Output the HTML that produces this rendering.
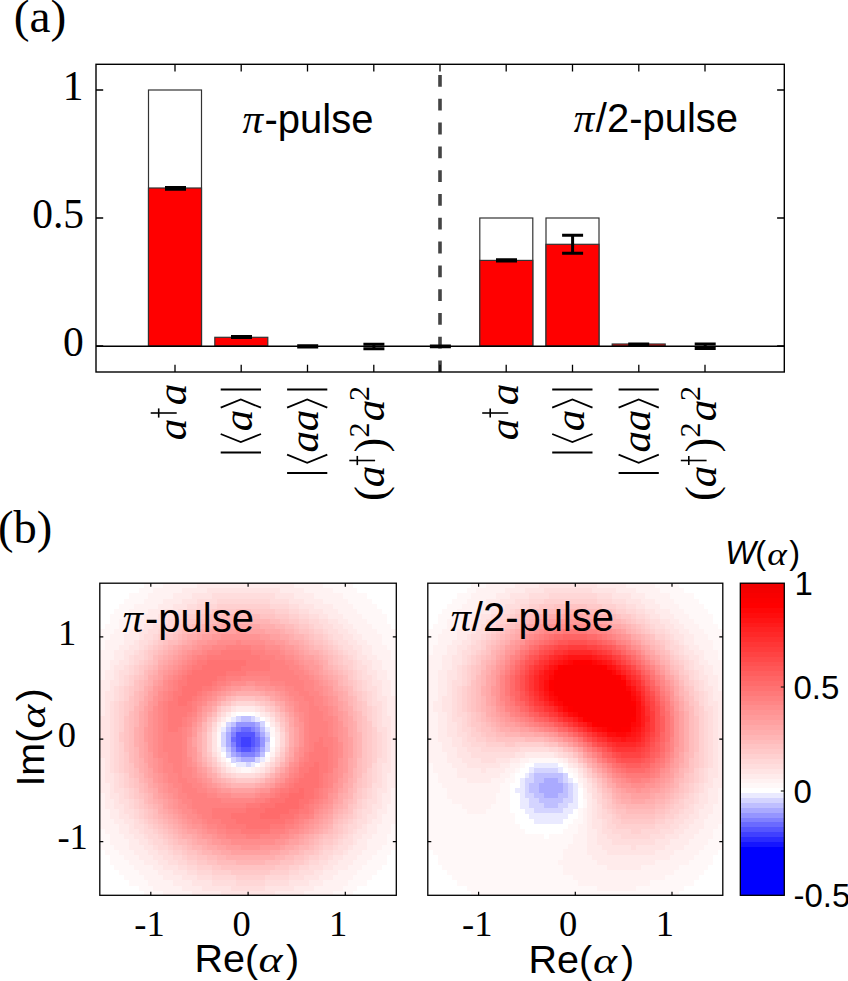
<!DOCTYPE html><html><head><meta charset="utf-8"><style>html,body{margin:0;padding:0;background:#fff;}svg{display:block;}</style></head><body>
<svg width="848" height="981" viewBox="0 0 848 981">
<rect width="848" height="981" fill="#fff"/>
<text x="13.8" y="31.8" font-family='"Liberation Serif", serif' font-size="47.4">(a)</text>
<rect x="148.5" y="90.0" width="53.0" height="256.0" fill="#fff" stroke="#333" stroke-width="1.2"/>
<rect x="479.8" y="218.0" width="53.0" height="128.0" fill="#fff" stroke="#333" stroke-width="1.2"/>
<rect x="546.0" y="218.0" width="53.0" height="128.0" fill="#fff" stroke="#333" stroke-width="1.2"/>
<rect x="148.5" y="188.0" width="53.0" height="158.0" fill="#f00" stroke="#333" stroke-width="1.2"/>
<rect x="214.8" y="337.3" width="53.0" height="8.7" fill="#f00" stroke="#333" stroke-width="1.2"/>
<rect x="479.8" y="260.4" width="53.0" height="85.6" fill="#f00" stroke="#333" stroke-width="1.2"/>
<rect x="546.0" y="244.3" width="53.0" height="101.7" fill="#f00" stroke="#333" stroke-width="1.2"/>
<rect x="612.2" y="344.0" width="53.0" height="2.0" fill="#f00" stroke="#333" stroke-width="1.2"/>
<line x1="96" y1="346.3" x2="784" y2="346.3" stroke="#000" stroke-width="1.4"/>
<path d="M440 75.0V86.8M440 98.8V110.6M440 122.6V134.4M440 146.4V158.2M440 170.2V182.0M440 194.0V205.8M440 217.8V229.6M440 241.6V253.4M440 265.4V277.2M440 289.2V301.0M440 313.0V324.8M440 336.8V348.6M440 360.6V372.0" stroke="#444" stroke-width="3.6" fill="none"/>
<path d="M165.0 187.6H186.0M165.0 189.2H186.0M175.5 187.6V189.2" stroke="#000" stroke-width="3.0" fill="none"/>
<path d="M231.0 336.6H252.0M231.0 337.5H252.0M241.5 336.6V337.5" stroke="#000" stroke-width="3.0" fill="none"/>
<path d="M297.2 345.8H318.2M297.2 347.0H318.2M307.7 345.8V347.0" stroke="#000" stroke-width="3.0" fill="none"/>
<path d="M363.4 344.2H384.4M363.4 348.7H384.4M373.9 344.2V348.7" stroke="#000" stroke-width="3.0" fill="none"/>
<path d="M429.9 346.0H450.9M429.9 346.9H450.9M440.4 346.0V346.9" stroke="#000" stroke-width="2.8" fill="none"/>
<path d="M496.0 259.7H517.0M496.0 261.0H517.0M506.5 259.7V261.0" stroke="#000" stroke-width="3.0" fill="none"/>
<path d="M562.1 235.3H583.1M562.1 253.2H583.1M572.6 235.3V253.2" stroke="#000" stroke-width="3.0" fill="none"/>
<path d="M628.2 343.9H649.2M628.2 344.9H649.2M638.7 343.9V344.9" stroke="#000" stroke-width="3.0" fill="none"/>
<path d="M694.7 344.0H715.7M694.7 348.6H715.7M705.2 344.0V348.6" stroke="#000" stroke-width="3.0" fill="none"/>
<rect x="96" y="64.3" width="688.3" height="307.7" fill="none" stroke="#000" stroke-width="1.4"/>
<path d="M175.0 64.3V71.5M175.0 372V364.8M241.2 64.3V71.5M241.2 372V364.8M307.5 64.3V71.5M307.5 372V364.8M373.8 64.3V71.5M373.8 372V364.8M440.0 64.3V71.5M440.0 372V364.8M506.2 64.3V71.5M506.2 372V364.8M572.5 64.3V71.5M572.5 372V364.8M638.8 64.3V71.5M638.8 372V364.8M705.0 64.3V71.5M705.0 372V364.8M96 346.0H103.2M784.3 346.0H777.1M96 218.0H103.2M784.3 218.0H777.1M96 90.0H103.2M784.3 90.0H777.1" stroke="#000" stroke-width="1.3" fill="none"/>
<g font-family='"Liberation Serif", serif' font-size="41.5" text-anchor="end">
<text x="83.6" y="100.4">1</text>
<text x="84.1" y="228.2">0.5</text>
<text x="83.8" y="356.3">0</text>
</g>
<text x="242.5" y="132.7" font-family='"Liberation Serif", serif' font-style="italic" font-size="41">π</text>
<text x="264.5" y="132.7" font-family='"Liberation Sans", sans-serif' font-size="40">-pulse</text>
<text x="573.7" y="132.2" font-family='"Liberation Serif", serif' font-style="italic" font-size="41">π</text>
<text x="595.8" y="132.2" font-family='"Liberation Sans", sans-serif' font-size="40">/2-pulse</text>
<text transform="translate(186.0 394.5) rotate(-90)" text-anchor="middle" font-family='"Liberation Serif", serif' font-size="43.0" font-style="italic">a</text>
<text transform="translate(186.0 429.4) rotate(-90)" text-anchor="middle" font-family='"Liberation Serif", serif' font-size="43.0" font-style="italic">a</text>
<path d="M150.7 413.0H176.7" stroke="#000" stroke-width="1.6"/>
<path d="M158.7 408.4V417.6" stroke="#000" stroke-width="1.6"/>
<path d="M220.7 389.6H261.0" stroke="#000" stroke-width="2"/>
<path d="M220.7 407.7L240.8 399.5L261.0 407.7" stroke="#000" stroke-width="1.8" fill="none"/>
<text transform="translate(252.2 420.6) rotate(-90)" text-anchor="middle" font-family='"Liberation Serif", serif' font-size="43.0" font-style="italic">a</text>
<path d="M220.7 434.0L240.8 442.0L261.0 434.0" stroke="#000" stroke-width="1.8" fill="none"/>
<path d="M220.7 452.4H261.0" stroke="#000" stroke-width="2"/>
<path d="M287.1 389.6H327.3" stroke="#000" stroke-width="2"/>
<path d="M287.1 407.7L307.2 399.5L327.3 407.7" stroke="#000" stroke-width="1.8" fill="none"/>
<text transform="translate(318.0 420.6) rotate(-90)" text-anchor="middle" font-family='"Liberation Serif", serif' font-size="43.0" font-style="italic">a</text>
<text transform="translate(318.0 441.8) rotate(-90)" text-anchor="middle" font-family='"Liberation Serif", serif' font-size="43.0" font-style="italic">a</text>
<path d="M287.1 454.7L307.2 462.8L327.3 454.7" stroke="#000" stroke-width="1.8" fill="none"/>
<path d="M287.1 473.1H327.3" stroke="#000" stroke-width="2"/>
<text transform="translate(368.5 393.5) rotate(-90)" text-anchor="middle" font-family='"Liberation Serif", serif' font-size="30.0">2</text>
<text transform="translate(384.4 410.5) rotate(-90)" text-anchor="middle" font-family='"Liberation Serif", serif' font-size="43.0" font-style="italic">a</text>
<text transform="translate(368.5 430.0) rotate(-90)" text-anchor="middle" font-family='"Liberation Serif", serif' font-size="30.0">2</text>
<text transform="translate(384.5 445.2) rotate(-90)" text-anchor="middle" font-family='"Liberation Serif", serif' font-size="44.5">)</text>
<path d="M349.3 460.5H375.1" stroke="#000" stroke-width="1.6"/>
<path d="M357.3 455.9V465.1" stroke="#000" stroke-width="1.6"/>
<text transform="translate(384.4 476.4) rotate(-90)" text-anchor="middle" font-family='"Liberation Serif", serif' font-size="43.0" font-style="italic">a</text>
<text transform="translate(384.5 493.6) rotate(-90)" text-anchor="middle" font-family='"Liberation Serif", serif' font-size="44.5">(</text>
<text transform="translate(517.5 394.5) rotate(-90)" text-anchor="middle" font-family='"Liberation Serif", serif' font-size="43.0" font-style="italic">a</text>
<text transform="translate(517.5 429.4) rotate(-90)" text-anchor="middle" font-family='"Liberation Serif", serif' font-size="43.0" font-style="italic">a</text>
<path d="M482.2 413.0H508.2" stroke="#000" stroke-width="1.6"/>
<path d="M490.2 408.4V417.6" stroke="#000" stroke-width="1.6"/>
<path d="M552.2 389.6H592.5" stroke="#000" stroke-width="2"/>
<path d="M552.2 407.7L572.4 399.5L592.5 407.7" stroke="#000" stroke-width="1.8" fill="none"/>
<text transform="translate(583.7 420.6) rotate(-90)" text-anchor="middle" font-family='"Liberation Serif", serif' font-size="43.0" font-style="italic">a</text>
<path d="M552.2 434.0L572.4 442.0L592.5 434.0" stroke="#000" stroke-width="1.8" fill="none"/>
<path d="M552.2 452.4H592.5" stroke="#000" stroke-width="2"/>
<path d="M618.6 389.6H658.8" stroke="#000" stroke-width="2"/>
<path d="M618.6 407.7L638.7 399.5L658.8 407.7" stroke="#000" stroke-width="1.8" fill="none"/>
<text transform="translate(649.5 420.6) rotate(-90)" text-anchor="middle" font-family='"Liberation Serif", serif' font-size="43.0" font-style="italic">a</text>
<text transform="translate(649.5 441.8) rotate(-90)" text-anchor="middle" font-family='"Liberation Serif", serif' font-size="43.0" font-style="italic">a</text>
<path d="M618.6 454.7L638.7 462.8L658.8 454.7" stroke="#000" stroke-width="1.8" fill="none"/>
<path d="M618.6 473.1H658.8" stroke="#000" stroke-width="2"/>
<text transform="translate(700.0 393.5) rotate(-90)" text-anchor="middle" font-family='"Liberation Serif", serif' font-size="30.0">2</text>
<text transform="translate(715.9 410.5) rotate(-90)" text-anchor="middle" font-family='"Liberation Serif", serif' font-size="43.0" font-style="italic">a</text>
<text transform="translate(700.0 430.0) rotate(-90)" text-anchor="middle" font-family='"Liberation Serif", serif' font-size="30.0">2</text>
<text transform="translate(716.0 445.2) rotate(-90)" text-anchor="middle" font-family='"Liberation Serif", serif' font-size="44.5">)</text>
<path d="M680.8 460.5H706.6" stroke="#000" stroke-width="1.6"/>
<path d="M688.8 455.9V465.1" stroke="#000" stroke-width="1.6"/>
<text transform="translate(715.9 476.4) rotate(-90)" text-anchor="middle" font-family='"Liberation Serif", serif' font-size="43.0" font-style="italic">a</text>
<text transform="translate(716.0 493.6) rotate(-90)" text-anchor="middle" font-family='"Liberation Serif", serif' font-size="44.5">(</text>
<text x="-2" y="543.1" font-family='"Liberation Serif", serif' font-size="46.5">(b)</text>
<g shape-rendering="crispEdges">
<path fill="#4040ff" d="M240.8 736.7H250.5V742.2H240.8zM240.8 741.8H250.5V747.3H240.8z"/>
<path fill="#5555ff" d="M235.9 731.6H255.3V737.1H235.9zM235.9 736.7H240.8V742.2H235.9zM250.5 736.7H255.3V742.2H250.5zM235.9 741.8H240.8V747.3H235.9zM250.5 741.8H255.3V747.3H250.5zM240.8 746.9H250.5V752.4H240.8z"/>
<path fill="#6a6aff" d="M240.8 726.5H250.5V732.0H240.8zM231.0 736.7H235.9V742.2H231.0zM255.3 736.7H260.2V742.2H255.3zM255.3 741.8H260.2V747.3H255.3zM235.9 746.9H240.8V752.4H235.9zM250.5 746.9H255.3V752.4H250.5z"/>
<path fill="#8080ff" d="M235.9 726.5H240.8V732.0H235.9zM250.5 726.5H255.3V732.0H250.5zM231.0 731.6H235.9V737.1H231.0zM255.3 731.6H260.2V737.1H255.3zM231.0 741.8H235.9V747.3H231.0zM255.3 746.9H260.2V752.4H255.3zM240.8 752.0H255.3V757.6H240.8z"/>
<path fill="#9595ff" d="M235.9 721.3H255.3V726.9H235.9zM231.0 726.5H235.9V732.0H231.0zM255.3 726.5H260.2V732.0H255.3zM260.2 736.7H265.1V742.2H260.2zM260.2 741.8H265.1V747.3H260.2zM231.0 746.9H235.9V752.4H231.0zM235.9 752.0H240.8V757.6H235.9zM255.3 752.0H260.2V757.6H255.3z"/>
<path fill="#aaaaff" d="M255.3 721.3H260.2V726.9H255.3zM226.2 731.6H231.0V737.1H226.2zM260.2 731.6H265.1V737.1H260.2zM226.2 736.7H231.0V742.2H226.2zM226.2 741.8H231.0V747.3H226.2zM260.2 746.9H265.1V752.4H260.2zM231.0 752.0H235.9V757.6H231.0zM240.8 757.2H255.3V762.7H240.8z"/>
<path fill="#bfbfff" d="M240.8 716.2H250.5V721.7H240.8zM231.0 721.3H235.9V726.9H231.0zM226.2 726.5H231.0V732.0H226.2zM260.2 726.5H265.1V732.0H260.2zM265.1 736.7H269.9V742.2H265.1zM226.2 746.9H231.0V752.4H226.2zM260.2 752.0H265.1V757.6H260.2zM235.9 757.2H240.8V762.7H235.9z"/>
<path fill="#d4d4ff" d="M235.9 716.2H240.8V721.7H235.9zM250.5 716.2H255.3V721.7H250.5zM226.2 721.3H231.0V726.9H226.2zM260.2 721.3H265.1V726.9H260.2zM221.3 731.6H226.2V737.1H221.3zM265.1 731.6H269.9V737.1H265.1zM221.3 736.7H226.2V742.2H221.3zM221.3 741.8H226.2V747.3H221.3zM265.1 741.8H269.9V747.3H265.1zM265.1 746.9H269.9V752.4H265.1zM226.2 752.0H231.0V757.6H226.2zM231.0 757.2H235.9V762.7H231.0zM255.3 757.2H260.2V762.7H255.3zM245.6 762.3H250.5V767.8H245.6z"/>
<path fill="#eaeaff" d="M231.0 716.2H235.9V721.7H231.0zM255.3 716.2H260.2V721.7H255.3zM221.3 726.5H226.2V732.0H221.3zM265.1 726.5H269.9V732.0H265.1zM221.3 746.9H226.2V752.4H221.3zM260.2 757.2H265.1V762.7H260.2zM235.9 762.3H245.6V767.8H235.9zM250.5 762.3H255.3V767.8H250.5z"/>
<path fill="#fff8f8" d="M143.5 583.2H163.0V588.7H143.5zM323.4 583.2H352.6V588.7H323.4zM138.7 588.3H153.3V593.8H138.7zM333.1 588.3H357.4V593.8H333.1zM129.0 593.4H148.4V598.9H129.0zM342.8 593.4H367.1V598.9H342.8zM124.1 598.5H143.5V604.1H124.1zM347.7 598.5H372.0V604.1H347.7zM119.2 603.7H133.8V609.2H119.2zM352.6 603.7H376.9V609.2H352.6zM114.4 608.8H129.0V614.3H114.4zM357.4 608.8H381.7V614.3H357.4zM109.5 613.9H124.1V619.4H109.5zM362.3 613.9H386.6V619.4H362.3zM109.5 619.0H119.2V624.5H109.5zM367.1 619.0H386.6V624.5H367.1zM104.7 624.1H119.2V629.6H104.7zM372.0 624.1H391.4V629.6H372.0zM99.8 629.2H114.4V634.8H99.8zM376.9 629.2H396.3V634.8H376.9zM99.8 634.4H109.5V639.9H99.8zM381.7 634.4H396.3V639.9H381.7zM99.8 639.5H104.7V645.0H99.8zM381.7 639.5H396.3V645.0H381.7zM99.8 644.6H104.7V650.1H99.8zM386.6 644.6H396.3V650.1H386.6zM391.4 649.7H396.3V655.2H391.4zM391.4 654.8H396.3V660.3H391.4zM231.0 711.1H235.9V716.6H231.0zM255.3 711.1H260.2V716.6H255.3zM226.2 716.2H231.0V721.7H226.2zM221.3 721.3H226.2V726.9H221.3zM269.9 726.5H274.8V732.0H269.9zM216.5 731.6H221.3V737.1H216.5zM269.9 731.6H274.8V737.1H269.9zM216.5 736.7H221.3V742.2H216.5zM216.5 741.8H221.3V747.3H216.5zM269.9 746.9H274.8V752.4H269.9zM265.1 757.2H269.9V762.7H265.1zM240.8 767.4H250.5V772.9H240.8zM391.4 823.7H396.3V829.2H391.4zM99.8 828.8H104.7V834.3H99.8zM391.4 828.8H396.3V834.3H391.4zM99.8 833.9H109.5V839.4H99.8zM386.6 833.9H396.3V839.4H386.6zM99.8 839.0H109.5V844.5H99.8zM386.6 839.0H396.3V844.5H386.6zM99.8 844.1H114.4V849.7H99.8zM381.7 844.1H396.3V849.7H381.7zM104.7 849.3H119.2V854.8H104.7zM376.9 849.3H391.4V854.8H376.9zM109.5 854.4H124.1V859.9H109.5zM372.0 854.4H386.6V859.9H372.0zM109.5 859.5H129.0V865.0H109.5zM367.1 859.5H386.6V865.0H367.1zM114.4 864.6H133.8V870.1H114.4zM362.3 864.6H381.7V870.1H362.3zM119.2 869.7H138.7V875.2H119.2zM357.4 869.7H376.9V875.2H357.4zM124.1 874.8H143.5V880.4H124.1zM352.6 874.8H372.0V880.4H352.6zM129.0 880.0H148.4V885.5H129.0zM347.7 880.0H367.1V885.5H347.7zM138.7 885.1H153.3V890.6H138.7zM342.8 885.1H357.4V890.6H342.8zM143.5 890.2H163.0V895.7H143.5zM333.1 890.2H352.6V895.7H333.1z"/>
<path fill="#fff2f2" d="M163.0 583.2H197.0V588.7H163.0zM294.2 583.2H323.4V588.7H294.2zM153.3 588.3H182.4V593.8H153.3zM303.9 588.3H333.1V593.8H303.9zM148.4 593.4H172.7V598.9H148.4zM313.7 593.4H342.8V598.9H313.7zM143.5 598.5H163.0V604.1H143.5zM323.4 598.5H347.7V604.1H323.4zM133.8 603.7H158.1V609.2H133.8zM333.1 603.7H352.6V609.2H333.1zM129.0 608.8H148.4V614.3H129.0zM338.0 608.8H357.4V614.3H338.0zM124.1 613.9H143.5V619.4H124.1zM342.8 613.9H362.3V619.4H342.8zM119.2 619.0H138.7V624.5H119.2zM347.7 619.0H367.1V624.5H347.7zM119.2 624.1H133.8V629.6H119.2zM352.6 624.1H372.0V629.6H352.6zM114.4 629.2H129.0V634.8H114.4zM357.4 629.2H376.9V634.8H357.4zM109.5 634.4H124.1V639.9H109.5zM362.3 634.4H381.7V639.9H362.3zM104.7 639.5H124.1V645.0H104.7zM367.1 639.5H381.7V645.0H367.1zM104.7 644.6H119.2V650.1H104.7zM372.0 644.6H386.6V650.1H372.0zM99.8 649.7H114.4V655.2H99.8zM372.0 649.7H391.4V655.2H372.0zM99.8 654.8H114.4V660.3H99.8zM376.9 654.8H391.4V660.3H376.9zM99.8 659.9H109.5V665.5H99.8zM381.7 659.9H396.3V665.5H381.7zM99.8 665.1H109.5V670.6H99.8zM381.7 665.1H396.3V670.6H381.7zM99.8 670.2H104.7V675.7H99.8zM386.6 670.2H396.3V675.7H386.6zM99.8 675.3H104.7V680.8H99.8zM386.6 675.3H396.3V680.8H386.6zM391.4 680.4H396.3V685.9H391.4zM391.4 685.5H396.3V691.0H391.4zM391.4 690.6H396.3V696.2H391.4zM265.1 716.2H269.9V721.7H265.1zM216.5 726.5H221.3V732.0H216.5zM216.5 746.9H221.3V752.4H216.5zM269.9 752.0H274.8V757.6H269.9zM221.3 757.2H226.2V762.7H221.3zM226.2 762.3H231.0V767.8H226.2zM260.2 762.3H265.1V767.8H260.2zM235.9 767.4H240.8V772.9H235.9zM250.5 767.4H255.3V772.9H250.5zM391.4 787.9H396.3V793.4H391.4zM99.8 793.0H104.7V798.5H99.8zM391.4 793.0H396.3V798.5H391.4zM99.8 798.1H104.7V803.6H99.8zM391.4 798.1H396.3V803.6H391.4zM99.8 803.2H104.7V808.7H99.8zM386.6 803.2H396.3V808.7H386.6zM99.8 808.3H109.5V813.8H99.8zM386.6 808.3H396.3V813.8H386.6zM99.8 813.4H109.5V819.0H99.8zM381.7 813.4H396.3V819.0H381.7zM99.8 818.6H114.4V824.1H99.8zM381.7 818.6H396.3V824.1H381.7zM99.8 823.7H119.2V829.2H99.8zM376.9 823.7H391.4V829.2H376.9zM104.7 828.8H119.2V834.3H104.7zM376.9 828.8H391.4V834.3H376.9zM109.5 833.9H124.1V839.4H109.5zM372.0 833.9H386.6V839.4H372.0zM109.5 839.0H129.0V844.5H109.5zM367.1 839.0H386.6V844.5H367.1zM114.4 844.1H129.0V849.7H114.4zM367.1 844.1H381.7V849.7H367.1zM119.2 849.3H133.8V854.8H119.2zM362.3 849.3H376.9V854.8H362.3zM124.1 854.4H138.7V859.9H124.1zM357.4 854.4H372.0V859.9H357.4zM129.0 859.5H143.5V865.0H129.0zM352.6 859.5H367.1V865.0H352.6zM133.8 864.6H153.3V870.1H133.8zM347.7 864.6H362.3V870.1H347.7zM138.7 869.7H158.1V875.2H138.7zM338.0 869.7H357.4V875.2H338.0zM143.5 874.8H163.0V880.4H143.5zM333.1 874.8H352.6V880.4H333.1zM148.4 880.0H172.7V885.5H148.4zM323.4 880.0H347.7V885.5H323.4zM153.3 885.1H182.4V890.6H153.3zM313.7 885.1H342.8V890.6H313.7zM163.0 890.2H192.2V895.7H163.0zM303.9 890.2H333.1V895.7H303.9z"/>
<path fill="#ffebeb" d="M197.0 583.2H294.2V588.7H197.0zM182.4 588.3H206.7V593.8H182.4zM279.6 588.3H303.9V593.8H279.6zM172.7 593.4H192.2V598.9H172.7zM294.2 593.4H313.7V598.9H294.2zM163.0 598.5H182.4V604.1H163.0zM303.9 598.5H323.4V604.1H303.9zM158.1 603.7H172.7V609.2H158.1zM313.7 603.7H333.1V609.2H313.7zM148.4 608.8H163.0V614.3H148.4zM323.4 608.8H338.0V614.3H323.4zM143.5 613.9H158.1V619.4H143.5zM328.3 613.9H342.8V619.4H328.3zM138.7 619.0H153.3V624.5H138.7zM338.0 619.0H347.7V624.5H338.0zM133.8 624.1H143.5V629.6H133.8zM342.8 624.1H352.6V629.6H342.8zM129.0 629.2H138.7V634.8H129.0zM347.7 629.2H357.4V634.8H347.7zM124.1 634.4H138.7V639.9H124.1zM352.6 634.4H362.3V639.9H352.6zM124.1 639.5H133.8V645.0H124.1zM357.4 639.5H367.1V645.0H357.4zM119.2 644.6H129.0V650.1H119.2zM362.3 644.6H372.0V650.1H362.3zM114.4 649.7H124.1V655.2H114.4zM362.3 649.7H372.0V655.2H362.3zM114.4 654.8H124.1V660.3H114.4zM367.1 654.8H376.9V660.3H367.1zM109.5 659.9H119.2V665.5H109.5zM372.0 659.9H381.7V665.5H372.0zM109.5 665.1H114.4V670.6H109.5zM372.0 665.1H381.7V670.6H372.0zM104.7 670.2H114.4V675.7H104.7zM376.9 670.2H386.6V675.7H376.9zM104.7 675.3H114.4V680.8H104.7zM376.9 675.3H386.6V680.8H376.9zM99.8 680.4H109.5V685.9H99.8zM381.7 680.4H391.4V685.9H381.7zM99.8 685.5H109.5V691.0H99.8zM381.7 685.5H391.4V691.0H381.7zM99.8 690.6H104.7V696.2H99.8zM381.7 690.6H391.4V696.2H381.7zM99.8 695.8H104.7V701.3H99.8zM386.6 695.8H396.3V701.3H386.6zM99.8 700.9H104.7V706.4H99.8zM386.6 700.9H396.3V706.4H386.6zM99.8 706.0H104.7V711.5H99.8zM235.9 706.0H255.3V711.5H235.9zM386.6 706.0H396.3V711.5H386.6zM99.8 711.1H104.7V716.6H99.8zM226.2 711.1H231.0V716.6H226.2zM260.2 711.1H265.1V716.6H260.2zM386.6 711.1H396.3V716.6H386.6zM221.3 716.2H226.2V721.7H221.3zM391.4 716.2H396.3V721.7H391.4zM216.5 721.3H221.3V726.9H216.5zM269.9 721.3H274.8V726.9H269.9zM391.4 721.3H396.3V726.9H391.4zM391.4 726.5H396.3V732.0H391.4zM274.8 731.6H279.6V737.1H274.8zM391.4 731.6H396.3V737.1H391.4zM274.8 736.7H279.6V742.2H274.8zM391.4 736.7H396.3V742.2H391.4zM274.8 741.8H279.6V747.3H274.8zM391.4 741.8H396.3V747.3H391.4zM391.4 746.9H396.3V752.4H391.4zM216.5 752.0H221.3V757.6H216.5zM391.4 752.0H396.3V757.6H391.4zM99.8 757.2H104.7V762.7H99.8zM391.4 757.2H396.3V762.7H391.4zM99.8 762.3H104.7V767.8H99.8zM391.4 762.3H396.3V767.8H391.4zM99.8 767.4H104.7V772.9H99.8zM231.0 767.4H235.9V772.9H231.0zM255.3 767.4H260.2V772.9H255.3zM391.4 767.4H396.3V772.9H391.4zM99.8 772.5H104.7V778.0H99.8zM386.6 772.5H396.3V778.0H386.6zM99.8 777.6H104.7V783.1H99.8zM386.6 777.6H396.3V783.1H386.6zM99.8 782.7H109.5V788.3H99.8zM386.6 782.7H396.3V788.3H386.6zM99.8 787.9H109.5V793.4H99.8zM386.6 787.9H391.4V793.4H386.6zM104.7 793.0H109.5V798.5H104.7zM381.7 793.0H391.4V798.5H381.7zM104.7 798.1H114.4V803.6H104.7zM381.7 798.1H391.4V803.6H381.7zM104.7 803.2H114.4V808.7H104.7zM381.7 803.2H386.6V808.7H381.7zM109.5 808.3H119.2V813.8H109.5zM376.9 808.3H386.6V813.8H376.9zM109.5 813.4H119.2V819.0H109.5zM376.9 813.4H381.7V819.0H376.9zM114.4 818.6H124.1V824.1H114.4zM372.0 818.6H381.7V824.1H372.0zM119.2 823.7H129.0V829.2H119.2zM367.1 823.7H376.9V829.2H367.1zM119.2 828.8H129.0V834.3H119.2zM367.1 828.8H376.9V834.3H367.1zM124.1 833.9H133.8V839.4H124.1zM362.3 833.9H372.0V839.4H362.3zM129.0 839.0H138.7V844.5H129.0zM357.4 839.0H367.1V844.5H357.4zM129.0 844.1H143.5V849.7H129.0zM352.6 844.1H367.1V849.7H352.6zM133.8 849.3H148.4V854.8H133.8zM347.7 849.3H362.3V854.8H347.7zM138.7 854.4H153.3V859.9H138.7zM342.8 854.4H357.4V859.9H342.8zM143.5 859.5H158.1V865.0H143.5zM338.0 859.5H352.6V865.0H338.0zM153.3 864.6H163.0V870.1H153.3zM333.1 864.6H347.7V870.1H333.1zM158.1 869.7H172.7V875.2H158.1zM323.4 869.7H338.0V875.2H323.4zM163.0 874.8H182.4V880.4H163.0zM318.5 874.8H333.1V880.4H318.5zM172.7 880.0H192.2V885.5H172.7zM308.8 880.0H323.4V885.5H308.8zM182.4 885.1H201.9V890.6H182.4zM294.2 885.1H313.7V890.6H294.2zM192.2 890.2H221.3V895.7H192.2zM274.8 890.2H303.9V895.7H274.8z"/>
<path fill="#ffe4e4" d="M206.7 588.3H279.6V593.8H206.7zM192.2 593.4H211.6V598.9H192.2zM274.8 593.4H294.2V598.9H274.8zM182.4 598.5H197.0V604.1H182.4zM289.4 598.5H303.9V604.1H289.4zM172.7 603.7H187.3V609.2H172.7zM299.1 603.7H313.7V609.2H299.1zM163.0 608.8H177.6V614.3H163.0zM308.8 608.8H323.4V614.3H308.8zM158.1 613.9H167.8V619.4H158.1zM318.5 613.9H328.3V619.4H318.5zM153.3 619.0H163.0V624.5H153.3zM328.3 619.0H338.0V624.5H328.3zM143.5 624.1H153.3V629.6H143.5zM333.1 624.1H342.8V629.6H333.1zM138.7 629.2H148.4V634.8H138.7zM338.0 629.2H347.7V634.8H338.0zM138.7 634.4H143.5V639.9H138.7zM342.8 634.4H352.6V639.9H342.8zM133.8 639.5H138.7V645.0H133.8zM347.7 639.5H357.4V645.0H347.7zM129.0 644.6H138.7V650.1H129.0zM352.6 644.6H362.3V650.1H352.6zM124.1 649.7H133.8V655.2H124.1zM357.4 649.7H362.3V655.2H357.4zM124.1 654.8H129.0V660.3H124.1zM357.4 654.8H367.1V660.3H357.4zM119.2 659.9H129.0V665.5H119.2zM362.3 659.9H372.0V665.5H362.3zM114.4 665.1H124.1V670.6H114.4zM367.1 665.1H372.0V670.6H367.1zM114.4 670.2H119.2V675.7H114.4zM367.1 670.2H376.9V675.7H367.1zM114.4 675.3H119.2V680.8H114.4zM372.0 675.3H376.9V680.8H372.0zM109.5 680.4H119.2V685.9H109.5zM372.0 680.4H381.7V685.9H372.0zM109.5 685.5H114.4V691.0H109.5zM376.9 685.5H381.7V691.0H376.9zM104.7 690.6H114.4V696.2H104.7zM376.9 690.6H381.7V696.2H376.9zM104.7 695.8H114.4V701.3H104.7zM376.9 695.8H386.6V701.3H376.9zM104.7 700.9H109.5V706.4H104.7zM381.7 700.9H386.6V706.4H381.7zM104.7 706.0H109.5V711.5H104.7zM231.0 706.0H235.9V711.5H231.0zM255.3 706.0H260.2V711.5H255.3zM381.7 706.0H386.6V711.5H381.7zM104.7 711.1H109.5V716.6H104.7zM265.1 711.1H269.9V716.6H265.1zM381.7 711.1H386.6V716.6H381.7zM99.8 716.2H109.5V721.7H99.8zM269.9 716.2H274.8V721.7H269.9zM381.7 716.2H391.4V721.7H381.7zM99.8 721.3H109.5V726.9H99.8zM381.7 721.3H391.4V726.9H381.7zM99.8 726.5H109.5V732.0H99.8zM274.8 726.5H279.6V732.0H274.8zM386.6 726.5H391.4V732.0H386.6zM99.8 731.6H109.5V737.1H99.8zM211.6 731.6H216.5V737.1H211.6zM386.6 731.6H391.4V737.1H386.6zM99.8 736.7H109.5V742.2H99.8zM211.6 736.7H216.5V742.2H211.6zM386.6 736.7H391.4V742.2H386.6zM99.8 741.8H109.5V747.3H99.8zM211.6 741.8H216.5V747.3H211.6zM386.6 741.8H391.4V747.3H386.6zM99.8 746.9H109.5V752.4H99.8zM211.6 746.9H216.5V752.4H211.6zM274.8 746.9H279.6V752.4H274.8zM386.6 746.9H391.4V752.4H386.6zM99.8 752.0H109.5V757.6H99.8zM386.6 752.0H391.4V757.6H386.6zM104.7 757.2H109.5V762.7H104.7zM216.5 757.2H221.3V762.7H216.5zM269.9 757.2H274.8V762.7H269.9zM386.6 757.2H391.4V762.7H386.6zM104.7 762.3H109.5V767.8H104.7zM221.3 762.3H226.2V767.8H221.3zM265.1 762.3H269.9V767.8H265.1zM381.7 762.3H391.4V767.8H381.7zM104.7 767.4H109.5V772.9H104.7zM226.2 767.4H231.0V772.9H226.2zM260.2 767.4H265.1V772.9H260.2zM381.7 767.4H391.4V772.9H381.7zM104.7 772.5H114.4V778.0H104.7zM381.7 772.5H386.6V778.0H381.7zM104.7 777.6H114.4V783.1H104.7zM381.7 777.6H386.6V783.1H381.7zM109.5 782.7H114.4V788.3H109.5zM381.7 782.7H386.6V788.3H381.7zM109.5 787.9H114.4V793.4H109.5zM376.9 787.9H386.6V793.4H376.9zM109.5 793.0H119.2V798.5H109.5zM376.9 793.0H381.7V798.5H376.9zM114.4 798.1H119.2V803.6H114.4zM376.9 798.1H381.7V803.6H376.9zM114.4 803.2H124.1V808.7H114.4zM372.0 803.2H381.7V808.7H372.0zM119.2 808.3H124.1V813.8H119.2zM372.0 808.3H376.9V813.8H372.0zM119.2 813.4H129.0V819.0H119.2zM367.1 813.4H376.9V819.0H367.1zM124.1 818.6H133.8V824.1H124.1zM367.1 818.6H372.0V824.1H367.1zM129.0 823.7H133.8V829.2H129.0zM362.3 823.7H367.1V829.2H362.3zM129.0 828.8H138.7V834.3H129.0zM357.4 828.8H367.1V834.3H357.4zM133.8 833.9H143.5V839.4H133.8zM352.6 833.9H362.3V839.4H352.6zM138.7 839.0H148.4V844.5H138.7zM352.6 839.0H357.4V844.5H352.6zM143.5 844.1H153.3V849.7H143.5zM347.7 844.1H352.6V849.7H347.7zM148.4 849.3H158.1V854.8H148.4zM342.8 849.3H347.7V854.8H342.8zM153.3 854.4H163.0V859.9H153.3zM333.1 854.4H342.8V859.9H333.1zM158.1 859.5H167.8V865.0H158.1zM328.3 859.5H338.0V865.0H328.3zM163.0 864.6H177.6V870.1H163.0zM323.4 864.6H333.1V870.1H323.4zM172.7 869.7H187.3V875.2H172.7zM313.7 869.7H323.4V875.2H313.7zM182.4 874.8H197.0V880.4H182.4zM303.9 874.8H318.5V880.4H303.9zM192.2 880.0H211.6V885.5H192.2zM289.4 880.0H308.8V885.5H289.4zM201.9 885.1H231.0V890.6H201.9zM265.1 885.1H294.2V890.6H265.1zM221.3 890.2H274.8V895.7H221.3z"/>
<path fill="#ffdddd" d="M211.6 593.4H274.8V598.9H211.6zM197.0 598.5H216.5V604.1H197.0zM269.9 598.5H289.4V604.1H269.9zM187.3 603.7H197.0V609.2H187.3zM289.4 603.7H299.1V609.2H289.4zM177.6 608.8H187.3V614.3H177.6zM299.1 608.8H308.8V614.3H299.1zM167.8 613.9H177.6V619.4H167.8zM308.8 613.9H318.5V619.4H308.8zM163.0 619.0H167.8V624.5H163.0zM318.5 619.0H328.3V624.5H318.5zM153.3 624.1H163.0V629.6H153.3zM323.4 624.1H333.1V629.6H323.4zM148.4 629.2H158.1V634.8H148.4zM328.3 629.2H338.0V634.8H328.3zM143.5 634.4H153.3V639.9H143.5zM333.1 634.4H342.8V639.9H333.1zM138.7 639.5H148.4V645.0H138.7zM338.0 639.5H347.7V645.0H338.0zM138.7 644.6H143.5V650.1H138.7zM342.8 644.6H352.6V650.1H342.8zM133.8 649.7H138.7V655.2H133.8zM347.7 649.7H357.4V655.2H347.7zM129.0 654.8H133.8V660.3H129.0zM352.6 654.8H357.4V660.3H352.6zM129.0 659.9H133.8V665.5H129.0zM357.4 659.9H362.3V665.5H357.4zM124.1 665.1H129.0V670.6H124.1zM357.4 665.1H367.1V670.6H357.4zM119.2 670.2H129.0V675.7H119.2zM362.3 670.2H367.1V675.7H362.3zM119.2 675.3H124.1V680.8H119.2zM362.3 675.3H372.0V680.8H362.3zM119.2 680.4H124.1V685.9H119.2zM367.1 680.4H372.0V685.9H367.1zM114.4 685.5H119.2V691.0H114.4zM367.1 685.5H376.9V691.0H367.1zM114.4 690.6H119.2V696.2H114.4zM372.0 690.6H376.9V696.2H372.0zM114.4 695.8H119.2V701.3H114.4zM372.0 695.8H376.9V701.3H372.0zM109.5 700.9H114.4V706.4H109.5zM372.0 700.9H381.7V706.4H372.0zM109.5 706.0H114.4V711.5H109.5zM260.2 706.0H265.1V711.5H260.2zM376.9 706.0H381.7V711.5H376.9zM109.5 711.1H114.4V716.6H109.5zM221.3 711.1H226.2V716.6H221.3zM376.9 711.1H381.7V716.6H376.9zM109.5 716.2H114.4V721.7H109.5zM216.5 716.2H221.3V721.7H216.5zM376.9 716.2H381.7V721.7H376.9zM109.5 721.3H114.4V726.9H109.5zM274.8 721.3H279.6V726.9H274.8zM376.9 721.3H381.7V726.9H376.9zM109.5 726.5H114.4V732.0H109.5zM211.6 726.5H216.5V732.0H211.6zM376.9 726.5H386.6V732.0H376.9zM109.5 731.6H114.4V737.1H109.5zM381.7 731.6H386.6V737.1H381.7zM109.5 736.7H114.4V742.2H109.5zM381.7 736.7H386.6V742.2H381.7zM109.5 741.8H114.4V747.3H109.5zM381.7 741.8H386.6V747.3H381.7zM109.5 746.9H114.4V752.4H109.5zM381.7 746.9H386.6V752.4H381.7zM109.5 752.0H114.4V757.6H109.5zM211.6 752.0H216.5V757.6H211.6zM274.8 752.0H279.6V757.6H274.8zM381.7 752.0H386.6V757.6H381.7zM109.5 757.2H114.4V762.7H109.5zM376.9 757.2H386.6V762.7H376.9zM109.5 762.3H114.4V767.8H109.5zM376.9 762.3H381.7V767.8H376.9zM109.5 767.4H114.4V772.9H109.5zM376.9 767.4H381.7V772.9H376.9zM114.4 772.5H119.2V778.0H114.4zM235.9 772.5H255.3V778.0H235.9zM376.9 772.5H381.7V778.0H376.9zM114.4 777.6H119.2V783.1H114.4zM376.9 777.6H381.7V783.1H376.9zM114.4 782.7H119.2V788.3H114.4zM372.0 782.7H381.7V788.3H372.0zM114.4 787.9H124.1V793.4H114.4zM372.0 787.9H376.9V793.4H372.0zM119.2 793.0H124.1V798.5H119.2zM372.0 793.0H376.9V798.5H372.0zM119.2 798.1H129.0V803.6H119.2zM367.1 798.1H376.9V803.6H367.1zM124.1 803.2H129.0V808.7H124.1zM367.1 803.2H372.0V808.7H367.1zM124.1 808.3H133.8V813.8H124.1zM362.3 808.3H372.0V813.8H362.3zM129.0 813.4H133.8V819.0H129.0zM362.3 813.4H367.1V819.0H362.3zM133.8 818.6H138.7V824.1H133.8zM357.4 818.6H367.1V824.1H357.4zM133.8 823.7H143.5V829.2H133.8zM357.4 823.7H362.3V829.2H357.4zM138.7 828.8H143.5V834.3H138.7zM352.6 828.8H357.4V834.3H352.6zM143.5 833.9H148.4V839.4H143.5zM347.7 833.9H352.6V839.4H347.7zM148.4 839.0H153.3V844.5H148.4zM342.8 839.0H352.6V844.5H342.8zM153.3 844.1H158.1V849.7H153.3zM338.0 844.1H347.7V849.7H338.0zM158.1 849.3H167.8V854.8H158.1zM333.1 849.3H342.8V854.8H333.1zM163.0 854.4H172.7V859.9H163.0zM328.3 854.4H333.1V859.9H328.3zM167.8 859.5H177.6V865.0H167.8zM318.5 859.5H328.3V865.0H318.5zM177.6 864.6H187.3V870.1H177.6zM308.8 864.6H323.4V870.1H308.8zM187.3 869.7H197.0V875.2H187.3zM299.1 869.7H313.7V875.2H299.1zM197.0 874.8H211.6V880.4H197.0zM289.4 874.8H303.9V880.4H289.4zM211.6 880.0H235.9V885.5H211.6zM265.1 880.0H289.4V885.5H265.1zM231.0 885.1H265.1V890.6H231.0z"/>
<path fill="#ffd7d7" d="M216.5 598.5H269.9V604.1H216.5zM197.0 603.7H216.5V609.2H197.0zM269.9 603.7H289.4V609.2H269.9zM187.3 608.8H197.0V614.3H187.3zM289.4 608.8H299.1V614.3H289.4zM177.6 613.9H187.3V619.4H177.6zM299.1 613.9H308.8V619.4H299.1zM167.8 619.0H177.6V624.5H167.8zM308.8 619.0H318.5V624.5H308.8zM163.0 624.1H172.7V629.6H163.0zM313.7 624.1H323.4V629.6H313.7zM158.1 629.2H163.0V634.8H158.1zM323.4 629.2H328.3V634.8H323.4zM153.3 634.4H158.1V639.9H153.3zM328.3 634.4H333.1V639.9H328.3zM148.4 639.5H153.3V645.0H148.4zM333.1 639.5H338.0V645.0H333.1zM143.5 644.6H148.4V650.1H143.5zM338.0 644.6H342.8V650.1H338.0zM138.7 649.7H143.5V655.2H138.7zM342.8 649.7H347.7V655.2H342.8zM133.8 654.8H143.5V660.3H133.8zM347.7 654.8H352.6V660.3H347.7zM133.8 659.9H138.7V665.5H133.8zM352.6 659.9H357.4V665.5H352.6zM129.0 665.1H133.8V670.6H129.0zM352.6 665.1H357.4V670.6H352.6zM129.0 670.2H133.8V675.7H129.0zM357.4 670.2H362.3V675.7H357.4zM124.1 675.3H129.0V680.8H124.1zM357.4 675.3H362.3V680.8H357.4zM124.1 680.4H129.0V685.9H124.1zM362.3 680.4H367.1V685.9H362.3zM119.2 685.5H124.1V691.0H119.2zM362.3 685.5H367.1V691.0H362.3zM119.2 690.6H124.1V696.2H119.2zM367.1 690.6H372.0V696.2H367.1zM119.2 695.8H124.1V701.3H119.2zM367.1 695.8H372.0V701.3H367.1zM114.4 700.9H119.2V706.4H114.4zM235.9 700.9H255.3V706.4H235.9zM367.1 700.9H372.0V706.4H367.1zM114.4 706.0H119.2V711.5H114.4zM226.2 706.0H231.0V711.5H226.2zM372.0 706.0H376.9V711.5H372.0zM114.4 711.1H119.2V716.6H114.4zM269.9 711.1H274.8V716.6H269.9zM372.0 711.1H376.9V716.6H372.0zM114.4 716.2H119.2V721.7H114.4zM372.0 716.2H376.9V721.7H372.0zM114.4 721.3H119.2V726.9H114.4zM211.6 721.3H216.5V726.9H211.6zM372.0 721.3H376.9V726.9H372.0zM114.4 726.5H119.2V732.0H114.4zM114.4 731.6H119.2V737.1H114.4zM279.6 731.6H284.5V737.1H279.6zM376.9 731.6H381.7V737.1H376.9zM114.4 736.7H119.2V742.2H114.4zM279.6 736.7H284.5V742.2H279.6zM376.9 736.7H381.7V742.2H376.9zM114.4 741.8H119.2V747.3H114.4zM279.6 741.8H284.5V747.3H279.6zM376.9 741.8H381.7V747.3H376.9zM114.4 746.9H119.2V752.4H114.4zM376.9 746.9H381.7V752.4H376.9zM114.4 752.0H119.2V757.6H114.4zM376.9 752.0H381.7V757.6H376.9zM114.4 757.2H119.2V762.7H114.4zM114.4 762.3H119.2V767.8H114.4zM216.5 762.3H221.3V767.8H216.5zM269.9 762.3H274.8V767.8H269.9zM372.0 762.3H376.9V767.8H372.0zM114.4 767.4H119.2V772.9H114.4zM221.3 767.4H226.2V772.9H221.3zM265.1 767.4H269.9V772.9H265.1zM372.0 767.4H376.9V772.9H372.0zM119.2 772.5H124.1V778.0H119.2zM231.0 772.5H235.9V778.0H231.0zM255.3 772.5H260.2V778.0H255.3zM372.0 772.5H376.9V778.0H372.0zM119.2 777.6H124.1V783.1H119.2zM372.0 777.6H376.9V783.1H372.0zM119.2 782.7H124.1V788.3H119.2zM124.1 787.9H129.0V793.4H124.1zM367.1 787.9H372.0V793.4H367.1zM124.1 793.0H129.0V798.5H124.1zM367.1 793.0H372.0V798.5H367.1zM129.0 798.1H133.8V803.6H129.0zM362.3 798.1H367.1V803.6H362.3zM129.0 803.2H133.8V808.7H129.0zM362.3 803.2H367.1V808.7H362.3zM133.8 808.3H138.7V813.8H133.8zM357.4 808.3H362.3V813.8H357.4zM133.8 813.4H138.7V819.0H133.8zM357.4 813.4H362.3V819.0H357.4zM138.7 818.6H143.5V824.1H138.7zM352.6 818.6H357.4V824.1H352.6zM143.5 823.7H148.4V829.2H143.5zM347.7 823.7H357.4V829.2H347.7zM143.5 828.8H153.3V834.3H143.5zM347.7 828.8H352.6V834.3H347.7zM148.4 833.9H158.1V839.4H148.4zM342.8 833.9H347.7V839.4H342.8zM153.3 839.0H163.0V844.5H153.3zM338.0 839.0H342.8V844.5H338.0zM158.1 844.1H167.8V849.7H158.1zM333.1 844.1H338.0V849.7H333.1zM167.8 849.3H172.7V854.8H167.8zM323.4 849.3H333.1V854.8H323.4zM172.7 854.4H182.4V859.9H172.7zM318.5 854.4H328.3V859.9H318.5zM177.6 859.5H187.3V865.0H177.6zM308.8 859.5H318.5V865.0H308.8zM187.3 864.6H197.0V870.1H187.3zM299.1 864.6H308.8V870.1H299.1zM197.0 869.7H211.6V875.2H197.0zM289.4 869.7H299.1V875.2H289.4zM211.6 874.8H235.9V880.4H211.6zM265.1 874.8H289.4V880.4H265.1zM235.9 880.0H265.1V885.5H235.9z"/>
<path fill="#ffd0d0" d="M216.5 603.7H269.9V609.2H216.5zM197.0 608.8H211.6V614.3H197.0zM274.8 608.8H289.4V614.3H274.8zM187.3 613.9H197.0V619.4H187.3zM289.4 613.9H299.1V619.4H289.4zM177.6 619.0H187.3V624.5H177.6zM299.1 619.0H308.8V624.5H299.1zM172.7 624.1H177.6V629.6H172.7zM308.8 624.1H313.7V629.6H308.8zM163.0 629.2H172.7V634.8H163.0zM313.7 629.2H323.4V634.8H313.7zM158.1 634.4H163.0V639.9H158.1zM323.4 634.4H328.3V639.9H323.4zM153.3 639.5H158.1V645.0H153.3zM328.3 639.5H333.1V645.0H328.3zM148.4 644.6H153.3V650.1H148.4zM333.1 644.6H338.0V650.1H333.1zM143.5 649.7H148.4V655.2H143.5zM338.0 649.7H342.8V655.2H338.0zM143.5 654.8H148.4V660.3H143.5zM342.8 654.8H347.7V660.3H342.8zM138.7 659.9H143.5V665.5H138.7zM342.8 659.9H352.6V665.5H342.8zM133.8 665.1H138.7V670.6H133.8zM347.7 665.1H352.6V670.6H347.7zM133.8 670.2H138.7V675.7H133.8zM352.6 670.2H357.4V675.7H352.6zM129.0 675.3H133.8V680.8H129.0zM352.6 675.3H357.4V680.8H352.6zM129.0 680.4H133.8V685.9H129.0zM357.4 680.4H362.3V685.9H357.4zM124.1 685.5H129.0V691.0H124.1zM357.4 685.5H362.3V691.0H357.4zM124.1 690.6H129.0V696.2H124.1zM362.3 690.6H367.1V696.2H362.3zM124.1 695.8H129.0V701.3H124.1zM362.3 695.8H367.1V701.3H362.3zM119.2 700.9H124.1V706.4H119.2zM231.0 700.9H235.9V706.4H231.0zM255.3 700.9H260.2V706.4H255.3zM119.2 706.0H124.1V711.5H119.2zM221.3 706.0H226.2V711.5H221.3zM265.1 706.0H269.9V711.5H265.1zM367.1 706.0H372.0V711.5H367.1zM119.2 711.1H124.1V716.6H119.2zM216.5 711.1H221.3V716.6H216.5zM367.1 711.1H372.0V716.6H367.1zM119.2 716.2H124.1V721.7H119.2zM274.8 716.2H279.6V721.7H274.8zM367.1 716.2H372.0V721.7H367.1zM119.2 721.3H124.1V726.9H119.2zM119.2 726.5H124.1V732.0H119.2zM279.6 726.5H284.5V732.0H279.6zM372.0 726.5H376.9V732.0H372.0zM206.7 731.6H211.6V737.1H206.7zM372.0 731.6H376.9V737.1H372.0zM206.7 736.7H211.6V742.2H206.7zM372.0 736.7H376.9V742.2H372.0zM119.2 741.8H124.1V747.3H119.2zM206.7 741.8H211.6V747.3H206.7zM372.0 741.8H376.9V747.3H372.0zM119.2 746.9H124.1V752.4H119.2zM206.7 746.9H211.6V752.4H206.7zM279.6 746.9H284.5V752.4H279.6zM372.0 746.9H376.9V752.4H372.0zM119.2 752.0H124.1V757.6H119.2zM372.0 752.0H376.9V757.6H372.0zM119.2 757.2H124.1V762.7H119.2zM211.6 757.2H216.5V762.7H211.6zM274.8 757.2H279.6V762.7H274.8zM372.0 757.2H376.9V762.7H372.0zM119.2 762.3H124.1V767.8H119.2zM119.2 767.4H124.1V772.9H119.2zM367.1 767.4H372.0V772.9H367.1zM124.1 772.5H129.0V778.0H124.1zM226.2 772.5H231.0V778.0H226.2zM260.2 772.5H265.1V778.0H260.2zM367.1 772.5H372.0V778.0H367.1zM124.1 777.6H129.0V783.1H124.1zM367.1 777.6H372.0V783.1H367.1zM124.1 782.7H129.0V788.3H124.1zM367.1 782.7H372.0V788.3H367.1zM129.0 787.9H133.8V793.4H129.0zM362.3 787.9H367.1V793.4H362.3zM129.0 793.0H133.8V798.5H129.0zM362.3 793.0H367.1V798.5H362.3zM133.8 798.1H138.7V803.6H133.8zM357.4 798.1H362.3V803.6H357.4zM133.8 803.2H138.7V808.7H133.8zM357.4 803.2H362.3V808.7H357.4zM138.7 808.3H143.5V813.8H138.7zM352.6 808.3H357.4V813.8H352.6zM138.7 813.4H143.5V819.0H138.7zM352.6 813.4H357.4V819.0H352.6zM143.5 818.6H148.4V824.1H143.5zM347.7 818.6H352.6V824.1H347.7zM148.4 823.7H153.3V829.2H148.4zM342.8 823.7H347.7V829.2H342.8zM153.3 828.8H158.1V834.3H153.3zM342.8 828.8H347.7V834.3H342.8zM158.1 833.9H163.0V839.4H158.1zM338.0 833.9H342.8V839.4H338.0zM163.0 839.0H167.8V844.5H163.0zM333.1 839.0H338.0V844.5H333.1zM167.8 844.1H172.7V849.7H167.8zM323.4 844.1H333.1V849.7H323.4zM172.7 849.3H182.4V854.8H172.7zM318.5 849.3H323.4V854.8H318.5zM182.4 854.4H187.3V859.9H182.4zM308.8 854.4H318.5V859.9H308.8zM187.3 859.5H197.0V865.0H187.3zM303.9 859.5H308.8V865.0H303.9zM197.0 864.6H211.6V870.1H197.0zM289.4 864.6H299.1V870.1H289.4zM211.6 869.7H231.0V875.2H211.6zM269.9 869.7H289.4V875.2H269.9zM235.9 874.8H265.1V880.4H235.9z"/>
<path fill="#ffc9c9" d="M211.6 608.8H235.9V614.3H211.6zM250.5 608.8H274.8V614.3H250.5zM197.0 613.9H206.7V619.4H197.0zM274.8 613.9H289.4V619.4H274.8zM187.3 619.0H197.0V624.5H187.3zM289.4 619.0H299.1V624.5H289.4zM177.6 624.1H187.3V629.6H177.6zM299.1 624.1H308.8V629.6H299.1zM172.7 629.2H177.6V634.8H172.7zM308.8 629.2H313.7V634.8H308.8zM163.0 634.4H172.7V639.9H163.0zM313.7 634.4H323.4V639.9H313.7zM158.1 639.5H163.0V645.0H158.1zM323.4 639.5H328.3V645.0H323.4zM153.3 644.6H158.1V650.1H153.3zM328.3 644.6H333.1V650.1H328.3zM148.4 649.7H153.3V655.2H148.4zM333.1 649.7H338.0V655.2H333.1zM148.4 654.8H153.3V660.3H148.4zM338.0 654.8H342.8V660.3H338.0zM143.5 659.9H148.4V665.5H143.5zM338.0 659.9H342.8V665.5H338.0zM138.7 665.1H143.5V670.6H138.7zM342.8 665.1H347.7V670.6H342.8zM138.7 670.2H143.5V675.7H138.7zM347.7 670.2H352.6V675.7H347.7zM133.8 675.3H138.7V680.8H133.8zM347.7 675.3H352.6V680.8H347.7zM352.6 680.4H357.4V685.9H352.6zM129.0 685.5H133.8V691.0H129.0zM352.6 685.5H357.4V691.0H352.6zM129.0 690.6H133.8V696.2H129.0zM357.4 690.6H362.3V696.2H357.4zM357.4 695.8H362.3V701.3H357.4zM124.1 700.9H129.0V706.4H124.1zM260.2 700.9H265.1V706.4H260.2zM362.3 700.9H367.1V706.4H362.3zM124.1 706.0H129.0V711.5H124.1zM269.9 706.0H274.8V711.5H269.9zM362.3 706.0H367.1V711.5H362.3zM124.1 711.1H129.0V716.6H124.1zM274.8 711.1H279.6V716.6H274.8zM362.3 711.1H367.1V716.6H362.3zM211.6 716.2H216.5V721.7H211.6zM279.6 721.3H284.5V726.9H279.6zM367.1 721.3H372.0V726.9H367.1zM206.7 726.5H211.6V732.0H206.7zM367.1 726.5H372.0V732.0H367.1zM119.2 731.6H124.1V737.1H119.2zM367.1 731.6H372.0V737.1H367.1zM119.2 736.7H124.1V742.2H119.2zM367.1 736.7H372.0V742.2H367.1zM367.1 741.8H372.0V747.3H367.1zM367.1 746.9H372.0V752.4H367.1zM124.1 752.0H129.0V757.6H124.1zM206.7 752.0H211.6V757.6H206.7zM279.6 752.0H284.5V757.6H279.6zM367.1 752.0H372.0V757.6H367.1zM124.1 757.2H129.0V762.7H124.1zM367.1 757.2H372.0V762.7H367.1zM124.1 762.3H129.0V767.8H124.1zM211.6 762.3H216.5V767.8H211.6zM274.8 762.3H279.6V767.8H274.8zM367.1 762.3H372.0V767.8H367.1zM124.1 767.4H129.0V772.9H124.1zM216.5 767.4H221.3V772.9H216.5zM269.9 767.4H274.8V772.9H269.9zM221.3 772.5H226.2V778.0H221.3zM362.3 772.5H367.1V778.0H362.3zM129.0 777.6H133.8V783.1H129.0zM235.9 777.6H255.3V783.1H235.9zM362.3 777.6H367.1V783.1H362.3zM129.0 782.7H133.8V788.3H129.0zM362.3 782.7H367.1V788.3H362.3zM133.8 787.9H138.7V793.4H133.8zM357.4 787.9H362.3V793.4H357.4zM133.8 793.0H138.7V798.5H133.8zM357.4 793.0H362.3V798.5H357.4zM138.7 798.1H143.5V803.6H138.7zM138.7 803.2H143.5V808.7H138.7zM352.6 803.2H357.4V808.7H352.6zM143.5 808.3H148.4V813.8H143.5zM143.5 813.4H148.4V819.0H143.5zM347.7 813.4H352.6V819.0H347.7zM148.4 818.6H153.3V824.1H148.4zM342.8 818.6H347.7V824.1H342.8zM153.3 823.7H158.1V829.2H153.3zM338.0 823.7H342.8V829.2H338.0zM158.1 828.8H163.0V834.3H158.1zM338.0 828.8H342.8V834.3H338.0zM163.0 833.9H167.8V839.4H163.0zM333.1 833.9H338.0V839.4H333.1zM167.8 839.0H172.7V844.5H167.8zM323.4 839.0H333.1V844.5H323.4zM172.7 844.1H182.4V849.7H172.7zM318.5 844.1H323.4V849.7H318.5zM182.4 849.3H187.3V854.8H182.4zM313.7 849.3H318.5V854.8H313.7zM187.3 854.4H197.0V859.9H187.3zM303.9 854.4H308.8V859.9H303.9zM197.0 859.5H206.7V865.0H197.0zM294.2 859.5H303.9V865.0H294.2zM211.6 864.6H221.3V870.1H211.6zM274.8 864.6H289.4V870.1H274.8zM231.0 869.7H269.9V875.2H231.0z"/>
<path fill="#ffc3c3" d="M235.9 608.8H250.5V614.3H235.9zM206.7 613.9H221.3V619.4H206.7zM260.2 613.9H274.8V619.4H260.2zM197.0 619.0H206.7V624.5H197.0zM279.6 619.0H289.4V624.5H279.6zM187.3 624.1H192.2V629.6H187.3zM294.2 624.1H299.1V629.6H294.2zM177.6 629.2H182.4V634.8H177.6zM299.1 629.2H308.8V634.8H299.1zM172.7 634.4H177.6V639.9H172.7zM308.8 634.4H313.7V639.9H308.8zM163.0 639.5H167.8V645.0H163.0zM313.7 639.5H323.4V645.0H313.7zM158.1 644.6H163.0V650.1H158.1zM323.4 644.6H328.3V650.1H323.4zM153.3 649.7H158.1V655.2H153.3zM328.3 649.7H333.1V655.2H328.3zM333.1 654.8H338.0V660.3H333.1zM148.4 659.9H153.3V665.5H148.4zM333.1 659.9H338.0V665.5H333.1zM143.5 665.1H148.4V670.6H143.5zM338.0 665.1H342.8V670.6H338.0zM342.8 670.2H347.7V675.7H342.8zM138.7 675.3H143.5V680.8H138.7zM133.8 680.4H138.7V685.9H133.8zM347.7 680.4H352.6V685.9H347.7zM133.8 685.5H138.7V691.0H133.8zM352.6 690.6H357.4V696.2H352.6zM129.0 695.8H133.8V701.3H129.0zM235.9 695.8H255.3V701.3H235.9zM129.0 700.9H133.8V706.4H129.0zM226.2 700.9H231.0V706.4H226.2zM265.1 700.9H269.9V706.4H265.1zM357.4 700.9H362.3V706.4H357.4zM129.0 706.0H133.8V711.5H129.0zM216.5 706.0H221.3V711.5H216.5zM357.4 706.0H362.3V711.5H357.4zM124.1 716.2H129.0V721.7H124.1zM279.6 716.2H284.5V721.7H279.6zM362.3 716.2H367.1V721.7H362.3zM124.1 721.3H129.0V726.9H124.1zM206.7 721.3H211.6V726.9H206.7zM362.3 721.3H367.1V726.9H362.3zM124.1 726.5H129.0V732.0H124.1zM362.3 726.5H367.1V732.0H362.3zM124.1 731.6H129.0V737.1H124.1zM284.5 731.6H289.4V737.1H284.5zM362.3 731.6H367.1V737.1H362.3zM124.1 736.7H129.0V742.2H124.1zM284.5 736.7H289.4V742.2H284.5zM362.3 736.7H367.1V742.2H362.3zM124.1 741.8H129.0V747.3H124.1zM284.5 741.8H289.4V747.3H284.5zM362.3 741.8H367.1V747.3H362.3zM124.1 746.9H129.0V752.4H124.1zM362.3 746.9H367.1V752.4H362.3zM362.3 752.0H367.1V757.6H362.3zM206.7 757.2H211.6V762.7H206.7zM279.6 757.2H284.5V762.7H279.6zM362.3 757.2H367.1V762.7H362.3zM129.0 762.3H133.8V767.8H129.0zM362.3 762.3H367.1V767.8H362.3zM129.0 767.4H133.8V772.9H129.0zM362.3 767.4H367.1V772.9H362.3zM129.0 772.5H133.8V778.0H129.0zM265.1 772.5H269.9V778.0H265.1zM133.8 777.6H138.7V783.1H133.8zM231.0 777.6H235.9V783.1H231.0zM255.3 777.6H260.2V783.1H255.3zM357.4 777.6H362.3V783.1H357.4zM133.8 782.7H138.7V788.3H133.8zM357.4 782.7H362.3V788.3H357.4zM138.7 793.0H143.5V798.5H138.7zM352.6 793.0H357.4V798.5H352.6zM352.6 798.1H357.4V803.6H352.6zM143.5 803.2H148.4V808.7H143.5zM347.7 803.2H352.6V808.7H347.7zM148.4 808.3H153.3V813.8H148.4zM347.7 808.3H352.6V813.8H347.7zM148.4 813.4H153.3V819.0H148.4zM342.8 813.4H347.7V819.0H342.8zM153.3 818.6H158.1V824.1H153.3zM338.0 818.6H342.8V824.1H338.0zM158.1 823.7H163.0V829.2H158.1zM333.1 823.7H338.0V829.2H333.1zM163.0 828.8H167.8V834.3H163.0zM333.1 828.8H338.0V834.3H333.1zM167.8 833.9H172.7V839.4H167.8zM323.4 833.9H333.1V839.4H323.4zM172.7 839.0H177.6V844.5H172.7zM318.5 839.0H323.4V844.5H318.5zM182.4 844.1H187.3V849.7H182.4zM313.7 844.1H318.5V849.7H313.7zM187.3 849.3H197.0V854.8H187.3zM303.9 849.3H313.7V854.8H303.9zM197.0 854.4H206.7V859.9H197.0zM294.2 854.4H303.9V859.9H294.2zM206.7 859.5H216.5V865.0H206.7zM279.6 859.5H294.2V865.0H279.6zM221.3 864.6H274.8V870.1H221.3z"/>
<path fill="#ffbcbc" d="M221.3 613.9H260.2V619.4H221.3zM206.7 619.0H216.5V624.5H206.7zM269.9 619.0H279.6V624.5H269.9zM192.2 624.1H201.9V629.6H192.2zM284.5 624.1H294.2V629.6H284.5zM182.4 629.2H192.2V634.8H182.4zM294.2 629.2H299.1V634.8H294.2zM177.6 634.4H182.4V639.9H177.6zM303.9 634.4H308.8V639.9H303.9zM167.8 639.5H177.6V645.0H167.8zM308.8 639.5H313.7V645.0H308.8zM163.0 644.6H167.8V650.1H163.0zM313.7 644.6H323.4V650.1H313.7zM158.1 649.7H163.0V655.2H158.1zM323.4 649.7H328.3V655.2H323.4zM153.3 654.8H158.1V660.3H153.3zM328.3 654.8H333.1V660.3H328.3zM153.3 659.9H158.1V665.5H153.3zM328.3 659.9H333.1V665.5H328.3zM148.4 665.1H153.3V670.6H148.4zM333.1 665.1H338.0V670.6H333.1zM143.5 670.2H148.4V675.7H143.5zM338.0 670.2H342.8V675.7H338.0zM143.5 675.3H148.4V680.8H143.5zM342.8 675.3H347.7V680.8H342.8zM138.7 680.4H143.5V685.9H138.7zM342.8 680.4H347.7V685.9H342.8zM138.7 685.5H143.5V691.0H138.7zM347.7 685.5H352.6V691.0H347.7zM133.8 690.6H138.7V696.2H133.8zM347.7 690.6H352.6V696.2H347.7zM133.8 695.8H138.7V701.3H133.8zM231.0 695.8H235.9V701.3H231.0zM255.3 695.8H265.1V701.3H255.3zM352.6 695.8H357.4V701.3H352.6zM133.8 700.9H138.7V706.4H133.8zM221.3 700.9H226.2V706.4H221.3zM269.9 700.9H274.8V706.4H269.9zM352.6 700.9H357.4V706.4H352.6zM274.8 706.0H279.6V711.5H274.8zM352.6 706.0H357.4V711.5H352.6zM129.0 711.1H133.8V716.6H129.0zM211.6 711.1H216.5V716.6H211.6zM279.6 711.1H284.5V716.6H279.6zM357.4 711.1H362.3V716.6H357.4zM129.0 716.2H133.8V721.7H129.0zM206.7 716.2H211.6V721.7H206.7zM357.4 716.2H362.3V721.7H357.4zM129.0 721.3H133.8V726.9H129.0zM284.5 721.3H289.4V726.9H284.5zM357.4 721.3H362.3V726.9H357.4zM129.0 726.5H133.8V732.0H129.0zM284.5 726.5H289.4V732.0H284.5zM357.4 726.5H362.3V732.0H357.4zM129.0 731.6H133.8V737.1H129.0zM201.9 731.6H206.7V737.1H201.9zM129.0 736.7H133.8V742.2H129.0zM201.9 736.7H206.7V742.2H201.9zM129.0 741.8H133.8V747.3H129.0zM201.9 741.8H206.7V747.3H201.9zM129.0 746.9H133.8V752.4H129.0zM201.9 746.9H206.7V752.4H201.9zM284.5 746.9H289.4V752.4H284.5zM129.0 752.0H133.8V757.6H129.0zM201.9 752.0H206.7V757.6H201.9zM129.0 757.2H133.8V762.7H129.0zM357.4 757.2H362.3V762.7H357.4zM206.7 762.3H211.6V767.8H206.7zM357.4 762.3H362.3V767.8H357.4zM133.8 767.4H138.7V772.9H133.8zM211.6 767.4H216.5V772.9H211.6zM357.4 767.4H362.3V772.9H357.4zM133.8 772.5H138.7V778.0H133.8zM216.5 772.5H221.3V778.0H216.5zM357.4 772.5H362.3V778.0H357.4zM226.2 777.6H231.0V783.1H226.2zM260.2 777.6H265.1V783.1H260.2zM138.7 782.7H143.5V788.3H138.7zM352.6 782.7H357.4V788.3H352.6zM138.7 787.9H143.5V793.4H138.7zM352.6 787.9H357.4V793.4H352.6zM143.5 793.0H148.4V798.5H143.5zM143.5 798.1H148.4V803.6H143.5zM347.7 798.1H352.6V803.6H347.7zM148.4 803.2H153.3V808.7H148.4zM153.3 808.3H158.1V813.8H153.3zM342.8 808.3H347.7V813.8H342.8zM153.3 813.4H158.1V819.0H153.3zM338.0 813.4H342.8V819.0H338.0zM158.1 818.6H163.0V824.1H158.1zM333.1 818.6H338.0V824.1H333.1zM163.0 823.7H167.8V829.2H163.0zM167.8 828.8H172.7V834.3H167.8zM328.3 828.8H333.1V834.3H328.3zM172.7 833.9H177.6V839.4H172.7zM318.5 833.9H323.4V839.4H318.5zM177.6 839.0H187.3V844.5H177.6zM313.7 839.0H318.5V844.5H313.7zM187.3 844.1H192.2V849.7H187.3zM308.8 844.1H313.7V849.7H308.8zM197.0 849.3H201.9V854.8H197.0zM299.1 849.3H303.9V854.8H299.1zM206.7 854.4H216.5V859.9H206.7zM284.5 854.4H294.2V859.9H284.5zM216.5 859.5H235.9V865.0H216.5zM265.1 859.5H279.6V865.0H265.1z"/>
<path fill="#ffb5b5" d="M216.5 619.0H269.9V624.5H216.5zM201.9 624.1H211.6V629.6H201.9zM274.8 624.1H284.5V629.6H274.8zM192.2 629.2H197.0V634.8H192.2zM284.5 629.2H294.2V634.8H284.5zM182.4 634.4H187.3V639.9H182.4zM294.2 634.4H303.9V639.9H294.2zM177.6 639.5H182.4V645.0H177.6zM303.9 639.5H308.8V645.0H303.9zM167.8 644.6H172.7V650.1H167.8zM308.8 644.6H313.7V650.1H308.8zM163.0 649.7H167.8V655.2H163.0zM318.5 649.7H323.4V655.2H318.5zM158.1 654.8H163.0V660.3H158.1zM323.4 654.8H328.3V660.3H323.4zM153.3 665.1H158.1V670.6H153.3zM328.3 665.1H333.1V670.6H328.3zM148.4 670.2H153.3V675.7H148.4zM333.1 670.2H338.0V675.7H333.1zM338.0 675.3H342.8V680.8H338.0zM143.5 680.4H148.4V685.9H143.5zM338.0 680.4H342.8V685.9H338.0zM342.8 685.5H347.7V691.0H342.8zM138.7 690.6H143.5V696.2H138.7zM138.7 695.8H143.5V701.3H138.7zM226.2 695.8H231.0V701.3H226.2zM265.1 695.8H269.9V701.3H265.1zM347.7 695.8H352.6V701.3H347.7zM347.7 700.9H352.6V706.4H347.7zM133.8 706.0H138.7V711.5H133.8zM133.8 711.1H138.7V716.6H133.8zM352.6 711.1H357.4V716.6H352.6zM133.8 716.2H138.7V721.7H133.8zM284.5 716.2H289.4V721.7H284.5zM352.6 716.2H357.4V721.7H352.6zM133.8 721.3H138.7V726.9H133.8zM201.9 721.3H206.7V726.9H201.9zM201.9 726.5H206.7V732.0H201.9zM357.4 731.6H362.3V737.1H357.4zM357.4 736.7H362.3V742.2H357.4zM357.4 741.8H362.3V747.3H357.4zM133.8 746.9H138.7V752.4H133.8zM357.4 746.9H362.3V752.4H357.4zM133.8 752.0H138.7V757.6H133.8zM284.5 752.0H289.4V757.6H284.5zM357.4 752.0H362.3V757.6H357.4zM133.8 757.2H138.7V762.7H133.8zM201.9 757.2H206.7V762.7H201.9zM133.8 762.3H138.7V767.8H133.8zM279.6 762.3H284.5V767.8H279.6zM274.8 767.4H279.6V772.9H274.8zM352.6 767.4H357.4V772.9H352.6zM138.7 772.5H143.5V778.0H138.7zM269.9 772.5H274.8V778.0H269.9zM352.6 772.5H357.4V778.0H352.6zM138.7 777.6H143.5V783.1H138.7zM221.3 777.6H226.2V783.1H221.3zM352.6 777.6H357.4V783.1H352.6zM143.5 782.7H148.4V788.3H143.5zM231.0 782.7H255.3V788.3H231.0zM143.5 787.9H148.4V793.4H143.5zM347.7 787.9H352.6V793.4H347.7zM148.4 793.0H153.3V798.5H148.4zM347.7 793.0H352.6V798.5H347.7zM148.4 798.1H153.3V803.6H148.4zM342.8 798.1H347.7V803.6H342.8zM153.3 803.2H158.1V808.7H153.3zM342.8 803.2H347.7V808.7H342.8zM338.0 808.3H342.8V813.8H338.0zM158.1 813.4H163.0V819.0H158.1zM333.1 813.4H338.0V819.0H333.1zM163.0 818.6H167.8V824.1H163.0zM167.8 823.7H172.7V829.2H167.8zM328.3 823.7H333.1V829.2H328.3zM172.7 828.8H177.6V834.3H172.7zM323.4 828.8H328.3V834.3H323.4zM177.6 833.9H182.4V839.4H177.6zM313.7 833.9H318.5V839.4H313.7zM187.3 839.0H192.2V844.5H187.3zM308.8 839.0H313.7V844.5H308.8zM192.2 844.1H201.9V849.7H192.2zM299.1 844.1H308.8V849.7H299.1zM201.9 849.3H211.6V854.8H201.9zM289.4 849.3H299.1V854.8H289.4zM216.5 854.4H226.2V859.9H216.5zM274.8 854.4H284.5V859.9H274.8zM235.9 859.5H265.1V865.0H235.9z"/>
<path fill="#ffaeae" d="M211.6 624.1H221.3V629.6H211.6zM260.2 624.1H274.8V629.6H260.2zM197.0 629.2H206.7V634.8H197.0zM279.6 629.2H284.5V634.8H279.6zM187.3 634.4H197.0V639.9H187.3zM289.4 634.4H294.2V639.9H289.4zM182.4 639.5H187.3V645.0H182.4zM299.1 639.5H303.9V645.0H299.1zM172.7 644.6H177.6V650.1H172.7zM303.9 644.6H308.8V650.1H303.9zM167.8 649.7H172.7V655.2H167.8zM308.8 649.7H318.5V655.2H308.8zM163.0 654.8H167.8V660.3H163.0zM318.5 654.8H323.4V660.3H318.5zM158.1 659.9H163.0V665.5H158.1zM323.4 659.9H328.3V665.5H323.4zM323.4 665.1H328.3V670.6H323.4zM153.3 670.2H158.1V675.7H153.3zM328.3 670.2H333.1V675.7H328.3zM148.4 675.3H153.3V680.8H148.4zM333.1 675.3H338.0V680.8H333.1zM148.4 680.4H153.3V685.9H148.4zM143.5 685.5H148.4V691.0H143.5zM338.0 685.5H342.8V691.0H338.0zM143.5 690.6H148.4V696.2H143.5zM235.9 690.6H260.2V696.2H235.9zM342.8 690.6H347.7V696.2H342.8zM342.8 695.8H347.7V701.3H342.8zM138.7 700.9H143.5V706.4H138.7zM216.5 700.9H221.3V706.4H216.5zM274.8 700.9H279.6V706.4H274.8zM138.7 706.0H143.5V711.5H138.7zM211.6 706.0H216.5V711.5H211.6zM279.6 706.0H284.5V711.5H279.6zM347.7 706.0H352.6V711.5H347.7zM206.7 711.1H211.6V716.6H206.7zM284.5 711.1H289.4V716.6H284.5zM347.7 711.1H352.6V716.6H347.7zM352.6 721.3H357.4V726.9H352.6zM133.8 726.5H138.7V732.0H133.8zM289.4 726.5H294.2V732.0H289.4zM352.6 726.5H357.4V732.0H352.6zM133.8 731.6H138.7V737.1H133.8zM197.0 731.6H201.9V737.1H197.0zM289.4 731.6H294.2V737.1H289.4zM352.6 731.6H357.4V737.1H352.6zM133.8 736.7H138.7V742.2H133.8zM197.0 736.7H201.9V742.2H197.0zM289.4 736.7H294.2V742.2H289.4zM352.6 736.7H357.4V742.2H352.6zM133.8 741.8H138.7V747.3H133.8zM197.0 741.8H201.9V747.3H197.0zM289.4 741.8H294.2V747.3H289.4zM352.6 741.8H357.4V747.3H352.6zM197.0 746.9H201.9V752.4H197.0zM352.6 746.9H357.4V752.4H352.6zM352.6 752.0H357.4V757.6H352.6zM138.7 757.2H143.5V762.7H138.7zM284.5 757.2H289.4V762.7H284.5zM352.6 757.2H357.4V762.7H352.6zM138.7 762.3H143.5V767.8H138.7zM201.9 762.3H206.7V767.8H201.9zM352.6 762.3H357.4V767.8H352.6zM138.7 767.4H143.5V772.9H138.7zM206.7 767.4H211.6V772.9H206.7zM211.6 772.5H216.5V778.0H211.6zM143.5 777.6H148.4V783.1H143.5zM216.5 777.6H221.3V783.1H216.5zM265.1 777.6H269.9V783.1H265.1zM347.7 777.6H352.6V783.1H347.7zM226.2 782.7H231.0V788.3H226.2zM255.3 782.7H260.2V788.3H255.3zM347.7 782.7H352.6V788.3H347.7zM148.4 787.9H153.3V793.4H148.4zM342.8 793.0H347.7V798.5H342.8zM153.3 798.1H158.1V803.6H153.3zM158.1 803.2H163.0V808.7H158.1zM338.0 803.2H342.8V808.7H338.0zM158.1 808.3H163.0V813.8H158.1zM333.1 808.3H338.0V813.8H333.1zM163.0 813.4H167.8V819.0H163.0zM167.8 818.6H172.7V824.1H167.8zM328.3 818.6H333.1V824.1H328.3zM172.7 823.7H177.6V829.2H172.7zM323.4 823.7H328.3V829.2H323.4zM177.6 828.8H182.4V834.3H177.6zM318.5 828.8H323.4V834.3H318.5zM182.4 833.9H192.2V839.4H182.4zM308.8 833.9H313.7V839.4H308.8zM192.2 839.0H197.0V844.5H192.2zM303.9 839.0H308.8V844.5H303.9zM201.9 844.1H206.7V849.7H201.9zM294.2 844.1H299.1V849.7H294.2zM211.6 849.3H221.3V854.8H211.6zM279.6 849.3H289.4V854.8H279.6zM226.2 854.4H274.8V859.9H226.2z"/>
<path fill="#ffa8a8" d="M221.3 624.1H260.2V629.6H221.3zM206.7 629.2H216.5V634.8H206.7zM265.1 629.2H279.6V634.8H265.1zM197.0 634.4H201.9V639.9H197.0zM279.6 634.4H289.4V639.9H279.6zM187.3 639.5H192.2V645.0H187.3zM289.4 639.5H299.1V645.0H289.4zM177.6 644.6H182.4V650.1H177.6zM299.1 644.6H303.9V650.1H299.1zM172.7 649.7H177.6V655.2H172.7zM303.9 649.7H308.8V655.2H303.9zM167.8 654.8H172.7V660.3H167.8zM313.7 654.8H318.5V660.3H313.7zM163.0 659.9H167.8V665.5H163.0zM318.5 659.9H323.4V665.5H318.5zM158.1 665.1H163.0V670.6H158.1zM323.4 670.2H328.3V675.7H323.4zM153.3 675.3H158.1V680.8H153.3zM328.3 675.3H333.1V680.8H328.3zM333.1 680.4H338.0V685.9H333.1zM148.4 685.5H153.3V691.0H148.4zM333.1 685.5H338.0V691.0H333.1zM231.0 690.6H235.9V696.2H231.0zM260.2 690.6H265.1V696.2H260.2zM338.0 690.6H342.8V696.2H338.0zM143.5 695.8H148.4V701.3H143.5zM221.3 695.8H226.2V701.3H221.3zM269.9 695.8H274.8V701.3H269.9zM338.0 695.8H342.8V701.3H338.0zM143.5 700.9H148.4V706.4H143.5zM279.6 700.9H284.5V706.4H279.6zM342.8 700.9H347.7V706.4H342.8zM342.8 706.0H347.7V711.5H342.8zM138.7 711.1H143.5V716.6H138.7zM138.7 716.2H143.5V721.7H138.7zM201.9 716.2H206.7V721.7H201.9zM289.4 716.2H294.2V721.7H289.4zM347.7 716.2H352.6V721.7H347.7zM138.7 721.3H143.5V726.9H138.7zM289.4 721.3H294.2V726.9H289.4zM347.7 721.3H352.6V726.9H347.7zM138.7 726.5H143.5V732.0H138.7zM197.0 726.5H201.9V732.0H197.0zM347.7 726.5H352.6V732.0H347.7zM138.7 731.6H143.5V737.1H138.7zM347.7 731.6H352.6V737.1H347.7zM138.7 736.7H143.5V742.2H138.7zM138.7 741.8H143.5V747.3H138.7zM138.7 746.9H143.5V752.4H138.7zM289.4 746.9H294.2V752.4H289.4zM138.7 752.0H143.5V757.6H138.7zM197.0 752.0H201.9V757.6H197.0zM289.4 752.0H294.2V757.6H289.4zM197.0 757.2H201.9V762.7H197.0zM347.7 757.2H352.6V762.7H347.7zM143.5 762.3H148.4V767.8H143.5zM284.5 762.3H289.4V767.8H284.5zM347.7 762.3H352.6V767.8H347.7zM143.5 767.4H148.4V772.9H143.5zM279.6 767.4H284.5V772.9H279.6zM347.7 767.4H352.6V772.9H347.7zM143.5 772.5H148.4V778.0H143.5zM206.7 772.5H211.6V778.0H206.7zM274.8 772.5H279.6V778.0H274.8zM347.7 772.5H352.6V778.0H347.7zM148.4 777.6H153.3V783.1H148.4zM211.6 777.6H216.5V783.1H211.6zM269.9 777.6H274.8V783.1H269.9zM148.4 782.7H153.3V788.3H148.4zM221.3 782.7H226.2V788.3H221.3zM260.2 782.7H265.1V788.3H260.2zM342.8 782.7H347.7V788.3H342.8zM153.3 787.9H158.1V793.4H153.3zM342.8 787.9H347.7V793.4H342.8zM153.3 793.0H158.1V798.5H153.3zM338.0 793.0H342.8V798.5H338.0zM158.1 798.1H163.0V803.6H158.1zM338.0 798.1H342.8V803.6H338.0zM333.1 803.2H338.0V808.7H333.1zM163.0 808.3H167.8V813.8H163.0zM167.8 813.4H172.7V819.0H167.8zM328.3 813.4H333.1V819.0H328.3zM172.7 818.6H177.6V824.1H172.7zM323.4 818.6H328.3V824.1H323.4zM177.6 823.7H182.4V829.2H177.6zM318.5 823.7H323.4V829.2H318.5zM182.4 828.8H187.3V834.3H182.4zM313.7 828.8H318.5V834.3H313.7zM192.2 833.9H197.0V839.4H192.2zM303.9 833.9H308.8V839.4H303.9zM197.0 839.0H206.7V844.5H197.0zM299.1 839.0H303.9V844.5H299.1zM206.7 844.1H216.5V849.7H206.7zM284.5 844.1H294.2V849.7H284.5zM221.3 849.3H231.0V854.8H221.3zM269.9 849.3H279.6V854.8H269.9z"/>
<path fill="#ffa1a1" d="M216.5 629.2H235.9V634.8H216.5zM245.6 629.2H265.1V634.8H245.6zM201.9 634.4H211.6V639.9H201.9zM269.9 634.4H279.6V639.9H269.9zM192.2 639.5H197.0V645.0H192.2zM284.5 639.5H289.4V645.0H284.5zM182.4 644.6H192.2V650.1H182.4zM294.2 644.6H299.1V650.1H294.2zM177.6 649.7H182.4V655.2H177.6zM299.1 649.7H303.9V655.2H299.1zM172.7 654.8H177.6V660.3H172.7zM303.9 654.8H313.7V660.3H303.9zM167.8 659.9H172.7V665.5H167.8zM313.7 659.9H318.5V665.5H313.7zM163.0 665.1H167.8V670.6H163.0zM318.5 665.1H323.4V670.6H318.5zM158.1 670.2H163.0V675.7H158.1zM318.5 670.2H323.4V675.7H318.5zM158.1 675.3H163.0V680.8H158.1zM323.4 675.3H328.3V680.8H323.4zM153.3 680.4H158.1V685.9H153.3zM328.3 680.4H333.1V685.9H328.3zM240.8 685.5H255.3V691.0H240.8zM148.4 690.6H153.3V696.2H148.4zM226.2 690.6H231.0V696.2H226.2zM265.1 690.6H274.8V696.2H265.1zM333.1 690.6H338.0V696.2H333.1zM148.4 695.8H153.3V701.3H148.4zM216.5 695.8H221.3V701.3H216.5zM274.8 695.8H279.6V701.3H274.8zM211.6 700.9H216.5V706.4H211.6zM338.0 700.9H342.8V706.4H338.0zM143.5 706.0H148.4V711.5H143.5zM206.7 706.0H211.6V711.5H206.7zM284.5 706.0H289.4V711.5H284.5zM338.0 706.0H342.8V711.5H338.0zM143.5 711.1H148.4V716.6H143.5zM201.9 711.1H206.7V716.6H201.9zM289.4 711.1H294.2V716.6H289.4zM342.8 711.1H347.7V716.6H342.8zM143.5 716.2H148.4V721.7H143.5zM342.8 716.2H347.7V721.7H342.8zM143.5 721.3H148.4V726.9H143.5zM197.0 721.3H201.9V726.9H197.0zM342.8 721.3H347.7V726.9H342.8zM294.2 726.5H299.1V732.0H294.2zM294.2 731.6H299.1V737.1H294.2zM192.2 736.7H197.0V742.2H192.2zM294.2 736.7H299.1V742.2H294.2zM347.7 736.7H352.6V742.2H347.7zM143.5 741.8H148.4V747.3H143.5zM192.2 741.8H197.0V747.3H192.2zM294.2 741.8H299.1V747.3H294.2zM347.7 741.8H352.6V747.3H347.7zM143.5 746.9H148.4V752.4H143.5zM347.7 746.9H352.6V752.4H347.7zM143.5 752.0H148.4V757.6H143.5zM347.7 752.0H352.6V757.6H347.7zM143.5 757.2H148.4V762.7H143.5zM289.4 757.2H294.2V762.7H289.4zM197.0 762.3H201.9V767.8H197.0zM148.4 767.4H153.3V772.9H148.4zM201.9 767.4H206.7V772.9H201.9zM148.4 772.5H153.3V778.0H148.4zM342.8 772.5H347.7V778.0H342.8zM342.8 777.6H347.7V783.1H342.8zM153.3 782.7H158.1V788.3H153.3zM216.5 782.7H221.3V788.3H216.5zM265.1 782.7H269.9V788.3H265.1zM231.0 787.9H255.3V793.4H231.0zM338.0 787.9H342.8V793.4H338.0zM158.1 793.0H163.0V798.5H158.1zM163.0 798.1H167.8V803.6H163.0zM333.1 798.1H338.0V803.6H333.1zM163.0 803.2H167.8V808.7H163.0zM167.8 808.3H172.7V813.8H167.8zM328.3 808.3H333.1V813.8H328.3zM172.7 813.4H177.6V819.0H172.7zM323.4 813.4H328.3V819.0H323.4zM177.6 818.6H182.4V824.1H177.6zM318.5 818.6H323.4V824.1H318.5zM182.4 823.7H187.3V829.2H182.4zM313.7 823.7H318.5V829.2H313.7zM187.3 828.8H197.0V834.3H187.3zM308.8 828.8H313.7V834.3H308.8zM197.0 833.9H201.9V839.4H197.0zM299.1 833.9H303.9V839.4H299.1zM206.7 839.0H211.6V844.5H206.7zM289.4 839.0H299.1V844.5H289.4zM216.5 844.1H226.2V849.7H216.5zM279.6 844.1H284.5V849.7H279.6zM231.0 849.3H269.9V854.8H231.0z"/>
<path fill="#ff9a9a" d="M235.9 629.2H245.6V634.8H235.9zM211.6 634.4H221.3V639.9H211.6zM260.2 634.4H269.9V639.9H260.2zM197.0 639.5H206.7V645.0H197.0zM274.8 639.5H284.5V645.0H274.8zM192.2 644.6H197.0V650.1H192.2zM284.5 644.6H294.2V650.1H284.5zM182.4 649.7H187.3V655.2H182.4zM294.2 649.7H299.1V655.2H294.2zM177.6 654.8H182.4V660.3H177.6zM299.1 654.8H303.9V660.3H299.1zM172.7 659.9H177.6V665.5H172.7zM303.9 659.9H313.7V665.5H303.9zM167.8 665.1H172.7V670.6H167.8zM308.8 665.1H318.5V670.6H308.8zM163.0 670.2H167.8V675.7H163.0zM313.7 670.2H318.5V675.7H313.7zM318.5 675.3H323.4V680.8H318.5zM158.1 680.4H163.0V685.9H158.1zM323.4 680.4H328.3V685.9H323.4zM153.3 685.5H158.1V691.0H153.3zM231.0 685.5H240.8V691.0H231.0zM255.3 685.5H265.1V691.0H255.3zM328.3 685.5H333.1V691.0H328.3zM153.3 690.6H158.1V696.2H153.3zM221.3 690.6H226.2V696.2H221.3zM274.8 690.6H279.6V696.2H274.8zM328.3 690.6H333.1V696.2H328.3zM279.6 695.8H284.5V701.3H279.6zM333.1 695.8H338.0V701.3H333.1zM148.4 700.9H153.3V706.4H148.4zM206.7 700.9H211.6V706.4H206.7zM284.5 700.9H289.4V706.4H284.5zM333.1 700.9H338.0V706.4H333.1zM148.4 706.0H153.3V711.5H148.4zM201.9 706.0H206.7V711.5H201.9zM289.4 706.0H294.2V711.5H289.4zM338.0 711.1H342.8V716.6H338.0zM197.0 716.2H201.9V721.7H197.0zM294.2 716.2H299.1V721.7H294.2zM338.0 716.2H342.8V721.7H338.0zM294.2 721.3H299.1V726.9H294.2zM143.5 726.5H148.4V732.0H143.5zM192.2 726.5H197.0V732.0H192.2zM342.8 726.5H347.7V732.0H342.8zM143.5 731.6H148.4V737.1H143.5zM192.2 731.6H197.0V737.1H192.2zM342.8 731.6H347.7V737.1H342.8zM143.5 736.7H148.4V742.2H143.5zM342.8 736.7H347.7V742.2H342.8zM342.8 741.8H347.7V747.3H342.8zM192.2 746.9H197.0V752.4H192.2zM294.2 746.9H299.1V752.4H294.2zM342.8 746.9H347.7V752.4H342.8zM148.4 752.0H153.3V757.6H148.4zM192.2 752.0H197.0V757.6H192.2zM342.8 752.0H347.7V757.6H342.8zM148.4 757.2H153.3V762.7H148.4zM192.2 757.2H197.0V762.7H192.2zM342.8 757.2H347.7V762.7H342.8zM148.4 762.3H153.3V767.8H148.4zM342.8 762.3H347.7V767.8H342.8zM197.0 767.4H201.9V772.9H197.0zM284.5 767.4H289.4V772.9H284.5zM342.8 767.4H347.7V772.9H342.8zM153.3 772.5H158.1V778.0H153.3zM201.9 772.5H206.7V778.0H201.9zM279.6 772.5H284.5V778.0H279.6zM153.3 777.6H158.1V783.1H153.3zM206.7 777.6H211.6V783.1H206.7zM274.8 777.6H279.6V783.1H274.8zM338.0 777.6H342.8V783.1H338.0zM158.1 782.7H163.0V788.3H158.1zM211.6 782.7H216.5V788.3H211.6zM269.9 782.7H274.8V788.3H269.9zM338.0 782.7H342.8V788.3H338.0zM158.1 787.9H163.0V793.4H158.1zM221.3 787.9H231.0V793.4H221.3zM255.3 787.9H260.2V793.4H255.3zM163.0 793.0H167.8V798.5H163.0zM333.1 793.0H338.0V798.5H333.1zM167.8 798.1H172.7V803.6H167.8zM167.8 803.2H172.7V808.7H167.8zM328.3 803.2H333.1V808.7H328.3zM172.7 808.3H177.6V813.8H172.7zM323.4 808.3H328.3V813.8H323.4zM177.6 813.4H182.4V819.0H177.6zM318.5 813.4H323.4V819.0H318.5zM182.4 818.6H187.3V824.1H182.4zM313.7 818.6H318.5V824.1H313.7zM187.3 823.7H192.2V829.2H187.3zM308.8 823.7H313.7V829.2H308.8zM197.0 828.8H201.9V834.3H197.0zM303.9 828.8H308.8V834.3H303.9zM201.9 833.9H211.6V839.4H201.9zM294.2 833.9H299.1V839.4H294.2zM211.6 839.0H221.3V844.5H211.6zM284.5 839.0H289.4V844.5H284.5zM226.2 844.1H240.8V849.7H226.2zM260.2 844.1H279.6V849.7H260.2z"/>
<path fill="#ff9494" d="M221.3 634.4H260.2V639.9H221.3zM206.7 639.5H216.5V645.0H206.7zM265.1 639.5H274.8V645.0H265.1zM197.0 644.6H201.9V650.1H197.0zM279.6 644.6H284.5V650.1H279.6zM187.3 649.7H192.2V655.2H187.3zM284.5 649.7H294.2V655.2H284.5zM182.4 654.8H187.3V660.3H182.4zM294.2 654.8H299.1V660.3H294.2zM177.6 659.9H182.4V665.5H177.6zM299.1 659.9H303.9V665.5H299.1zM172.7 665.1H177.6V670.6H172.7zM303.9 665.1H308.8V670.6H303.9zM167.8 670.2H172.7V675.7H167.8zM308.8 670.2H313.7V675.7H308.8zM163.0 675.3H167.8V680.8H163.0zM313.7 675.3H318.5V680.8H313.7zM245.6 680.4H255.3V685.9H245.6zM318.5 680.4H323.4V685.9H318.5zM158.1 685.5H163.0V691.0H158.1zM226.2 685.5H231.0V691.0H226.2zM265.1 685.5H274.8V691.0H265.1zM323.4 685.5H328.3V691.0H323.4zM216.5 690.6H221.3V696.2H216.5zM279.6 690.6H284.5V696.2H279.6zM323.4 690.6H328.3V696.2H323.4zM153.3 695.8H158.1V701.3H153.3zM211.6 695.8H216.5V701.3H211.6zM284.5 695.8H289.4V701.3H284.5zM328.3 695.8H333.1V701.3H328.3zM153.3 700.9H158.1V706.4H153.3zM289.4 700.9H294.2V706.4H289.4zM328.3 700.9H333.1V706.4H328.3zM333.1 706.0H338.0V711.5H333.1zM148.4 711.1H153.3V716.6H148.4zM197.0 711.1H201.9V716.6H197.0zM294.2 711.1H299.1V716.6H294.2zM333.1 711.1H338.0V716.6H333.1zM148.4 716.2H153.3V721.7H148.4zM148.4 721.3H153.3V726.9H148.4zM192.2 721.3H197.0V726.9H192.2zM299.1 721.3H303.9V726.9H299.1zM338.0 721.3H342.8V726.9H338.0zM148.4 726.5H153.3V732.0H148.4zM299.1 726.5H303.9V732.0H299.1zM338.0 726.5H342.8V732.0H338.0zM148.4 731.6H153.3V737.1H148.4zM299.1 731.6H303.9V737.1H299.1zM338.0 731.6H342.8V737.1H338.0zM148.4 736.7H153.3V742.2H148.4zM187.3 736.7H192.2V742.2H187.3zM299.1 736.7H303.9V742.2H299.1zM338.0 736.7H342.8V742.2H338.0zM148.4 741.8H153.3V747.3H148.4zM187.3 741.8H192.2V747.3H187.3zM299.1 741.8H303.9V747.3H299.1zM148.4 746.9H153.3V752.4H148.4zM187.3 746.9H192.2V752.4H187.3zM187.3 752.0H192.2V757.6H187.3zM294.2 752.0H299.1V757.6H294.2zM153.3 757.2H158.1V762.7H153.3zM294.2 757.2H299.1V762.7H294.2zM338.0 757.2H342.8V762.7H338.0zM153.3 762.3H158.1V767.8H153.3zM192.2 762.3H197.0V767.8H192.2zM289.4 762.3H294.2V767.8H289.4zM338.0 762.3H342.8V767.8H338.0zM153.3 767.4H158.1V772.9H153.3zM338.0 767.4H342.8V772.9H338.0zM158.1 772.5H163.0V778.0H158.1zM197.0 772.5H201.9V778.0H197.0zM284.5 772.5H289.4V778.0H284.5zM338.0 772.5H342.8V778.0H338.0zM158.1 777.6H163.0V783.1H158.1zM201.9 777.6H206.7V783.1H201.9zM279.6 777.6H284.5V783.1H279.6zM163.0 782.7H167.8V788.3H163.0zM206.7 782.7H211.6V788.3H206.7zM333.1 782.7H338.0V788.3H333.1zM163.0 787.9H167.8V793.4H163.0zM216.5 787.9H221.3V793.4H216.5zM260.2 787.9H269.9V793.4H260.2zM333.1 787.9H338.0V793.4H333.1zM167.8 793.0H172.7V798.5H167.8zM231.0 793.0H255.3V798.5H231.0zM328.3 793.0H333.1V798.5H328.3zM172.7 798.1H177.6V803.6H172.7zM328.3 798.1H333.1V803.6H328.3zM172.7 803.2H177.6V808.7H172.7zM323.4 803.2H328.3V808.7H323.4zM177.6 808.3H182.4V813.8H177.6zM318.5 808.3H323.4V813.8H318.5zM182.4 813.4H187.3V819.0H182.4zM313.7 813.4H318.5V819.0H313.7zM187.3 818.6H192.2V824.1H187.3zM308.8 818.6H313.7V824.1H308.8zM192.2 823.7H201.9V829.2H192.2zM303.9 823.7H308.8V829.2H303.9zM201.9 828.8H206.7V834.3H201.9zM299.1 828.8H303.9V834.3H299.1zM211.6 833.9H216.5V839.4H211.6zM289.4 833.9H294.2V839.4H289.4zM221.3 839.0H231.0V844.5H221.3zM274.8 839.0H284.5V844.5H274.8zM240.8 844.1H260.2V849.7H240.8z"/>
<path fill="#ff8d8d" d="M216.5 639.5H235.9V645.0H216.5zM240.8 639.5H265.1V645.0H240.8zM201.9 644.6H211.6V650.1H201.9zM265.1 644.6H279.6V650.1H265.1zM192.2 649.7H201.9V655.2H192.2zM279.6 649.7H284.5V655.2H279.6zM187.3 654.8H192.2V660.3H187.3zM284.5 654.8H294.2V660.3H284.5zM182.4 659.9H187.3V665.5H182.4zM294.2 659.9H299.1V665.5H294.2zM177.6 665.1H182.4V670.6H177.6zM299.1 665.1H303.9V670.6H299.1zM172.7 670.2H177.6V675.7H172.7zM303.9 670.2H308.8V675.7H303.9zM167.8 675.3H172.7V680.8H167.8zM308.8 675.3H313.7V680.8H308.8zM163.0 680.4H167.8V685.9H163.0zM231.0 680.4H245.6V685.9H231.0zM255.3 680.4H269.9V685.9H255.3zM313.7 680.4H318.5V685.9H313.7zM163.0 685.5H167.8V691.0H163.0zM221.3 685.5H226.2V691.0H221.3zM274.8 685.5H284.5V691.0H274.8zM313.7 685.5H323.4V691.0H313.7zM158.1 690.6H163.0V696.2H158.1zM211.6 690.6H216.5V696.2H211.6zM284.5 690.6H289.4V696.2H284.5zM318.5 690.6H323.4V696.2H318.5zM158.1 695.8H163.0V701.3H158.1zM206.7 695.8H211.6V701.3H206.7zM289.4 695.8H294.2V701.3H289.4zM323.4 695.8H328.3V701.3H323.4zM201.9 700.9H206.7V706.4H201.9zM294.2 700.9H299.1V706.4H294.2zM323.4 700.9H328.3V706.4H323.4zM153.3 706.0H158.1V711.5H153.3zM197.0 706.0H201.9V711.5H197.0zM294.2 706.0H299.1V711.5H294.2zM328.3 706.0H333.1V711.5H328.3zM153.3 711.1H158.1V716.6H153.3zM299.1 711.1H303.9V716.6H299.1zM328.3 711.1H333.1V716.6H328.3zM153.3 716.2H158.1V721.7H153.3zM192.2 716.2H197.0V721.7H192.2zM299.1 716.2H303.9V721.7H299.1zM333.1 716.2H338.0V721.7H333.1zM153.3 721.3H158.1V726.9H153.3zM333.1 721.3H338.0V726.9H333.1zM153.3 726.5H158.1V732.0H153.3zM187.3 726.5H192.2V732.0H187.3zM333.1 726.5H338.0V732.0H333.1zM153.3 731.6H158.1V737.1H153.3zM187.3 731.6H192.2V737.1H187.3zM333.1 731.6H338.0V737.1H333.1zM153.3 736.7H158.1V742.2H153.3zM153.3 741.8H158.1V747.3H153.3zM338.0 741.8H342.8V747.3H338.0zM153.3 746.9H158.1V752.4H153.3zM299.1 746.9H303.9V752.4H299.1zM338.0 746.9H342.8V752.4H338.0zM153.3 752.0H158.1V757.6H153.3zM299.1 752.0H303.9V757.6H299.1zM338.0 752.0H342.8V757.6H338.0zM158.1 757.2H163.0V762.7H158.1zM187.3 757.2H192.2V762.7H187.3zM158.1 762.3H163.0V767.8H158.1zM187.3 762.3H192.2V767.8H187.3zM294.2 762.3H299.1V767.8H294.2zM158.1 767.4H163.0V772.9H158.1zM192.2 767.4H197.0V772.9H192.2zM289.4 767.4H294.2V772.9H289.4zM333.1 767.4H338.0V772.9H333.1zM163.0 772.5H167.8V778.0H163.0zM192.2 772.5H197.0V778.0H192.2zM333.1 772.5H338.0V778.0H333.1zM163.0 777.6H167.8V783.1H163.0zM197.0 777.6H201.9V783.1H197.0zM333.1 777.6H338.0V783.1H333.1zM167.8 782.7H172.7V788.3H167.8zM201.9 782.7H206.7V788.3H201.9zM274.8 782.7H279.6V788.3H274.8zM167.8 787.9H177.6V793.4H167.8zM206.7 787.9H216.5V793.4H206.7zM328.3 787.9H333.1V793.4H328.3zM172.7 793.0H177.6V798.5H172.7zM216.5 793.0H231.0V798.5H216.5zM255.3 793.0H260.2V798.5H255.3zM177.6 798.1H182.4V803.6H177.6zM323.4 798.1H328.3V803.6H323.4zM177.6 803.2H187.3V808.7H177.6zM318.5 803.2H323.4V808.7H318.5zM182.4 808.3H192.2V813.8H182.4zM313.7 808.3H318.5V813.8H313.7zM187.3 813.4H197.0V819.0H187.3zM192.2 818.6H201.9V824.1H192.2zM303.9 818.6H308.8V824.1H303.9zM201.9 823.7H206.7V829.2H201.9zM299.1 823.7H303.9V829.2H299.1zM206.7 828.8H216.5V834.3H206.7zM289.4 828.8H299.1V834.3H289.4zM216.5 833.9H226.2V839.4H216.5zM279.6 833.9H289.4V839.4H279.6zM231.0 839.0H274.8V844.5H231.0z"/>
<path fill="#ff8686" d="M235.9 639.5H240.8V645.0H235.9zM211.6 644.6H226.2V650.1H211.6zM250.5 644.6H265.1V650.1H250.5zM201.9 649.7H206.7V655.2H201.9zM265.1 649.7H279.6V655.2H265.1zM192.2 654.8H197.0V660.3H192.2zM274.8 654.8H284.5V660.3H274.8zM187.3 659.9H192.2V665.5H187.3zM284.5 659.9H294.2V665.5H284.5zM182.4 665.1H187.3V670.6H182.4zM289.4 665.1H299.1V670.6H289.4zM177.6 670.2H182.4V675.7H177.6zM294.2 670.2H303.9V675.7H294.2zM172.7 675.3H177.6V680.8H172.7zM240.8 675.3H269.9V680.8H240.8zM299.1 675.3H308.8V680.8H299.1zM167.8 680.4H172.7V685.9H167.8zM226.2 680.4H231.0V685.9H226.2zM269.9 680.4H284.5V685.9H269.9zM303.9 680.4H313.7V685.9H303.9zM167.8 685.5H172.7V691.0H167.8zM216.5 685.5H221.3V691.0H216.5zM284.5 685.5H294.2V691.0H284.5zM303.9 685.5H313.7V691.0H303.9zM163.0 690.6H167.8V696.2H163.0zM206.7 690.6H211.6V696.2H206.7zM289.4 690.6H299.1V696.2H289.4zM308.8 690.6H318.5V696.2H308.8zM163.0 695.8H167.8V701.3H163.0zM201.9 695.8H206.7V701.3H201.9zM294.2 695.8H303.9V701.3H294.2zM313.7 695.8H323.4V701.3H313.7zM158.1 700.9H163.0V706.4H158.1zM197.0 700.9H201.9V706.4H197.0zM299.1 700.9H308.8V706.4H299.1zM313.7 700.9H323.4V706.4H313.7zM158.1 706.0H163.0V711.5H158.1zM299.1 706.0H308.8V711.5H299.1zM318.5 706.0H328.3V711.5H318.5zM158.1 711.1H163.0V716.6H158.1zM192.2 711.1H197.0V716.6H192.2zM303.9 711.1H308.8V716.6H303.9zM323.4 711.1H328.3V716.6H323.4zM158.1 716.2H163.0V721.7H158.1zM187.3 716.2H192.2V721.7H187.3zM303.9 716.2H308.8V721.7H303.9zM323.4 716.2H333.1V721.7H323.4zM158.1 721.3H163.0V726.9H158.1zM187.3 721.3H192.2V726.9H187.3zM303.9 721.3H308.8V726.9H303.9zM328.3 721.3H333.1V726.9H328.3zM158.1 726.5H163.0V732.0H158.1zM182.4 726.5H187.3V732.0H182.4zM303.9 726.5H308.8V732.0H303.9zM328.3 726.5H333.1V732.0H328.3zM158.1 731.6H163.0V737.1H158.1zM182.4 731.6H187.3V737.1H182.4zM303.9 731.6H308.8V737.1H303.9zM328.3 731.6H333.1V737.1H328.3zM158.1 736.7H163.0V742.2H158.1zM182.4 736.7H187.3V742.2H182.4zM303.9 736.7H308.8V742.2H303.9zM333.1 736.7H338.0V742.2H333.1zM158.1 741.8H163.0V747.3H158.1zM182.4 741.8H187.3V747.3H182.4zM303.9 741.8H308.8V747.3H303.9zM333.1 741.8H338.0V747.3H333.1zM158.1 746.9H163.0V752.4H158.1zM182.4 746.9H187.3V752.4H182.4zM303.9 746.9H308.8V752.4H303.9zM333.1 746.9H338.0V752.4H333.1zM158.1 752.0H167.8V757.6H158.1zM182.4 752.0H187.3V757.6H182.4zM333.1 752.0H338.0V757.6H333.1zM163.0 757.2H167.8V762.7H163.0zM182.4 757.2H187.3V762.7H182.4zM299.1 757.2H303.9V762.7H299.1zM333.1 757.2H338.0V762.7H333.1zM163.0 762.3H172.7V767.8H163.0zM182.4 762.3H187.3V767.8H182.4zM333.1 762.3H338.0V767.8H333.1zM163.0 767.4H172.7V772.9H163.0zM182.4 767.4H192.2V772.9H182.4zM294.2 767.4H299.1V772.9H294.2zM167.8 772.5H177.6V778.0H167.8zM182.4 772.5H192.2V778.0H182.4zM289.4 772.5H294.2V778.0H289.4zM328.3 772.5H333.1V778.0H328.3zM167.8 777.6H177.6V783.1H167.8zM187.3 777.6H197.0V783.1H187.3zM284.5 777.6H289.4V783.1H284.5zM328.3 777.6H333.1V783.1H328.3zM172.7 782.7H182.4V788.3H172.7zM192.2 782.7H201.9V788.3H192.2zM279.6 782.7H284.5V788.3H279.6zM328.3 782.7H333.1V788.3H328.3zM177.6 787.9H182.4V793.4H177.6zM197.0 787.9H206.7V793.4H197.0zM269.9 787.9H274.8V793.4H269.9zM323.4 787.9H328.3V793.4H323.4zM177.6 793.0H187.3V798.5H177.6zM206.7 793.0H216.5V798.5H206.7zM260.2 793.0H269.9V798.5H260.2zM323.4 793.0H328.3V798.5H323.4zM182.4 798.1H192.2V803.6H182.4zM221.3 798.1H255.3V803.6H221.3zM318.5 798.1H323.4V803.6H318.5zM187.3 803.2H192.2V808.7H187.3zM313.7 803.2H318.5V808.7H313.7zM192.2 808.3H197.0V813.8H192.2zM197.0 813.4H201.9V819.0H197.0zM308.8 813.4H313.7V819.0H308.8zM201.9 818.6H206.7V824.1H201.9zM299.1 818.6H303.9V824.1H299.1zM206.7 823.7H216.5V829.2H206.7zM294.2 823.7H299.1V829.2H294.2zM216.5 828.8H226.2V834.3H216.5zM284.5 828.8H289.4V834.3H284.5zM226.2 833.9H245.6V839.4H226.2zM260.2 833.9H279.6V839.4H260.2z"/>
<path fill="#ff8080" d="M226.2 644.6H250.5V650.1H226.2zM206.7 649.7H221.3V655.2H206.7zM250.5 649.7H265.1V655.2H250.5zM197.0 654.8H206.7V660.3H197.0zM260.2 654.8H274.8V660.3H260.2zM192.2 659.9H197.0V665.5H192.2zM269.9 659.9H284.5V665.5H269.9zM187.3 665.1H192.2V670.6H187.3zM269.9 665.1H289.4V670.6H269.9zM182.4 670.2H187.3V675.7H182.4zM245.6 670.2H294.2V675.7H245.6zM177.6 675.3H182.4V680.8H177.6zM226.2 675.3H240.8V680.8H226.2zM269.9 675.3H299.1V680.8H269.9zM172.7 680.4H177.6V685.9H172.7zM216.5 680.4H226.2V685.9H216.5zM284.5 680.4H303.9V685.9H284.5zM172.7 685.5H177.6V691.0H172.7zM211.6 685.5H216.5V691.0H211.6zM294.2 685.5H303.9V691.0H294.2zM167.8 690.6H172.7V696.2H167.8zM201.9 690.6H206.7V696.2H201.9zM299.1 690.6H308.8V696.2H299.1zM167.8 695.8H172.7V701.3H167.8zM197.0 695.8H201.9V701.3H197.0zM303.9 695.8H313.7V701.3H303.9zM163.0 700.9H167.8V706.4H163.0zM192.2 700.9H197.0V706.4H192.2zM308.8 700.9H313.7V706.4H308.8zM163.0 706.0H167.8V711.5H163.0zM192.2 706.0H197.0V711.5H192.2zM308.8 706.0H318.5V711.5H308.8zM163.0 711.1H167.8V716.6H163.0zM187.3 711.1H192.2V716.6H187.3zM308.8 711.1H323.4V716.6H308.8zM163.0 716.2H167.8V721.7H163.0zM182.4 716.2H187.3V721.7H182.4zM308.8 716.2H323.4V721.7H308.8zM163.0 721.3H167.8V726.9H163.0zM182.4 721.3H187.3V726.9H182.4zM308.8 721.3H328.3V726.9H308.8zM163.0 726.5H167.8V732.0H163.0zM177.6 726.5H182.4V732.0H177.6zM308.8 726.5H328.3V732.0H308.8zM163.0 731.6H182.4V737.1H163.0zM308.8 731.6H328.3V737.1H308.8zM163.0 736.7H182.4V742.2H163.0zM308.8 736.7H318.5V742.2H308.8zM323.4 736.7H333.1V742.2H323.4zM163.0 741.8H182.4V747.3H163.0zM308.8 741.8H313.7V747.3H308.8zM323.4 741.8H333.1V747.3H323.4zM163.0 746.9H182.4V752.4H163.0zM308.8 746.9H313.7V752.4H308.8zM328.3 746.9H333.1V752.4H328.3zM167.8 752.0H182.4V757.6H167.8zM303.9 752.0H308.8V757.6H303.9zM328.3 752.0H333.1V757.6H328.3zM167.8 757.2H182.4V762.7H167.8zM303.9 757.2H308.8V762.7H303.9zM328.3 757.2H333.1V762.7H328.3zM172.7 762.3H182.4V767.8H172.7zM299.1 762.3H303.9V767.8H299.1zM328.3 762.3H333.1V767.8H328.3zM172.7 767.4H182.4V772.9H172.7zM328.3 767.4H333.1V772.9H328.3zM177.6 772.5H182.4V778.0H177.6zM294.2 772.5H299.1V778.0H294.2zM323.4 772.5H328.3V778.0H323.4zM177.6 777.6H187.3V783.1H177.6zM289.4 777.6H294.2V783.1H289.4zM323.4 777.6H328.3V783.1H323.4zM182.4 782.7H192.2V788.3H182.4zM284.5 782.7H289.4V788.3H284.5zM323.4 782.7H328.3V788.3H323.4zM182.4 787.9H197.0V793.4H182.4zM274.8 787.9H279.6V793.4H274.8zM318.5 787.9H323.4V793.4H318.5zM187.3 793.0H206.7V798.5H187.3zM269.9 793.0H274.8V798.5H269.9zM318.5 793.0H323.4V798.5H318.5zM192.2 798.1H221.3V803.6H192.2zM255.3 798.1H265.1V803.6H255.3zM313.7 798.1H318.5V803.6H313.7zM192.2 803.2H245.6V808.7H192.2zM308.8 803.2H313.7V808.7H308.8zM197.0 808.3H211.6V813.8H197.0zM308.8 808.3H313.7V813.8H308.8zM201.9 813.4H211.6V819.0H201.9zM299.1 813.4H308.8V819.0H299.1zM206.7 818.6H221.3V824.1H206.7zM294.2 818.6H299.1V824.1H294.2zM216.5 823.7H226.2V829.2H216.5zM284.5 823.7H294.2V829.2H284.5zM226.2 828.8H240.8V834.3H226.2zM269.9 828.8H284.5V834.3H269.9zM245.6 833.9H260.2V839.4H245.6z"/>
<path fill="#ff7979" d="M221.3 649.7H250.5V655.2H221.3zM206.7 654.8H260.2V660.3H206.7zM197.0 659.9H206.7V665.5H197.0zM245.6 659.9H269.9V665.5H245.6zM192.2 665.1H201.9V670.6H192.2zM240.8 665.1H269.9V670.6H240.8zM187.3 670.2H192.2V675.7H187.3zM226.2 670.2H245.6V675.7H226.2zM182.4 675.3H187.3V680.8H182.4zM216.5 675.3H226.2V680.8H216.5zM177.6 680.4H187.3V685.9H177.6zM211.6 680.4H216.5V685.9H211.6zM177.6 685.5H182.4V691.0H177.6zM201.9 685.5H211.6V691.0H201.9zM172.7 690.6H182.4V696.2H172.7zM197.0 690.6H201.9V696.2H197.0zM172.7 695.8H177.6V701.3H172.7zM192.2 695.8H197.0V701.3H192.2zM167.8 700.9H177.6V706.4H167.8zM187.3 700.9H192.2V706.4H187.3zM167.8 706.0H192.2V711.5H167.8zM167.8 711.1H187.3V716.6H167.8zM167.8 716.2H182.4V721.7H167.8zM167.8 721.3H182.4V726.9H167.8zM167.8 726.5H177.6V732.0H167.8zM318.5 736.7H323.4V742.2H318.5zM313.7 741.8H323.4V747.3H313.7zM313.7 746.9H328.3V752.4H313.7zM308.8 752.0H328.3V757.6H308.8zM308.8 757.2H328.3V762.7H308.8zM303.9 762.3H313.7V767.8H303.9zM318.5 762.3H328.3V767.8H318.5zM299.1 767.4H308.8V772.9H299.1zM318.5 767.4H328.3V772.9H318.5zM299.1 772.5H303.9V778.0H299.1zM318.5 772.5H323.4V778.0H318.5zM294.2 777.6H299.1V783.1H294.2zM318.5 777.6H323.4V783.1H318.5zM289.4 782.7H294.2V788.3H289.4zM318.5 782.7H323.4V788.3H318.5zM279.6 787.9H289.4V793.4H279.6zM313.7 787.9H318.5V793.4H313.7zM274.8 793.0H279.6V798.5H274.8zM313.7 793.0H318.5V798.5H313.7zM265.1 798.1H269.9V803.6H265.1zM308.8 798.1H313.7V803.6H308.8zM245.6 803.2H260.2V808.7H245.6zM303.9 803.2H308.8V808.7H303.9zM211.6 808.3H245.6V813.8H211.6zM299.1 808.3H308.8V813.8H299.1zM211.6 813.4H231.0V819.0H211.6zM294.2 813.4H299.1V819.0H294.2zM221.3 818.6H235.9V824.1H221.3zM284.5 818.6H294.2V824.1H284.5zM226.2 823.7H245.6V829.2H226.2zM269.9 823.7H284.5V829.2H269.9zM240.8 828.8H269.9V834.3H240.8z"/>
<path fill="#ff7272" d="M206.7 659.9H245.6V665.5H206.7zM201.9 665.1H240.8V670.6H201.9zM192.2 670.2H226.2V675.7H192.2zM187.3 675.3H216.5V680.8H187.3zM187.3 680.4H211.6V685.9H187.3zM182.4 685.5H201.9V691.0H182.4zM182.4 690.6H197.0V696.2H182.4zM177.6 695.8H192.2V701.3H177.6zM177.6 700.9H187.3V706.4H177.6zM313.7 762.3H318.5V767.8H313.7zM308.8 767.4H318.5V772.9H308.8zM303.9 772.5H318.5V778.0H303.9zM299.1 777.6H318.5V783.1H299.1zM294.2 782.7H318.5V788.3H294.2zM289.4 787.9H299.1V793.4H289.4zM303.9 787.9H313.7V793.4H303.9zM279.6 793.0H289.4V798.5H279.6zM303.9 793.0H313.7V798.5H303.9zM269.9 798.1H284.5V803.6H269.9zM299.1 798.1H308.8V803.6H299.1zM260.2 803.2H274.8V808.7H260.2zM299.1 803.2H303.9V808.7H299.1zM245.6 808.3H265.1V813.8H245.6zM289.4 808.3H299.1V813.8H289.4zM231.0 813.4H260.2V819.0H231.0zM279.6 813.4H294.2V819.0H279.6zM235.9 818.6H284.5V824.1H235.9zM245.6 823.7H269.9V829.2H245.6z"/>
<path fill="#ff6b6b" d="M299.1 787.9H303.9V793.4H299.1zM289.4 793.0H303.9V798.5H289.4zM284.5 798.1H299.1V803.6H284.5zM274.8 803.2H299.1V808.7H274.8zM265.1 808.3H289.4V813.8H265.1zM260.2 813.4H279.6V819.0H260.2z"/>
</g>
<g shape-rendering="crispEdges">
<path fill="#aaaaff" d="M543.9 777.6H558.4V783.1H543.9zM539.0 782.7H563.2V788.3H539.0zM539.0 787.9H563.2V793.4H539.0zM543.9 793.0H558.4V798.5H543.9z"/>
<path fill="#bfbfff" d="M534.2 772.5H563.2V778.0H534.2zM534.2 777.6H543.9V783.1H534.2zM558.4 777.6H563.2V783.1H558.4zM529.4 782.7H539.0V788.3H529.4zM563.2 782.7H568.0V788.3H563.2zM529.4 787.9H539.0V793.4H529.4zM563.2 787.9H568.0V793.4H563.2zM534.2 793.0H543.9V798.5H534.2zM558.4 793.0H568.0V798.5H558.4zM539.0 798.1H563.2V803.6H539.0zM543.9 803.2H558.4V808.7H543.9z"/>
<path fill="#d4d4ff" d="M534.2 767.4H558.4V772.9H534.2zM529.4 772.5H534.2V778.0H529.4zM563.2 772.5H568.0V778.0H563.2zM524.5 777.6H534.2V783.1H524.5zM563.2 777.6H568.0V783.1H563.2zM524.5 782.7H529.4V788.3H524.5zM568.0 782.7H572.9V788.3H568.0zM524.5 787.9H529.4V793.4H524.5zM568.0 787.9H572.9V793.4H568.0zM524.5 793.0H534.2V798.5H524.5zM568.0 793.0H572.9V798.5H568.0zM529.4 798.1H539.0V803.6H529.4zM563.2 798.1H572.9V803.6H563.2zM529.4 803.2H543.9V808.7H529.4zM558.4 803.2H568.0V808.7H558.4zM534.2 808.3H563.2V813.8H534.2z"/>
<path fill="#eaeaff" d="M534.2 762.3H558.4V767.8H534.2zM529.4 767.4H534.2V772.9H529.4zM558.4 767.4H563.2V772.9H558.4zM524.5 772.5H529.4V778.0H524.5zM519.7 777.6H524.5V783.1H519.7zM568.0 777.6H572.9V783.1H568.0zM519.7 782.7H524.5V788.3H519.7zM572.9 782.7H577.7V788.3H572.9zM514.8 787.9H524.5V793.4H514.8zM572.9 787.9H577.7V793.4H572.9zM519.7 793.0H524.5V798.5H519.7zM572.9 793.0H577.7V798.5H572.9zM519.7 798.1H529.4V803.6H519.7zM572.9 798.1H577.7V803.6H572.9zM519.7 803.2H529.4V808.7H519.7zM568.0 803.2H577.7V808.7H568.0zM524.5 808.3H534.2V813.8H524.5zM563.2 808.3H572.9V813.8H563.2zM529.4 813.4H568.0V819.0H529.4zM534.2 818.6H563.2V824.1H534.2z"/>
<path fill="#fff8f8" d="M471.3 583.2H485.8V588.7H471.3zM655.1 583.2H679.3V588.7H655.1zM466.5 588.3H476.2V593.8H466.5zM659.9 588.3H684.1V593.8H659.9zM456.8 593.4H471.3V598.9H456.8zM669.6 593.4H693.8V598.9H669.6zM452.0 598.5H466.5V604.1H452.0zM674.4 598.5H698.6V604.1H674.4zM447.1 603.7H461.7V609.2H447.1zM679.3 603.7H703.5V609.2H679.3zM442.3 608.8H456.8V614.3H442.3zM684.1 608.8H708.3V614.3H684.1zM437.5 613.9H452.0V619.4H437.5zM688.9 613.9H713.1V619.4H688.9zM437.5 619.0H447.1V624.5H437.5zM693.8 619.0H713.1V624.5H693.8zM432.6 624.1H447.1V629.6H432.6zM698.6 624.1H718.0V629.6H698.6zM427.8 629.2H442.3V634.8H427.8zM703.5 629.2H722.8V634.8H703.5zM427.8 634.4H437.5V639.9H427.8zM708.3 634.4H722.8V639.9H708.3zM427.8 639.5H437.5V645.0H427.8zM713.1 639.5H722.8V645.0H713.1zM427.8 644.6H432.6V650.1H427.8zM713.1 644.6H722.8V650.1H713.1zM427.8 649.7H432.6V655.2H427.8zM718.0 649.7H722.8V655.2H718.0zM718.0 654.8H722.8V660.3H718.0zM529.4 757.2H558.4V762.7H529.4zM427.8 762.3H432.6V767.8H427.8zM519.7 762.3H524.5V767.8H519.7zM563.2 762.3H568.0V767.8H563.2zM427.8 767.4H432.6V772.9H427.8zM514.8 767.4H519.7V772.9H514.8zM568.0 767.4H572.9V772.9H568.0zM427.8 772.5H437.5V778.0H427.8zM510.0 772.5H514.8V778.0H510.0zM572.9 772.5H577.7V778.0H572.9zM427.8 777.6H437.5V783.1H427.8zM505.2 777.6H514.8V783.1H505.2zM427.8 782.7H442.3V788.3H427.8zM500.3 782.7H510.0V788.3H500.3zM577.7 782.7H582.6V788.3H577.7zM427.8 787.9H447.1V793.4H427.8zM500.3 787.9H510.0V793.4H500.3zM427.8 793.0H447.1V798.5H427.8zM495.5 793.0H510.0V798.5H495.5zM427.8 798.1H452.0V803.6H427.8zM495.5 798.1H510.0V803.6H495.5zM582.6 798.1H587.4V803.6H582.6zM427.8 803.2H461.7V808.7H427.8zM490.7 803.2H510.0V808.7H490.7zM582.6 803.2H587.4V808.7H582.6zM427.8 808.3H466.5V813.8H427.8zM485.8 808.3H510.0V813.8H485.8zM577.7 808.3H582.6V813.8H577.7zM427.8 813.4H514.8V819.0H427.8zM577.7 813.4H582.6V819.0H577.7zM427.8 818.6H514.8V824.1H427.8zM572.9 818.6H582.6V824.1H572.9zM427.8 823.7H519.7V829.2H427.8zM568.0 823.7H577.7V829.2H568.0zM718.0 823.7H722.8V829.2H718.0zM427.8 828.8H524.5V834.3H427.8zM563.2 828.8H577.7V834.3H563.2zM713.1 828.8H722.8V834.3H713.1zM427.8 833.9H543.9V839.4H427.8zM548.7 833.9H572.9V839.4H548.7zM713.1 833.9H722.8V839.4H713.1zM427.8 839.0H572.9V844.5H427.8zM708.3 839.0H722.8V844.5H708.3zM427.8 844.1H568.0V849.7H427.8zM703.5 844.1H722.8V849.7H703.5zM432.6 849.3H563.2V854.8H432.6zM698.6 849.3H718.0V854.8H698.6zM437.5 854.4H563.2V859.9H437.5zM693.8 854.4H713.1V859.9H693.8zM437.5 859.5H558.4V865.0H437.5zM688.9 859.5H713.1V865.0H688.9zM442.3 864.6H563.2V870.1H442.3zM679.3 864.6H708.3V870.1H679.3zM447.1 869.7H563.2V875.2H447.1zM674.4 869.7H703.5V875.2H674.4zM452.0 874.8H572.9V880.4H452.0zM664.8 874.8H698.6V880.4H664.8zM456.8 880.0H577.7V885.5H456.8zM650.3 880.0H693.8V885.5H650.3zM466.5 885.1H597.1V890.6H466.5zM635.8 885.1H684.1V890.6H635.8zM471.3 890.2H679.3V895.7H471.3z"/>
<path fill="#fff2f2" d="M485.8 583.2H514.8V588.7H485.8zM626.1 583.2H655.1V588.7H626.1zM476.2 588.3H505.2V593.8H476.2zM635.8 588.3H659.9V593.8H635.8zM471.3 593.4H495.5V598.9H471.3zM645.4 593.4H669.6V598.9H645.4zM466.5 598.5H485.8V604.1H466.5zM655.1 598.5H674.4V604.1H655.1zM461.7 603.7H481.0V609.2H461.7zM659.9 603.7H679.3V609.2H659.9zM456.8 608.8H476.2V614.3H456.8zM669.6 608.8H684.1V614.3H669.6zM452.0 613.9H471.3V619.4H452.0zM674.4 613.9H688.9V619.4H674.4zM447.1 619.0H466.5V624.5H447.1zM679.3 619.0H693.8V624.5H679.3zM447.1 624.1H461.7V629.6H447.1zM684.1 624.1H698.6V629.6H684.1zM442.3 629.2H456.8V634.8H442.3zM688.9 629.2H703.5V634.8H688.9zM437.5 634.4H456.8V639.9H437.5zM693.8 634.4H708.3V639.9H693.8zM437.5 639.5H452.0V645.0H437.5zM693.8 639.5H713.1V645.0H693.8zM432.6 644.6H447.1V650.1H432.6zM698.6 644.6H713.1V650.1H698.6zM432.6 649.7H447.1V655.2H432.6zM703.5 649.7H718.0V655.2H703.5zM427.8 654.8H442.3V660.3H427.8zM703.5 654.8H718.0V660.3H703.5zM427.8 659.9H442.3V665.5H427.8zM708.3 659.9H722.8V665.5H708.3zM427.8 665.1H442.3V670.6H427.8zM713.1 665.1H722.8V670.6H713.1zM427.8 670.2H437.5V675.7H427.8zM713.1 670.2H722.8V675.7H713.1zM427.8 675.3H437.5V680.8H427.8zM718.0 675.3H722.8V680.8H718.0zM427.8 680.4H437.5V685.9H427.8zM718.0 680.4H722.8V685.9H718.0zM427.8 685.5H437.5V691.0H427.8zM718.0 685.5H722.8V691.0H718.0zM427.8 690.6H437.5V696.2H427.8zM427.8 695.8H437.5V701.3H427.8zM427.8 700.9H432.6V706.4H427.8zM427.8 706.0H432.6V711.5H427.8zM427.8 711.1H437.5V716.6H427.8zM427.8 716.2H437.5V721.7H427.8zM427.8 721.3H437.5V726.9H427.8zM427.8 726.5H437.5V732.0H427.8zM427.8 731.6H437.5V737.1H427.8zM427.8 736.7H437.5V742.2H427.8zM427.8 741.8H442.3V747.3H427.8zM427.8 746.9H442.3V752.4H427.8zM427.8 752.0H447.1V757.6H427.8zM427.8 757.2H447.1V762.7H427.8zM519.7 757.2H529.4V762.7H519.7zM558.4 757.2H563.2V762.7H558.4zM432.6 762.3H452.0V767.8H432.6zM510.0 762.3H519.7V767.8H510.0zM432.6 767.4H456.8V772.9H432.6zM505.2 767.4H514.8V772.9H505.2zM572.9 767.4H577.7V772.9H572.9zM437.5 772.5H456.8V778.0H437.5zM500.3 772.5H510.0V778.0H500.3zM437.5 777.6H466.5V783.1H437.5zM490.7 777.6H505.2V783.1H490.7zM577.7 777.6H582.6V783.1H577.7zM442.3 782.7H500.3V788.3H442.3zM447.1 787.9H500.3V793.4H447.1zM582.6 787.9H587.4V793.4H582.6zM718.0 787.9H722.8V793.4H718.0zM447.1 793.0H495.5V798.5H447.1zM582.6 793.0H587.4V798.5H582.6zM718.0 793.0H722.8V798.5H718.0zM452.0 798.1H495.5V803.6H452.0zM718.0 798.1H722.8V803.6H718.0zM461.7 803.2H490.7V808.7H461.7zM713.1 803.2H722.8V808.7H713.1zM466.5 808.3H485.8V813.8H466.5zM582.6 808.3H587.4V813.8H582.6zM713.1 808.3H722.8V813.8H713.1zM582.6 813.4H587.4V819.0H582.6zM708.3 813.4H722.8V819.0H708.3zM582.6 818.6H587.4V824.1H582.6zM703.5 818.6H722.8V824.1H703.5zM577.7 823.7H587.4V829.2H577.7zM703.5 823.7H718.0V829.2H703.5zM577.7 828.8H587.4V834.3H577.7zM698.6 828.8H713.1V834.3H698.6zM572.9 833.9H587.4V839.4H572.9zM693.8 833.9H713.1V839.4H693.8zM572.9 839.0H587.4V844.5H572.9zM688.9 839.0H708.3V844.5H688.9zM568.0 844.1H587.4V849.7H568.0zM684.1 844.1H703.5V849.7H684.1zM563.2 849.3H587.4V854.8H563.2zM674.4 849.3H698.6V854.8H674.4zM563.2 854.4H592.2V859.9H563.2zM669.6 854.4H693.8V859.9H669.6zM558.4 859.5H597.1V865.0H558.4zM655.1 859.5H688.9V865.0H655.1zM563.2 864.6H606.7V870.1H563.2zM640.6 864.6H679.3V870.1H640.6zM563.2 869.7H674.4V875.2H563.2zM572.9 874.8H664.8V880.4H572.9zM577.7 880.0H650.3V885.5H577.7zM597.1 885.1H635.8V890.6H597.1z"/>
<path fill="#ffebeb" d="M514.8 583.2H539.0V588.7H514.8zM597.1 583.2H626.1V588.7H597.1zM505.2 588.3H524.5V593.8H505.2zM616.4 588.3H635.8V593.8H616.4zM495.5 593.4H510.0V598.9H495.5zM630.9 593.4H645.4V598.9H630.9zM485.8 598.5H500.3V604.1H485.8zM640.6 598.5H655.1V604.1H640.6zM481.0 603.7H495.5V609.2H481.0zM645.4 603.7H659.9V609.2H645.4zM476.2 608.8H490.7V614.3H476.2zM655.1 608.8H669.6V614.3H655.1zM471.3 613.9H481.0V619.4H471.3zM659.9 613.9H674.4V619.4H659.9zM466.5 619.0H476.2V624.5H466.5zM669.6 619.0H679.3V624.5H669.6zM461.7 624.1H471.3V629.6H461.7zM674.4 624.1H684.1V629.6H674.4zM456.8 629.2H471.3V634.8H456.8zM679.3 629.2H688.9V634.8H679.3zM456.8 634.4H466.5V639.9H456.8zM684.1 634.4H693.8V639.9H684.1zM452.0 639.5H461.7V645.0H452.0zM684.1 639.5H693.8V645.0H684.1zM447.1 644.6H456.8V650.1H447.1zM688.9 644.6H698.6V650.1H688.9zM447.1 649.7H456.8V655.2H447.1zM693.8 649.7H703.5V655.2H693.8zM442.3 654.8H452.0V660.3H442.3zM698.6 654.8H703.5V660.3H698.6zM442.3 659.9H452.0V665.5H442.3zM698.6 659.9H708.3V665.5H698.6zM442.3 665.1H452.0V670.6H442.3zM703.5 665.1H713.1V670.6H703.5zM437.5 670.2H447.1V675.7H437.5zM703.5 670.2H713.1V675.7H703.5zM437.5 675.3H447.1V680.8H437.5zM708.3 675.3H718.0V680.8H708.3zM437.5 680.4H447.1V685.9H437.5zM708.3 680.4H718.0V685.9H708.3zM437.5 685.5H447.1V691.0H437.5zM713.1 685.5H718.0V691.0H713.1zM437.5 690.6H447.1V696.2H437.5zM713.1 690.6H722.8V696.2H713.1zM437.5 695.8H442.3V701.3H437.5zM713.1 695.8H722.8V701.3H713.1zM432.6 700.9H442.3V706.4H432.6zM718.0 700.9H722.8V706.4H718.0zM432.6 706.0H442.3V711.5H432.6zM718.0 706.0H722.8V711.5H718.0zM437.5 711.1H447.1V716.6H437.5zM718.0 711.1H722.8V716.6H718.0zM437.5 716.2H447.1V721.7H437.5zM718.0 716.2H722.8V721.7H718.0zM437.5 721.3H447.1V726.9H437.5zM718.0 721.3H722.8V726.9H718.0zM437.5 726.5H447.1V732.0H437.5zM718.0 726.5H722.8V732.0H718.0zM437.5 731.6H447.1V737.1H437.5zM718.0 731.6H722.8V737.1H718.0zM437.5 736.7H452.0V742.2H437.5zM718.0 736.7H722.8V742.2H718.0zM442.3 741.8H452.0V747.3H442.3zM718.0 741.8H722.8V747.3H718.0zM442.3 746.9H456.8V752.4H442.3zM718.0 746.9H722.8V752.4H718.0zM447.1 752.0H456.8V757.6H447.1zM524.5 752.0H553.5V757.6H524.5zM718.0 752.0H722.8V757.6H718.0zM447.1 757.2H461.7V762.7H447.1zM510.0 757.2H519.7V762.7H510.0zM563.2 757.2H568.0V762.7H563.2zM718.0 757.2H722.8V762.7H718.0zM452.0 762.3H466.5V767.8H452.0zM500.3 762.3H510.0V767.8H500.3zM568.0 762.3H572.9V767.8H568.0zM718.0 762.3H722.8V767.8H718.0zM456.8 767.4H481.0V772.9H456.8zM485.8 767.4H505.2V772.9H485.8zM718.0 767.4H722.8V772.9H718.0zM456.8 772.5H500.3V778.0H456.8zM577.7 772.5H582.6V778.0H577.7zM718.0 772.5H722.8V778.0H718.0zM466.5 777.6H490.7V783.1H466.5zM582.6 777.6H587.4V783.1H582.6zM713.1 777.6H722.8V783.1H713.1zM582.6 782.7H587.4V788.3H582.6zM713.1 782.7H722.8V788.3H713.1zM708.3 787.9H718.0V793.4H708.3zM587.4 793.0H592.2V798.5H587.4zM708.3 793.0H718.0V798.5H708.3zM587.4 798.1H592.2V803.6H587.4zM708.3 798.1H718.0V803.6H708.3zM587.4 803.2H592.2V808.7H587.4zM703.5 803.2H713.1V808.7H703.5zM587.4 808.3H592.2V813.8H587.4zM698.6 808.3H713.1V813.8H698.6zM587.4 813.4H592.2V819.0H587.4zM698.6 813.4H708.3V819.0H698.6zM587.4 818.6H592.2V824.1H587.4zM693.8 818.6H703.5V824.1H693.8zM587.4 823.7H592.2V829.2H587.4zM688.9 823.7H703.5V829.2H688.9zM587.4 828.8H597.1V834.3H587.4zM684.1 828.8H698.6V834.3H684.1zM587.4 833.9H597.1V839.4H587.4zM679.3 833.9H693.8V839.4H679.3zM587.4 839.0H597.1V844.5H587.4zM669.6 839.0H688.9V844.5H669.6zM587.4 844.1H601.9V849.7H587.4zM664.8 844.1H684.1V849.7H664.8zM587.4 849.3H606.7V854.8H587.4zM655.1 849.3H674.4V854.8H655.1zM592.2 854.4H669.6V859.9H592.2zM597.1 859.5H655.1V865.0H597.1zM606.7 864.6H640.6V870.1H606.7z"/>
<path fill="#ffe4e4" d="M539.0 583.2H597.1V588.7H539.0zM524.5 588.3H543.9V593.8H524.5zM592.2 588.3H616.4V593.8H592.2zM510.0 593.4H529.4V598.9H510.0zM611.6 593.4H630.9V598.9H611.6zM500.3 598.5H514.8V604.1H500.3zM626.1 598.5H640.6V604.1H626.1zM495.5 603.7H505.2V609.2H495.5zM635.8 603.7H645.4V609.2H635.8zM490.7 608.8H500.3V614.3H490.7zM645.4 608.8H655.1V614.3H645.4zM481.0 613.9H490.7V619.4H481.0zM650.3 613.9H659.9V619.4H650.3zM476.2 619.0H485.8V624.5H476.2zM659.9 619.0H669.6V624.5H659.9zM471.3 624.1H481.0V629.6H471.3zM664.8 624.1H674.4V629.6H664.8zM471.3 629.2H476.2V634.8H471.3zM669.6 629.2H679.3V634.8H669.6zM466.5 634.4H471.3V639.9H466.5zM674.4 634.4H684.1V639.9H674.4zM461.7 639.5H471.3V645.0H461.7zM679.3 639.5H684.1V645.0H679.3zM456.8 644.6H466.5V650.1H456.8zM684.1 644.6H688.9V650.1H684.1zM456.8 649.7H461.7V655.2H456.8zM684.1 649.7H693.8V655.2H684.1zM452.0 654.8H461.7V660.3H452.0zM688.9 654.8H698.6V660.3H688.9zM452.0 659.9H461.7V665.5H452.0zM693.8 659.9H698.6V665.5H693.8zM452.0 665.1H456.8V670.6H452.0zM693.8 665.1H703.5V670.6H693.8zM447.1 670.2H456.8V675.7H447.1zM698.6 670.2H703.5V675.7H698.6zM447.1 675.3H456.8V680.8H447.1zM698.6 675.3H708.3V680.8H698.6zM447.1 680.4H452.0V685.9H447.1zM703.5 680.4H708.3V685.9H703.5zM447.1 685.5H452.0V691.0H447.1zM703.5 685.5H713.1V691.0H703.5zM447.1 690.6H452.0V696.2H447.1zM708.3 690.6H713.1V696.2H708.3zM442.3 695.8H452.0V701.3H442.3zM708.3 695.8H713.1V701.3H708.3zM442.3 700.9H452.0V706.4H442.3zM708.3 700.9H718.0V706.4H708.3zM442.3 706.0H452.0V711.5H442.3zM713.1 706.0H718.0V711.5H713.1zM447.1 711.1H452.0V716.6H447.1zM713.1 711.1H718.0V716.6H713.1zM447.1 716.2H452.0V721.7H447.1zM713.1 716.2H718.0V721.7H713.1zM447.1 721.3H456.8V726.9H447.1zM713.1 721.3H718.0V726.9H713.1zM447.1 726.5H456.8V732.0H447.1zM713.1 726.5H718.0V732.0H713.1zM447.1 731.6H456.8V737.1H447.1zM713.1 731.6H718.0V737.1H713.1zM452.0 736.7H461.7V742.2H452.0zM713.1 736.7H718.0V742.2H713.1zM452.0 741.8H461.7V747.3H452.0zM713.1 741.8H718.0V747.3H713.1zM456.8 746.9H466.5V752.4H456.8zM713.1 746.9H718.0V752.4H713.1zM456.8 752.0H471.3V757.6H456.8zM514.8 752.0H524.5V757.6H514.8zM553.5 752.0H558.4V757.6H553.5zM713.1 752.0H718.0V757.6H713.1zM461.7 757.2H481.0V762.7H461.7zM495.5 757.2H510.0V762.7H495.5zM713.1 757.2H718.0V762.7H713.1zM466.5 762.3H500.3V767.8H466.5zM572.9 762.3H577.7V767.8H572.9zM713.1 762.3H718.0V767.8H713.1zM481.0 767.4H485.8V772.9H481.0zM577.7 767.4H582.6V772.9H577.7zM708.3 767.4H718.0V772.9H708.3zM708.3 772.5H718.0V778.0H708.3zM708.3 777.6H713.1V783.1H708.3zM587.4 782.7H592.2V788.3H587.4zM703.5 782.7H713.1V788.3H703.5zM587.4 787.9H592.2V793.4H587.4zM703.5 787.9H708.3V793.4H703.5zM698.6 793.0H708.3V798.5H698.6zM592.2 798.1H597.1V803.6H592.2zM698.6 798.1H708.3V803.6H698.6zM592.2 803.2H597.1V808.7H592.2zM693.8 803.2H703.5V808.7H693.8zM592.2 808.3H597.1V813.8H592.2zM693.8 808.3H698.6V813.8H693.8zM592.2 813.4H597.1V819.0H592.2zM688.9 813.4H698.6V819.0H688.9zM592.2 818.6H601.9V824.1H592.2zM684.1 818.6H693.8V824.1H684.1zM592.2 823.7H601.9V829.2H592.2zM679.3 823.7H688.9V829.2H679.3zM597.1 828.8H601.9V834.3H597.1zM674.4 828.8H684.1V834.3H674.4zM597.1 833.9H606.7V839.4H597.1zM664.8 833.9H679.3V839.4H664.8zM597.1 839.0H611.6V844.5H597.1zM655.1 839.0H669.6V844.5H655.1zM601.9 844.1H630.9V849.7H601.9zM635.8 844.1H664.8V849.7H635.8zM606.7 849.3H655.1V854.8H606.7z"/>
<path fill="#ffdddd" d="M543.9 588.3H592.2V593.8H543.9zM529.4 593.4H548.7V598.9H529.4zM597.1 593.4H611.6V598.9H597.1zM514.8 598.5H529.4V604.1H514.8zM611.6 598.5H626.1V604.1H611.6zM505.2 603.7H519.7V609.2H505.2zM626.1 603.7H635.8V609.2H626.1zM500.3 608.8H510.0V614.3H500.3zM635.8 608.8H645.4V614.3H635.8zM490.7 613.9H500.3V619.4H490.7zM645.4 613.9H650.3V619.4H645.4zM485.8 619.0H495.5V624.5H485.8zM650.3 619.0H659.9V624.5H650.3zM481.0 624.1H490.7V629.6H481.0zM655.1 624.1H664.8V629.6H655.1zM476.2 629.2H485.8V634.8H476.2zM664.8 629.2H669.6V634.8H664.8zM471.3 634.4H481.0V639.9H471.3zM669.6 634.4H674.4V639.9H669.6zM471.3 639.5H476.2V645.0H471.3zM674.4 639.5H679.3V645.0H674.4zM466.5 644.6H471.3V650.1H466.5zM679.3 644.6H684.1V650.1H679.3zM461.7 649.7H471.3V655.2H461.7zM679.3 649.7H684.1V655.2H679.3zM461.7 654.8H466.5V660.3H461.7zM684.1 654.8H688.9V660.3H684.1zM461.7 659.9H466.5V665.5H461.7zM688.9 659.9H693.8V665.5H688.9zM456.8 665.1H461.7V670.6H456.8zM688.9 665.1H693.8V670.6H688.9zM456.8 670.2H461.7V675.7H456.8zM693.8 670.2H698.6V675.7H693.8zM456.8 675.3H461.7V680.8H456.8zM693.8 675.3H698.6V680.8H693.8zM452.0 680.4H461.7V685.9H452.0zM698.6 680.4H703.5V685.9H698.6zM452.0 685.5H456.8V691.0H452.0zM698.6 685.5H703.5V691.0H698.6zM452.0 690.6H456.8V696.2H452.0zM703.5 690.6H708.3V696.2H703.5zM452.0 695.8H456.8V701.3H452.0zM703.5 695.8H708.3V701.3H703.5zM452.0 700.9H456.8V706.4H452.0zM703.5 700.9H708.3V706.4H703.5zM452.0 706.0H456.8V711.5H452.0zM703.5 706.0H713.1V711.5H703.5zM452.0 711.1H456.8V716.6H452.0zM708.3 711.1H713.1V716.6H708.3zM452.0 716.2H461.7V721.7H452.0zM708.3 716.2H713.1V721.7H708.3zM456.8 721.3H461.7V726.9H456.8zM708.3 721.3H713.1V726.9H708.3zM456.8 726.5H461.7V732.0H456.8zM708.3 726.5H713.1V732.0H708.3zM456.8 731.6H466.5V737.1H456.8zM708.3 731.6H713.1V737.1H708.3zM461.7 736.7H466.5V742.2H461.7zM708.3 736.7H713.1V742.2H708.3zM461.7 741.8H471.3V747.3H461.7zM708.3 741.8H713.1V747.3H708.3zM466.5 746.9H481.0V752.4H466.5zM519.7 746.9H548.7V752.4H519.7zM708.3 746.9H713.1V752.4H708.3zM471.3 752.0H514.8V757.6H471.3zM558.4 752.0H563.2V757.6H558.4zM708.3 752.0H713.1V757.6H708.3zM481.0 757.2H495.5V762.7H481.0zM568.0 757.2H572.9V762.7H568.0zM708.3 757.2H713.1V762.7H708.3zM708.3 762.3H713.1V767.8H708.3zM703.5 767.4H708.3V772.9H703.5zM582.6 772.5H587.4V778.0H582.6zM703.5 772.5H708.3V778.0H703.5zM587.4 777.6H592.2V783.1H587.4zM703.5 777.6H708.3V783.1H703.5zM698.6 782.7H703.5V788.3H698.6zM592.2 787.9H597.1V793.4H592.2zM698.6 787.9H703.5V793.4H698.6zM592.2 793.0H597.1V798.5H592.2zM693.8 793.0H698.6V798.5H693.8zM693.8 798.1H698.6V803.6H693.8zM597.1 803.2H601.9V808.7H597.1zM688.9 803.2H693.8V808.7H688.9zM597.1 808.3H601.9V813.8H597.1zM684.1 808.3H693.8V813.8H684.1zM597.1 813.4H601.9V819.0H597.1zM679.3 813.4H688.9V819.0H679.3zM601.9 818.6H606.7V824.1H601.9zM674.4 818.6H684.1V824.1H674.4zM601.9 823.7H606.7V829.2H601.9zM669.6 823.7H679.3V829.2H669.6zM601.9 828.8H611.6V834.3H601.9zM659.9 828.8H674.4V834.3H659.9zM606.7 833.9H621.2V839.4H606.7zM650.3 833.9H664.8V839.4H650.3zM611.6 839.0H655.1V844.5H611.6zM630.9 844.1H635.8V849.7H630.9z"/>
<path fill="#ffd7d7" d="M548.7 593.4H597.1V598.9H548.7zM529.4 598.5H543.9V604.1H529.4zM597.1 598.5H611.6V604.1H597.1zM519.7 603.7H529.4V609.2H519.7zM616.4 603.7H626.1V609.2H616.4zM510.0 608.8H514.8V614.3H510.0zM626.1 608.8H635.8V614.3H626.1zM500.3 613.9H510.0V619.4H500.3zM635.8 613.9H645.4V619.4H635.8zM495.5 619.0H500.3V624.5H495.5zM645.4 619.0H650.3V624.5H645.4zM490.7 624.1H495.5V629.6H490.7zM650.3 624.1H655.1V629.6H650.3zM485.8 629.2H490.7V634.8H485.8zM655.1 629.2H664.8V634.8H655.1zM481.0 634.4H485.8V639.9H481.0zM664.8 634.4H669.6V639.9H664.8zM476.2 639.5H481.0V645.0H476.2zM669.6 639.5H674.4V645.0H669.6zM471.3 644.6H481.0V650.1H471.3zM669.6 644.6H679.3V650.1H669.6zM471.3 649.7H476.2V655.2H471.3zM674.4 649.7H679.3V655.2H674.4zM466.5 654.8H471.3V660.3H466.5zM679.3 654.8H684.1V660.3H679.3zM466.5 659.9H471.3V665.5H466.5zM684.1 659.9H688.9V665.5H684.1zM461.7 665.1H466.5V670.6H461.7zM684.1 665.1H688.9V670.6H684.1zM461.7 670.2H466.5V675.7H461.7zM688.9 670.2H693.8V675.7H688.9zM461.7 675.3H466.5V680.8H461.7zM688.9 675.3H693.8V680.8H688.9zM461.7 680.4H466.5V685.9H461.7zM693.8 680.4H698.6V685.9H693.8zM456.8 685.5H461.7V691.0H456.8zM693.8 685.5H698.6V691.0H693.8zM456.8 690.6H461.7V696.2H456.8zM698.6 690.6H703.5V696.2H698.6zM456.8 695.8H461.7V701.3H456.8zM698.6 695.8H703.5V701.3H698.6zM456.8 700.9H461.7V706.4H456.8zM698.6 700.9H703.5V706.4H698.6zM456.8 706.0H461.7V711.5H456.8zM456.8 711.1H466.5V716.6H456.8zM703.5 711.1H708.3V716.6H703.5zM461.7 716.2H466.5V721.7H461.7zM703.5 716.2H708.3V721.7H703.5zM461.7 721.3H466.5V726.9H461.7zM703.5 721.3H708.3V726.9H703.5zM461.7 726.5H471.3V732.0H461.7zM703.5 726.5H708.3V732.0H703.5zM466.5 731.6H471.3V737.1H466.5zM703.5 731.6H708.3V737.1H703.5zM466.5 736.7H476.2V742.2H466.5zM703.5 736.7H708.3V742.2H703.5zM471.3 741.8H485.8V747.3H471.3zM703.5 741.8H708.3V747.3H703.5zM481.0 746.9H519.7V752.4H481.0zM548.7 746.9H558.4V752.4H548.7zM703.5 746.9H708.3V752.4H703.5zM563.2 752.0H568.0V757.6H563.2zM703.5 752.0H708.3V757.6H703.5zM572.9 757.2H577.7V762.7H572.9zM703.5 757.2H708.3V762.7H703.5zM577.7 762.3H582.6V767.8H577.7zM703.5 762.3H708.3V767.8H703.5zM582.6 767.4H587.4V772.9H582.6zM698.6 767.4H703.5V772.9H698.6zM698.6 772.5H703.5V778.0H698.6zM698.6 777.6H703.5V783.1H698.6zM592.2 782.7H597.1V788.3H592.2zM693.8 782.7H698.6V788.3H693.8zM693.8 787.9H698.6V793.4H693.8zM597.1 793.0H601.9V798.5H597.1zM688.9 793.0H693.8V798.5H688.9zM597.1 798.1H601.9V803.6H597.1zM684.1 798.1H693.8V803.6H684.1zM684.1 803.2H688.9V808.7H684.1zM601.9 808.3H606.7V813.8H601.9zM679.3 808.3H684.1V813.8H679.3zM601.9 813.4H611.6V819.0H601.9zM674.4 813.4H679.3V819.0H674.4zM606.7 818.6H611.6V824.1H606.7zM664.8 818.6H674.4V824.1H664.8zM606.7 823.7H616.4V829.2H606.7zM655.1 823.7H669.6V829.2H655.1zM611.6 828.8H630.9V834.3H611.6zM640.6 828.8H659.9V834.3H640.6zM621.2 833.9H650.3V839.4H621.2z"/>
<path fill="#ffd0d0" d="M543.9 598.5H597.1V604.1H543.9zM529.4 603.7H539.0V609.2H529.4zM601.9 603.7H616.4V609.2H601.9zM514.8 608.8H524.5V614.3H514.8zM616.4 608.8H626.1V614.3H616.4zM510.0 613.9H514.8V619.4H510.0zM630.9 613.9H635.8V619.4H630.9zM500.3 619.0H510.0V624.5H500.3zM635.8 619.0H645.4V624.5H635.8zM495.5 624.1H500.3V629.6H495.5zM645.4 624.1H650.3V629.6H645.4zM490.7 629.2H495.5V634.8H490.7zM650.3 629.2H655.1V634.8H650.3zM485.8 634.4H490.7V639.9H485.8zM655.1 634.4H664.8V639.9H655.1zM481.0 639.5H485.8V645.0H481.0zM664.8 639.5H669.6V645.0H664.8zM481.0 644.6H485.8V650.1H481.0zM664.8 644.6H669.6V650.1H664.8zM476.2 649.7H481.0V655.2H476.2zM669.6 649.7H674.4V655.2H669.6zM471.3 654.8H476.2V660.3H471.3zM674.4 654.8H679.3V660.3H674.4zM471.3 659.9H476.2V665.5H471.3zM679.3 659.9H684.1V665.5H679.3zM466.5 665.1H471.3V670.6H466.5zM466.5 670.2H471.3V675.7H466.5zM684.1 670.2H688.9V675.7H684.1zM466.5 675.3H471.3V680.8H466.5zM466.5 680.4H471.3V685.9H466.5zM688.9 680.4H693.8V685.9H688.9zM461.7 685.5H466.5V691.0H461.7zM461.7 690.6H466.5V696.2H461.7zM693.8 690.6H698.6V696.2H693.8zM461.7 695.8H466.5V701.3H461.7zM693.8 695.8H698.6V701.3H693.8zM461.7 700.9H466.5V706.4H461.7zM461.7 706.0H466.5V711.5H461.7zM698.6 706.0H703.5V711.5H698.6zM466.5 711.1H471.3V716.6H466.5zM698.6 711.1H703.5V716.6H698.6zM466.5 716.2H471.3V721.7H466.5zM698.6 716.2H703.5V721.7H698.6zM466.5 721.3H471.3V726.9H466.5zM698.6 721.3H703.5V726.9H698.6zM471.3 726.5H476.2V732.0H471.3zM698.6 726.5H703.5V732.0H698.6zM471.3 731.6H481.0V737.1H471.3zM698.6 731.6H703.5V737.1H698.6zM476.2 736.7H485.8V742.2H476.2zM698.6 736.7H703.5V742.2H698.6zM485.8 741.8H505.2V747.3H485.8zM514.8 741.8H543.9V747.3H514.8zM698.6 741.8H703.5V747.3H698.6zM558.4 746.9H563.2V752.4H558.4zM698.6 746.9H703.5V752.4H698.6zM568.0 752.0H572.9V757.6H568.0zM698.6 752.0H703.5V757.6H698.6zM698.6 757.2H703.5V762.7H698.6zM698.6 762.3H703.5V767.8H698.6zM693.8 767.4H698.6V772.9H693.8zM587.4 772.5H592.2V778.0H587.4zM693.8 772.5H698.6V778.0H693.8zM592.2 777.6H597.1V783.1H592.2zM693.8 777.6H698.6V783.1H693.8zM688.9 782.7H693.8V788.3H688.9zM597.1 787.9H601.9V793.4H597.1zM688.9 787.9H693.8V793.4H688.9zM684.1 793.0H688.9V798.5H684.1zM601.9 798.1H606.7V803.6H601.9zM679.3 798.1H684.1V803.6H679.3zM601.9 803.2H606.7V808.7H601.9zM674.4 803.2H684.1V808.7H674.4zM606.7 808.3H611.6V813.8H606.7zM669.6 808.3H679.3V813.8H669.6zM611.6 813.4H616.4V819.0H611.6zM664.8 813.4H674.4V819.0H664.8zM611.6 818.6H621.2V824.1H611.6zM655.1 818.6H664.8V824.1H655.1zM616.4 823.7H655.1V829.2H616.4zM630.9 828.8H640.6V834.3H630.9z"/>
<path fill="#ffc9c9" d="M539.0 603.7H553.5V609.2H539.0zM587.4 603.7H601.9V609.2H587.4zM524.5 608.8H534.2V614.3H524.5zM611.6 608.8H616.4V614.3H611.6zM514.8 613.9H524.5V619.4H514.8zM621.2 613.9H630.9V619.4H621.2zM510.0 619.0H514.8V624.5H510.0zM630.9 619.0H635.8V624.5H630.9zM500.3 624.1H505.2V629.6H500.3zM640.6 624.1H645.4V629.6H640.6zM495.5 629.2H500.3V634.8H495.5zM645.4 629.2H650.3V634.8H645.4zM490.7 634.4H495.5V639.9H490.7zM485.8 639.5H490.7V645.0H485.8zM659.9 639.5H664.8V645.0H659.9zM481.0 649.7H485.8V655.2H481.0zM476.2 654.8H481.0V660.3H476.2zM669.6 654.8H674.4V660.3H669.6zM476.2 659.9H481.0V665.5H476.2zM674.4 659.9H679.3V665.5H674.4zM471.3 665.1H476.2V670.6H471.3zM679.3 665.1H684.1V670.6H679.3zM471.3 670.2H476.2V675.7H471.3zM679.3 670.2H684.1V675.7H679.3zM471.3 675.3H476.2V680.8H471.3zM684.1 675.3H688.9V680.8H684.1zM684.1 680.4H688.9V685.9H684.1zM466.5 685.5H471.3V691.0H466.5zM688.9 685.5H693.8V691.0H688.9zM466.5 690.6H471.3V696.2H466.5zM688.9 690.6H693.8V696.2H688.9zM466.5 695.8H471.3V701.3H466.5zM466.5 700.9H471.3V706.4H466.5zM693.8 700.9H698.6V706.4H693.8zM466.5 706.0H471.3V711.5H466.5zM693.8 706.0H698.6V711.5H693.8zM471.3 711.1H476.2V716.6H471.3zM693.8 711.1H698.6V716.6H693.8zM471.3 716.2H476.2V721.7H471.3zM471.3 721.3H481.0V726.9H471.3zM476.2 726.5H481.0V732.0H476.2zM481.0 731.6H485.8V737.1H481.0zM485.8 736.7H495.5V742.2H485.8zM505.2 741.8H514.8V747.3H505.2zM543.9 741.8H548.7V747.3H543.9zM693.8 752.0H698.6V757.6H693.8zM693.8 757.2H698.6V762.7H693.8zM582.6 762.3H587.4V767.8H582.6zM693.8 762.3H698.6V767.8H693.8zM587.4 767.4H592.2V772.9H587.4zM688.9 772.5H693.8V778.0H688.9zM688.9 777.6H693.8V783.1H688.9zM597.1 782.7H601.9V788.3H597.1zM684.1 782.7H688.9V788.3H684.1zM684.1 787.9H688.9V793.4H684.1zM601.9 793.0H606.7V798.5H601.9zM679.3 793.0H684.1V798.5H679.3zM606.7 798.1H611.6V803.6H606.7zM674.4 798.1H679.3V803.6H674.4zM606.7 803.2H611.6V808.7H606.7zM669.6 803.2H674.4V808.7H669.6zM611.6 808.3H616.4V813.8H611.6zM664.8 808.3H669.6V813.8H664.8zM616.4 813.4H621.2V819.0H616.4zM655.1 813.4H664.8V819.0H655.1zM621.2 818.6H655.1V824.1H621.2z"/>
<path fill="#ffc3c3" d="M553.5 603.7H587.4V609.2H553.5zM534.2 608.8H543.9V614.3H534.2zM597.1 608.8H611.6V614.3H597.1zM524.5 613.9H529.4V619.4H524.5zM616.4 613.9H621.2V619.4H616.4zM514.8 619.0H519.7V624.5H514.8zM626.1 619.0H630.9V624.5H626.1zM505.2 624.1H514.8V629.6H505.2zM635.8 624.1H640.6V629.6H635.8zM500.3 629.2H505.2V634.8H500.3zM640.6 629.2H645.4V634.8H640.6zM495.5 634.4H500.3V639.9H495.5zM650.3 634.4H655.1V639.9H650.3zM490.7 639.5H495.5V645.0H490.7zM655.1 639.5H659.9V645.0H655.1zM485.8 644.6H490.7V650.1H485.8zM659.9 644.6H664.8V650.1H659.9zM485.8 649.7H490.7V655.2H485.8zM664.8 649.7H669.6V655.2H664.8zM481.0 654.8H485.8V660.3H481.0zM669.6 659.9H674.4V665.5H669.6zM476.2 665.1H481.0V670.6H476.2zM674.4 665.1H679.3V670.6H674.4zM476.2 670.2H481.0V675.7H476.2zM679.3 675.3H684.1V680.8H679.3zM471.3 680.4H476.2V685.9H471.3zM471.3 685.5H476.2V691.0H471.3zM684.1 685.5H688.9V691.0H684.1zM471.3 690.6H476.2V696.2H471.3zM471.3 695.8H476.2V701.3H471.3zM688.9 695.8H693.8V701.3H688.9zM471.3 700.9H476.2V706.4H471.3zM688.9 700.9H693.8V706.4H688.9zM471.3 706.0H476.2V711.5H471.3zM476.2 711.1H481.0V716.6H476.2zM476.2 716.2H481.0V721.7H476.2zM693.8 716.2H698.6V721.7H693.8zM481.0 721.3H485.8V726.9H481.0zM693.8 721.3H698.6V726.9H693.8zM481.0 726.5H490.7V732.0H481.0zM693.8 726.5H698.6V732.0H693.8zM485.8 731.6H495.5V737.1H485.8zM693.8 731.6H698.6V737.1H693.8zM495.5 736.7H524.5V742.2H495.5zM693.8 736.7H698.6V742.2H693.8zM548.7 741.8H558.4V747.3H548.7zM693.8 741.8H698.6V747.3H693.8zM563.2 746.9H568.0V752.4H563.2zM693.8 746.9H698.6V752.4H693.8zM572.9 752.0H577.7V757.6H572.9zM577.7 757.2H582.6V762.7H577.7zM688.9 757.2H693.8V762.7H688.9zM688.9 762.3H693.8V767.8H688.9zM688.9 767.4H693.8V772.9H688.9zM592.2 772.5H597.1V778.0H592.2zM684.1 772.5H688.9V778.0H684.1zM597.1 777.6H601.9V783.1H597.1zM684.1 777.6H688.9V783.1H684.1zM679.3 782.7H684.1V788.3H679.3zM601.9 787.9H606.7V793.4H601.9zM679.3 787.9H684.1V793.4H679.3zM606.7 793.0H611.6V798.5H606.7zM674.4 793.0H679.3V798.5H674.4zM669.6 798.1H674.4V803.6H669.6zM611.6 803.2H616.4V808.7H611.6zM664.8 803.2H669.6V808.7H664.8zM616.4 808.3H626.1V813.8H616.4zM655.1 808.3H664.8V813.8H655.1zM621.2 813.4H655.1V819.0H621.2z"/>
<path fill="#ffbcbc" d="M543.9 608.8H563.2V614.3H543.9zM582.6 608.8H597.1V614.3H582.6zM529.4 613.9H539.0V619.4H529.4zM606.7 613.9H616.4V619.4H606.7zM519.7 619.0H529.4V624.5H519.7zM621.2 619.0H626.1V624.5H621.2zM514.8 624.1H519.7V629.6H514.8zM630.9 624.1H635.8V629.6H630.9zM505.2 629.2H510.0V634.8H505.2zM635.8 629.2H640.6V634.8H635.8zM500.3 634.4H505.2V639.9H500.3zM645.4 634.4H650.3V639.9H645.4zM495.5 639.5H500.3V645.0H495.5zM650.3 639.5H655.1V645.0H650.3zM490.7 644.6H495.5V650.1H490.7zM655.1 644.6H659.9V650.1H655.1zM659.9 649.7H664.8V655.2H659.9zM485.8 654.8H490.7V660.3H485.8zM664.8 654.8H669.6V660.3H664.8zM481.0 659.9H485.8V665.5H481.0zM481.0 665.1H485.8V670.6H481.0zM669.6 665.1H674.4V670.6H669.6zM674.4 670.2H679.3V675.7H674.4zM476.2 675.3H481.0V680.8H476.2zM476.2 680.4H481.0V685.9H476.2zM679.3 680.4H684.1V685.9H679.3zM476.2 685.5H481.0V691.0H476.2zM476.2 690.6H481.0V696.2H476.2zM684.1 690.6H688.9V696.2H684.1zM476.2 695.8H481.0V701.3H476.2zM684.1 695.8H688.9V701.3H684.1zM476.2 700.9H481.0V706.4H476.2zM476.2 706.0H481.0V711.5H476.2zM688.9 706.0H693.8V711.5H688.9zM481.0 711.1H485.8V716.6H481.0zM688.9 711.1H693.8V716.6H688.9zM481.0 716.2H485.8V721.7H481.0zM688.9 716.2H693.8V721.7H688.9zM485.8 721.3H490.7V726.9H485.8zM688.9 721.3H693.8V726.9H688.9zM490.7 726.5H495.5V732.0H490.7zM688.9 726.5H693.8V732.0H688.9zM495.5 731.6H505.2V737.1H495.5zM688.9 731.6H693.8V737.1H688.9zM524.5 736.7H543.9V742.2H524.5zM688.9 736.7H693.8V742.2H688.9zM688.9 741.8H693.8V747.3H688.9zM568.0 746.9H572.9V752.4H568.0zM688.9 746.9H693.8V752.4H688.9zM688.9 752.0H693.8V757.6H688.9zM684.1 767.4H688.9V772.9H684.1zM679.3 777.6H684.1V783.1H679.3zM601.9 782.7H606.7V788.3H601.9zM606.7 787.9H611.6V793.4H606.7zM674.4 787.9H679.3V793.4H674.4zM669.6 793.0H674.4V798.5H669.6zM611.6 798.1H616.4V803.6H611.6zM664.8 798.1H669.6V803.6H664.8zM616.4 803.2H626.1V808.7H616.4zM655.1 803.2H664.8V808.7H655.1zM626.1 808.3H655.1V813.8H626.1z"/>
<path fill="#ffb5b5" d="M563.2 608.8H582.6V614.3H563.2zM539.0 613.9H548.7V619.4H539.0zM597.1 613.9H606.7V619.4H597.1zM529.4 619.0H534.2V624.5H529.4zM611.6 619.0H621.2V624.5H611.6zM519.7 624.1H524.5V629.6H519.7zM626.1 624.1H630.9V629.6H626.1zM510.0 629.2H514.8V634.8H510.0zM630.9 629.2H635.8V634.8H630.9zM505.2 634.4H510.0V639.9H505.2zM640.6 634.4H645.4V639.9H640.6zM500.3 639.5H505.2V645.0H500.3zM645.4 639.5H650.3V645.0H645.4zM495.5 644.6H500.3V650.1H495.5zM650.3 644.6H655.1V650.1H650.3zM490.7 649.7H495.5V655.2H490.7zM655.1 649.7H659.9V655.2H655.1zM490.7 654.8H495.5V660.3H490.7zM659.9 654.8H664.8V660.3H659.9zM485.8 659.9H490.7V665.5H485.8zM664.8 659.9H669.6V665.5H664.8zM481.0 670.2H485.8V675.7H481.0zM669.6 670.2H674.4V675.7H669.6zM481.0 675.3H485.8V680.8H481.0zM674.4 675.3H679.3V680.8H674.4zM481.0 680.4H485.8V685.9H481.0zM679.3 685.5H684.1V691.0H679.3zM679.3 690.6H684.1V696.2H679.3zM481.0 695.8H485.8V701.3H481.0zM481.0 700.9H485.8V706.4H481.0zM684.1 700.9H688.9V706.4H684.1zM481.0 706.0H485.8V711.5H481.0zM684.1 706.0H688.9V711.5H684.1zM485.8 716.2H490.7V721.7H485.8zM490.7 721.3H495.5V726.9H490.7zM495.5 726.5H500.3V732.0H495.5zM505.2 731.6H519.7V737.1H505.2zM543.9 736.7H548.7V742.2H543.9zM558.4 741.8H563.2V747.3H558.4zM577.7 752.0H582.6V757.6H577.7zM684.1 752.0H688.9V757.6H684.1zM582.6 757.2H587.4V762.7H582.6zM684.1 757.2H688.9V762.7H684.1zM587.4 762.3H592.2V767.8H587.4zM684.1 762.3H688.9V767.8H684.1zM592.2 767.4H597.1V772.9H592.2zM679.3 767.4H684.1V772.9H679.3zM597.1 772.5H601.9V778.0H597.1zM679.3 772.5H684.1V778.0H679.3zM601.9 777.6H606.7V783.1H601.9zM674.4 777.6H679.3V783.1H674.4zM674.4 782.7H679.3V788.3H674.4zM669.6 787.9H674.4V793.4H669.6zM611.6 793.0H616.4V798.5H611.6zM664.8 793.0H669.6V798.5H664.8zM616.4 798.1H621.2V803.6H616.4zM655.1 798.1H664.8V803.6H655.1zM626.1 803.2H655.1V808.7H626.1z"/>
<path fill="#ffaeae" d="M548.7 613.9H563.2V619.4H548.7zM582.6 613.9H597.1V619.4H582.6zM534.2 619.0H539.0V624.5H534.2zM606.7 619.0H611.6V624.5H606.7zM524.5 624.1H529.4V629.6H524.5zM621.2 624.1H626.1V629.6H621.2zM514.8 629.2H519.7V634.8H514.8zM626.1 629.2H630.9V634.8H626.1zM510.0 634.4H514.8V639.9H510.0zM635.8 634.4H640.6V639.9H635.8zM505.2 639.5H510.0V645.0H505.2zM640.6 639.5H645.4V645.0H640.6zM500.3 644.6H505.2V650.1H500.3zM495.5 649.7H500.3V655.2H495.5zM490.7 659.9H495.5V665.5H490.7zM659.9 659.9H664.8V665.5H659.9zM485.8 665.1H490.7V670.6H485.8zM664.8 665.1H669.6V670.6H664.8zM485.8 670.2H490.7V675.7H485.8zM674.4 680.4H679.3V685.9H674.4zM481.0 685.5H485.8V691.0H481.0zM481.0 690.6H485.8V696.2H481.0zM679.3 695.8H684.1V701.3H679.3zM485.8 706.0H490.7V711.5H485.8zM485.8 711.1H490.7V716.6H485.8zM684.1 711.1H688.9V716.6H684.1zM490.7 716.2H495.5V721.7H490.7zM684.1 716.2H688.9V721.7H684.1zM495.5 721.3H500.3V726.9H495.5zM684.1 721.3H688.9V726.9H684.1zM500.3 726.5H510.0V732.0H500.3zM684.1 726.5H688.9V732.0H684.1zM519.7 731.6H534.2V737.1H519.7zM684.1 731.6H688.9V737.1H684.1zM548.7 736.7H553.5V742.2H548.7zM684.1 736.7H688.9V742.2H684.1zM563.2 741.8H568.0V747.3H563.2zM684.1 741.8H688.9V747.3H684.1zM572.9 746.9H577.7V752.4H572.9zM684.1 746.9H688.9V752.4H684.1zM679.3 762.3H684.1V767.8H679.3zM674.4 772.5H679.3V778.0H674.4zM606.7 782.7H611.6V788.3H606.7zM669.6 782.7H674.4V788.3H669.6zM611.6 787.9H616.4V793.4H611.6zM664.8 787.9H669.6V793.4H664.8zM616.4 793.0H621.2V798.5H616.4zM655.1 793.0H664.8V798.5H655.1zM621.2 798.1H630.9V803.6H621.2zM645.4 798.1H655.1V803.6H645.4z"/>
<path fill="#ffa8a8" d="M563.2 613.9H582.6V619.4H563.2zM539.0 619.0H548.7V624.5H539.0zM597.1 619.0H606.7V624.5H597.1zM529.4 624.1H534.2V629.6H529.4zM611.6 624.1H621.2V629.6H611.6zM519.7 629.2H524.5V634.8H519.7zM514.8 634.4H519.7V639.9H514.8zM630.9 634.4H635.8V639.9H630.9zM645.4 644.6H650.3V650.1H645.4zM500.3 649.7H505.2V655.2H500.3zM650.3 649.7H655.1V655.2H650.3zM495.5 654.8H500.3V660.3H495.5zM655.1 654.8H659.9V660.3H655.1zM490.7 665.1H495.5V670.6H490.7zM664.8 670.2H669.6V675.7H664.8zM485.8 675.3H490.7V680.8H485.8zM669.6 675.3H674.4V680.8H669.6zM485.8 680.4H490.7V685.9H485.8zM485.8 685.5H490.7V691.0H485.8zM674.4 685.5H679.3V691.0H674.4zM485.8 690.6H490.7V696.2H485.8zM674.4 690.6H679.3V696.2H674.4zM485.8 695.8H490.7V701.3H485.8zM485.8 700.9H490.7V706.4H485.8zM679.3 700.9H684.1V706.4H679.3zM490.7 706.0H495.5V711.5H490.7zM679.3 706.0H684.1V711.5H679.3zM490.7 711.1H495.5V716.6H490.7zM495.5 716.2H500.3V721.7H495.5zM500.3 721.3H505.2V726.9H500.3zM510.0 726.5H519.7V732.0H510.0zM534.2 731.6H543.9V737.1H534.2zM553.5 736.7H558.4V742.2H553.5zM679.3 752.0H684.1V757.6H679.3zM587.4 757.2H592.2V762.7H587.4zM679.3 757.2H684.1V762.7H679.3zM592.2 762.3H597.1V767.8H592.2zM597.1 767.4H601.9V772.9H597.1zM674.4 767.4H679.3V772.9H674.4zM601.9 772.5H606.7V778.0H601.9zM606.7 777.6H611.6V783.1H606.7zM669.6 777.6H674.4V783.1H669.6zM611.6 782.7H616.4V788.3H611.6zM664.8 782.7H669.6V788.3H664.8zM616.4 787.9H621.2V793.4H616.4zM659.9 787.9H664.8V793.4H659.9zM621.2 793.0H630.9V798.5H621.2zM650.3 793.0H655.1V798.5H650.3zM630.9 798.1H645.4V803.6H630.9z"/>
<path fill="#ffa1a1" d="M548.7 619.0H558.4V624.5H548.7zM587.4 619.0H597.1V624.5H587.4zM534.2 624.1H539.0V629.6H534.2zM606.7 624.1H611.6V629.6H606.7zM524.5 629.2H529.4V634.8H524.5zM621.2 629.2H626.1V634.8H621.2zM519.7 634.4H524.5V639.9H519.7zM510.0 639.5H514.8V645.0H510.0zM635.8 639.5H640.6V645.0H635.8zM505.2 644.6H510.0V650.1H505.2zM640.6 644.6H645.4V650.1H640.6zM645.4 649.7H650.3V655.2H645.4zM500.3 654.8H505.2V660.3H500.3zM650.3 654.8H655.1V660.3H650.3zM495.5 659.9H500.3V665.5H495.5zM655.1 659.9H659.9V665.5H655.1zM659.9 665.1H664.8V670.6H659.9zM490.7 670.2H495.5V675.7H490.7zM490.7 675.3H495.5V680.8H490.7zM664.8 675.3H669.6V680.8H664.8zM490.7 680.4H495.5V685.9H490.7zM669.6 680.4H674.4V685.9H669.6zM490.7 695.8H495.5V701.3H490.7zM674.4 695.8H679.3V701.3H674.4zM490.7 700.9H495.5V706.4H490.7zM495.5 711.1H500.3V716.6H495.5zM679.3 711.1H684.1V716.6H679.3zM500.3 716.2H505.2V721.7H500.3zM679.3 716.2H684.1V721.7H679.3zM505.2 721.3H514.8V726.9H505.2zM679.3 721.3H684.1V726.9H679.3zM519.7 726.5H529.4V732.0H519.7zM679.3 726.5H684.1V732.0H679.3zM543.9 731.6H548.7V737.1H543.9zM679.3 731.6H684.1V737.1H679.3zM558.4 736.7H563.2V742.2H558.4zM679.3 736.7H684.1V742.2H679.3zM568.0 741.8H572.9V747.3H568.0zM679.3 741.8H684.1V747.3H679.3zM577.7 746.9H582.6V752.4H577.7zM679.3 746.9H684.1V752.4H679.3zM582.6 752.0H587.4V757.6H582.6zM674.4 757.2H679.3V762.7H674.4zM674.4 762.3H679.3V767.8H674.4zM669.6 767.4H674.4V772.9H669.6zM669.6 772.5H674.4V778.0H669.6zM664.8 777.6H669.6V783.1H664.8zM659.9 782.7H664.8V788.3H659.9zM621.2 787.9H626.1V793.4H621.2zM650.3 787.9H659.9V793.4H650.3zM630.9 793.0H650.3V798.5H630.9z"/>
<path fill="#ff9a9a" d="M558.4 619.0H587.4V624.5H558.4zM539.0 624.1H548.7V629.6H539.0zM601.9 624.1H606.7V629.6H601.9zM529.4 629.2H534.2V634.8H529.4zM616.4 629.2H621.2V634.8H616.4zM626.1 634.4H630.9V639.9H626.1zM514.8 639.5H519.7V645.0H514.8zM630.9 639.5H635.8V645.0H630.9zM510.0 644.6H514.8V650.1H510.0zM505.2 649.7H510.0V655.2H505.2zM500.3 659.9H505.2V665.5H500.3zM495.5 665.1H500.3V670.6H495.5zM495.5 670.2H500.3V675.7H495.5zM659.9 670.2H664.8V675.7H659.9zM490.7 685.5H495.5V691.0H490.7zM669.6 685.5H674.4V691.0H669.6zM490.7 690.6H495.5V696.2H490.7zM674.4 700.9H679.3V706.4H674.4zM495.5 706.0H500.3V711.5H495.5zM674.4 706.0H679.3V711.5H674.4zM500.3 711.1H505.2V716.6H500.3zM505.2 716.2H510.0V721.7H505.2zM514.8 721.3H519.7V726.9H514.8zM529.4 726.5H534.2V732.0H529.4zM548.7 731.6H553.5V737.1H548.7zM674.4 746.9H679.3V752.4H674.4zM674.4 752.0H679.3V757.6H674.4zM592.2 757.2H597.1V762.7H592.2zM597.1 762.3H601.9V767.8H597.1zM669.6 762.3H674.4V767.8H669.6zM601.9 767.4H606.7V772.9H601.9zM606.7 772.5H611.6V778.0H606.7zM664.8 772.5H669.6V778.0H664.8zM611.6 777.6H616.4V783.1H611.6zM659.9 777.6H664.8V783.1H659.9zM616.4 782.7H621.2V788.3H616.4zM655.1 782.7H659.9V788.3H655.1zM626.1 787.9H635.8V793.4H626.1zM640.6 787.9H650.3V793.4H640.6z"/>
<path fill="#ff9494" d="M548.7 624.1H553.5V629.6H548.7zM592.2 624.1H601.9V629.6H592.2zM534.2 629.2H539.0V634.8H534.2zM611.6 629.2H616.4V634.8H611.6zM524.5 634.4H529.4V639.9H524.5zM621.2 634.4H626.1V639.9H621.2zM519.7 639.5H524.5V645.0H519.7zM514.8 644.6H519.7V650.1H514.8zM635.8 644.6H640.6V650.1H635.8zM510.0 649.7H514.8V655.2H510.0zM640.6 649.7H645.4V655.2H640.6zM505.2 654.8H510.0V660.3H505.2zM645.4 654.8H650.3V660.3H645.4zM650.3 659.9H655.1V665.5H650.3zM500.3 665.1H505.2V670.6H500.3zM655.1 665.1H659.9V670.6H655.1zM495.5 675.3H500.3V680.8H495.5zM495.5 680.4H500.3V685.9H495.5zM664.8 680.4H669.6V685.9H664.8zM495.5 685.5H500.3V691.0H495.5zM495.5 690.6H500.3V696.2H495.5zM669.6 690.6H674.4V696.2H669.6zM495.5 695.8H500.3V701.3H495.5zM669.6 695.8H674.4V701.3H669.6zM495.5 700.9H500.3V706.4H495.5zM500.3 706.0H505.2V711.5H500.3zM505.2 711.1H510.0V716.6H505.2zM674.4 711.1H679.3V716.6H674.4zM510.0 716.2H514.8V721.7H510.0zM674.4 716.2H679.3V721.7H674.4zM519.7 721.3H524.5V726.9H519.7zM674.4 721.3H679.3V726.9H674.4zM534.2 726.5H539.0V732.0H534.2zM674.4 726.5H679.3V732.0H674.4zM553.5 731.6H558.4V737.1H553.5zM674.4 731.6H679.3V737.1H674.4zM563.2 736.7H568.0V742.2H563.2zM674.4 736.7H679.3V742.2H674.4zM572.9 741.8H577.7V747.3H572.9zM674.4 741.8H679.3V747.3H674.4zM587.4 752.0H592.2V757.6H587.4zM669.6 757.2H674.4V762.7H669.6zM664.8 767.4H669.6V772.9H664.8zM659.9 772.5H664.8V778.0H659.9zM616.4 777.6H621.2V783.1H616.4zM655.1 777.6H659.9V783.1H655.1zM621.2 782.7H630.9V788.3H621.2zM645.4 782.7H655.1V788.3H645.4zM635.8 787.9H640.6V793.4H635.8z"/>
<path fill="#ff8d8d" d="M553.5 624.1H592.2V629.6H553.5zM539.0 629.2H543.9V634.8H539.0zM606.7 629.2H611.6V634.8H606.7zM529.4 634.4H534.2V639.9H529.4zM616.4 634.4H621.2V639.9H616.4zM626.1 639.5H630.9V645.0H626.1zM630.9 644.6H635.8V650.1H630.9zM505.2 659.9H510.0V665.5H505.2zM500.3 670.2H505.2V675.7H500.3zM655.1 670.2H659.9V675.7H655.1zM659.9 675.3H664.8V680.8H659.9zM664.8 685.5H669.6V691.0H664.8zM500.3 700.9H505.2V706.4H500.3zM669.6 700.9H674.4V706.4H669.6zM514.8 716.2H519.7V721.7H514.8zM524.5 721.3H529.4V726.9H524.5zM539.0 726.5H543.9V732.0H539.0zM568.0 736.7H572.9V742.2H568.0zM582.6 746.9H587.4V752.4H582.6zM669.6 752.0H674.4V757.6H669.6zM601.9 762.3H606.7V767.8H601.9zM664.8 762.3H669.6V767.8H664.8zM606.7 767.4H611.6V772.9H606.7zM659.9 767.4H664.8V772.9H659.9zM611.6 772.5H616.4V778.0H611.6zM621.2 777.6H626.1V783.1H621.2zM650.3 777.6H655.1V783.1H650.3zM630.9 782.7H645.4V788.3H630.9z"/>
<path fill="#ff8686" d="M543.9 629.2H553.5V634.8H543.9zM597.1 629.2H606.7V634.8H597.1zM534.2 634.4H539.0V639.9H534.2zM611.6 634.4H616.4V639.9H611.6zM524.5 639.5H529.4V645.0H524.5zM621.2 639.5H626.1V645.0H621.2zM519.7 644.6H524.5V650.1H519.7zM514.8 649.7H519.7V655.2H514.8zM635.8 649.7H640.6V655.2H635.8zM510.0 654.8H514.8V660.3H510.0zM640.6 654.8H645.4V660.3H640.6zM645.4 659.9H650.3V665.5H645.4zM505.2 665.1H510.0V670.6H505.2zM650.3 665.1H655.1V670.6H650.3zM500.3 675.3H505.2V680.8H500.3zM500.3 680.4H505.2V685.9H500.3zM659.9 680.4H664.8V685.9H659.9zM500.3 685.5H505.2V691.0H500.3zM500.3 690.6H505.2V696.2H500.3zM664.8 690.6H669.6V696.2H664.8zM500.3 695.8H505.2V701.3H500.3zM505.2 706.0H510.0V711.5H505.2zM669.6 706.0H674.4V711.5H669.6zM510.0 711.1H514.8V716.6H510.0zM669.6 711.1H674.4V716.6H669.6zM519.7 716.2H524.5V721.7H519.7zM529.4 721.3H534.2V726.9H529.4zM543.9 726.5H548.7V732.0H543.9zM558.4 731.6H563.2V737.1H558.4zM669.6 736.7H674.4V742.2H669.6zM577.7 741.8H582.6V747.3H577.7zM669.6 741.8H674.4V747.3H669.6zM669.6 746.9H674.4V752.4H669.6zM592.2 752.0H597.1V757.6H592.2zM597.1 757.2H601.9V762.7H597.1zM664.8 757.2H669.6V762.7H664.8zM616.4 772.5H621.2V778.0H616.4zM655.1 772.5H659.9V778.0H655.1zM626.1 777.6H630.9V783.1H626.1zM640.6 777.6H650.3V783.1H640.6z"/>
<path fill="#ff8080" d="M553.5 629.2H563.2V634.8H553.5zM587.4 629.2H597.1V634.8H587.4zM539.0 634.4H543.9V639.9H539.0zM606.7 634.4H611.6V639.9H606.7zM529.4 639.5H534.2V645.0H529.4zM616.4 639.5H621.2V645.0H616.4zM524.5 644.6H529.4V650.1H524.5zM626.1 644.6H630.9V650.1H626.1zM514.8 654.8H519.7V660.3H514.8zM510.0 659.9H514.8V665.5H510.0zM505.2 670.2H510.0V675.7H505.2zM655.1 675.3H659.9V680.8H655.1zM659.9 685.5H664.8V691.0H659.9zM505.2 695.8H510.0V701.3H505.2zM664.8 695.8H669.6V701.3H664.8zM505.2 700.9H510.0V706.4H505.2zM510.0 706.0H514.8V711.5H510.0zM514.8 711.1H519.7V716.6H514.8zM524.5 716.2H529.4V721.7H524.5zM669.6 716.2H674.4V721.7H669.6zM534.2 721.3H539.0V726.9H534.2zM669.6 721.3H674.4V726.9H669.6zM548.7 726.5H553.5V732.0H548.7zM669.6 726.5H674.4V732.0H669.6zM563.2 731.6H568.0V737.1H563.2zM669.6 731.6H674.4V737.1H669.6zM572.9 736.7H577.7V742.2H572.9zM587.4 746.9H592.2V752.4H587.4zM664.8 752.0H669.6V757.6H664.8zM606.7 762.3H611.6V767.8H606.7zM659.9 762.3H664.8V767.8H659.9zM611.6 767.4H616.4V772.9H611.6zM655.1 767.4H659.9V772.9H655.1zM621.2 772.5H626.1V778.0H621.2zM650.3 772.5H655.1V778.0H650.3zM630.9 777.6H640.6V783.1H630.9z"/>
<path fill="#ff7979" d="M563.2 629.2H587.4V634.8H563.2zM543.9 634.4H548.7V639.9H543.9zM601.9 634.4H606.7V639.9H601.9zM534.2 639.5H539.0V645.0H534.2zM519.7 649.7H524.5V655.2H519.7zM630.9 649.7H635.8V655.2H630.9zM635.8 654.8H640.6V660.3H635.8zM640.6 659.9H645.4V665.5H640.6zM510.0 665.1H514.8V670.6H510.0zM645.4 665.1H650.3V670.6H645.4zM650.3 670.2H655.1V675.7H650.3zM505.2 675.3H510.0V680.8H505.2zM505.2 680.4H510.0V685.9H505.2zM655.1 680.4H659.9V685.9H655.1zM505.2 685.5H510.0V691.0H505.2zM505.2 690.6H510.0V696.2H505.2zM659.9 690.6H664.8V696.2H659.9zM510.0 700.9H514.8V706.4H510.0zM664.8 700.9H669.6V706.4H664.8zM514.8 706.0H519.7V711.5H514.8zM664.8 706.0H669.6V711.5H664.8zM519.7 711.1H524.5V716.6H519.7zM529.4 716.2H534.2V721.7H529.4zM539.0 721.3H543.9V726.9H539.0zM553.5 726.5H558.4V732.0H553.5zM582.6 741.8H587.4V747.3H582.6zM664.8 741.8H669.6V747.3H664.8zM664.8 746.9H669.6V752.4H664.8zM597.1 752.0H601.9V757.6H597.1zM601.9 757.2H606.7V762.7H601.9zM659.9 757.2H664.8V762.7H659.9zM655.1 762.3H659.9V767.8H655.1zM616.4 767.4H621.2V772.9H616.4zM650.3 767.4H655.1V772.9H650.3zM626.1 772.5H650.3V778.0H626.1z"/>
<path fill="#ff7272" d="M548.7 634.4H553.5V639.9H548.7zM597.1 634.4H601.9V639.9H597.1zM539.0 639.5H543.9V645.0H539.0zM611.6 639.5H616.4V645.0H611.6zM529.4 644.6H534.2V650.1H529.4zM621.2 644.6H626.1V650.1H621.2zM524.5 649.7H529.4V655.2H524.5zM626.1 649.7H630.9V655.2H626.1zM519.7 654.8H524.5V660.3H519.7zM514.8 659.9H519.7V665.5H514.8zM510.0 670.2H514.8V675.7H510.0zM650.3 675.3H655.1V680.8H650.3zM510.0 695.8H514.8V701.3H510.0zM659.9 695.8H664.8V701.3H659.9zM524.5 711.1H529.4V716.6H524.5zM664.8 711.1H669.6V716.6H664.8zM664.8 716.2H669.6V721.7H664.8zM543.9 721.3H548.7V726.9H543.9zM664.8 721.3H669.6V726.9H664.8zM664.8 726.5H669.6V732.0H664.8zM568.0 731.6H572.9V737.1H568.0zM664.8 731.6H669.6V737.1H664.8zM577.7 736.7H582.6V742.2H577.7zM664.8 736.7H669.6V742.2H664.8zM592.2 746.9H597.1V752.4H592.2zM659.9 752.0H664.8V757.6H659.9zM655.1 757.2H659.9V762.7H655.1zM611.6 762.3H616.4V767.8H611.6zM650.3 762.3H655.1V767.8H650.3zM621.2 767.4H626.1V772.9H621.2zM645.4 767.4H650.3V772.9H645.4z"/>
<path fill="#ff6b6b" d="M553.5 634.4H563.2V639.9H553.5zM587.4 634.4H597.1V639.9H587.4zM543.9 639.5H548.7V645.0H543.9zM606.7 639.5H611.6V645.0H606.7zM534.2 644.6H539.0V650.1H534.2zM616.4 644.6H621.2V650.1H616.4zM630.9 654.8H635.8V660.3H630.9zM635.8 659.9H640.6V665.5H635.8zM514.8 665.1H519.7V670.6H514.8zM640.6 665.1H645.4V670.6H640.6zM645.4 670.2H650.3V675.7H645.4zM510.0 675.3H514.8V680.8H510.0zM510.0 680.4H514.8V685.9H510.0zM510.0 685.5H514.8V691.0H510.0zM655.1 685.5H659.9V691.0H655.1zM510.0 690.6H514.8V696.2H510.0zM514.8 700.9H519.7V706.4H514.8zM659.9 700.9H664.8V706.4H659.9zM519.7 706.0H524.5V711.5H519.7zM534.2 716.2H539.0V721.7H534.2zM548.7 721.3H553.5V726.9H548.7zM558.4 726.5H563.2V732.0H558.4zM587.4 741.8H592.2V747.3H587.4zM659.9 741.8H664.8V747.3H659.9zM659.9 746.9H664.8V752.4H659.9zM606.7 757.2H611.6V762.7H606.7zM616.4 762.3H621.2V767.8H616.4zM626.1 767.4H645.4V772.9H626.1z"/>
<path fill="#ff6565" d="M563.2 634.4H587.4V639.9H563.2zM548.7 639.5H553.5V645.0H548.7zM601.9 639.5H606.7V645.0H601.9zM529.4 649.7H534.2V655.2H529.4zM621.2 649.7H626.1V655.2H621.2zM524.5 654.8H529.4V660.3H524.5zM519.7 659.9H524.5V665.5H519.7zM514.8 670.2H519.7V675.7H514.8zM650.3 680.4H655.1V685.9H650.3zM514.8 690.6H519.7V696.2H514.8zM655.1 690.6H659.9V696.2H655.1zM514.8 695.8H519.7V701.3H514.8zM519.7 700.9H524.5V706.4H519.7zM524.5 706.0H529.4V711.5H524.5zM659.9 706.0H664.8V711.5H659.9zM529.4 711.1H534.2V716.6H529.4zM659.9 711.1H664.8V716.6H659.9zM539.0 716.2H543.9V721.7H539.0zM563.2 726.5H568.0V732.0H563.2zM572.9 731.6H577.7V737.1H572.9zM659.9 731.6H664.8V737.1H659.9zM659.9 736.7H664.8V742.2H659.9zM597.1 746.9H601.9V752.4H597.1zM601.9 752.0H606.7V757.6H601.9zM655.1 752.0H659.9V757.6H655.1zM611.6 757.2H616.4V762.7H611.6zM650.3 757.2H655.1V762.7H650.3zM621.2 762.3H626.1V767.8H621.2zM640.6 762.3H650.3V767.8H640.6z"/>
<path fill="#ff5e5e" d="M553.5 639.5H558.4V645.0H553.5zM597.1 639.5H601.9V645.0H597.1zM539.0 644.6H543.9V650.1H539.0zM611.6 644.6H616.4V650.1H611.6zM534.2 649.7H539.0V655.2H534.2zM626.1 654.8H630.9V660.3H626.1zM630.9 659.9H635.8V665.5H630.9zM519.7 665.1H524.5V670.6H519.7zM635.8 665.1H640.6V670.6H635.8zM640.6 670.2H645.4V675.7H640.6zM514.8 675.3H519.7V680.8H514.8zM645.4 675.3H650.3V680.8H645.4zM514.8 680.4H519.7V685.9H514.8zM514.8 685.5H519.7V691.0H514.8zM650.3 685.5H655.1V691.0H650.3zM655.1 695.8H659.9V701.3H655.1zM534.2 711.1H539.0V716.6H534.2zM543.9 716.2H548.7V721.7H543.9zM659.9 716.2H664.8V721.7H659.9zM553.5 721.3H558.4V726.9H553.5zM659.9 721.3H664.8V726.9H659.9zM659.9 726.5H664.8V732.0H659.9zM582.6 736.7H587.4V742.2H582.6zM655.1 741.8H659.9V747.3H655.1zM655.1 746.9H659.9V752.4H655.1zM606.7 752.0H611.6V757.6H606.7zM650.3 752.0H655.1V757.6H650.3zM645.4 757.2H650.3V762.7H645.4zM626.1 762.3H640.6V767.8H626.1z"/>
<path fill="#ff5757" d="M558.4 639.5H568.0V645.0H558.4zM587.4 639.5H597.1V645.0H587.4zM543.9 644.6H548.7V650.1H543.9zM606.7 644.6H611.6V650.1H606.7zM616.4 649.7H621.2V655.2H616.4zM529.4 654.8H534.2V660.3H529.4zM524.5 659.9H529.4V665.5H524.5zM519.7 670.2H524.5V675.7H519.7zM645.4 680.4H650.3V685.9H645.4zM519.7 690.6H524.5V696.2H519.7zM519.7 695.8H524.5V701.3H519.7zM524.5 700.9H529.4V706.4H524.5zM655.1 700.9H659.9V706.4H655.1zM529.4 706.0H534.2V711.5H529.4zM558.4 721.3H563.2V726.9H558.4zM568.0 726.5H572.9V732.0H568.0zM577.7 731.6H582.6V737.1H577.7zM655.1 736.7H659.9V742.2H655.1zM592.2 741.8H597.1V747.3H592.2zM601.9 746.9H606.7V752.4H601.9zM650.3 746.9H655.1V752.4H650.3zM616.4 757.2H621.2V762.7H616.4zM640.6 757.2H645.4V762.7H640.6z"/>
<path fill="#ff5151" d="M568.0 639.5H587.4V645.0H568.0zM548.7 644.6H553.5V650.1H548.7zM601.9 644.6H606.7V650.1H601.9zM539.0 649.7H543.9V655.2H539.0zM611.6 649.7H616.4V655.2H611.6zM534.2 654.8H539.0V660.3H534.2zM621.2 654.8H626.1V660.3H621.2zM529.4 659.9H534.2V665.5H529.4zM626.1 659.9H630.9V665.5H626.1zM524.5 665.1H529.4V670.6H524.5zM519.7 675.3H524.5V680.8H519.7zM640.6 675.3H645.4V680.8H640.6zM519.7 680.4H524.5V685.9H519.7zM519.7 685.5H524.5V691.0H519.7zM650.3 690.6H655.1V696.2H650.3zM524.5 695.8H529.4V701.3H524.5zM655.1 706.0H659.9V711.5H655.1zM539.0 711.1H543.9V716.6H539.0zM655.1 711.1H659.9V716.6H655.1zM548.7 716.2H553.5V721.7H548.7zM655.1 716.2H659.9V721.7H655.1zM655.1 721.3H659.9V726.9H655.1zM655.1 726.5H659.9V732.0H655.1zM655.1 731.6H659.9V737.1H655.1zM587.4 736.7H592.2V742.2H587.4zM650.3 741.8H655.1V747.3H650.3zM611.6 752.0H616.4V757.6H611.6zM645.4 752.0H650.3V757.6H645.4zM621.2 757.2H640.6V762.7H621.2z"/>
<path fill="#ff4a4a" d="M553.5 644.6H558.4V650.1H553.5zM597.1 644.6H601.9V650.1H597.1zM543.9 649.7H548.7V655.2H543.9zM630.9 665.1H635.8V670.6H630.9zM524.5 670.2H529.4V675.7H524.5zM635.8 670.2H640.6V675.7H635.8zM645.4 685.5H650.3V691.0H645.4zM524.5 690.6H529.4V696.2H524.5zM650.3 695.8H655.1V701.3H650.3zM529.4 700.9H534.2V706.4H529.4zM534.2 706.0H539.0V711.5H534.2zM543.9 711.1H548.7V716.6H543.9zM553.5 716.2H558.4V721.7H553.5zM563.2 721.3H568.0V726.9H563.2zM572.9 726.5H577.7V732.0H572.9zM582.6 731.6H587.4V737.1H582.6zM650.3 736.7H655.1V742.2H650.3zM597.1 741.8H601.9V747.3H597.1zM606.7 746.9H611.6V752.4H606.7zM645.4 746.9H650.3V752.4H645.4zM616.4 752.0H621.2V757.6H616.4zM640.6 752.0H645.4V757.6H640.6z"/>
<path fill="#ff4343" d="M558.4 644.6H568.0V650.1H558.4zM587.4 644.6H597.1V650.1H587.4zM548.7 649.7H553.5V655.2H548.7zM606.7 649.7H611.6V655.2H606.7zM539.0 654.8H543.9V660.3H539.0zM616.4 654.8H621.2V660.3H616.4zM534.2 659.9H539.0V665.5H534.2zM621.2 659.9H626.1V665.5H621.2zM529.4 665.1H534.2V670.6H529.4zM524.5 675.3H529.4V680.8H524.5zM524.5 680.4H529.4V685.9H524.5zM640.6 680.4H645.4V685.9H640.6zM524.5 685.5H529.4V691.0H524.5zM645.4 690.6H650.3V696.2H645.4zM529.4 695.8H534.2V701.3H529.4zM650.3 700.9H655.1V706.4H650.3zM539.0 706.0H543.9V711.5H539.0zM650.3 706.0H655.1V711.5H650.3zM650.3 731.6H655.1V737.1H650.3zM592.2 736.7H597.1V742.2H592.2zM601.9 741.8H606.7V747.3H601.9zM645.4 741.8H650.3V747.3H645.4zM640.6 746.9H645.4V752.4H640.6zM621.2 752.0H640.6V757.6H621.2z"/>
<path fill="#ff3c3c" d="M568.0 644.6H587.4V650.1H568.0zM601.9 649.7H606.7V655.2H601.9zM543.9 654.8H548.7V660.3H543.9zM611.6 654.8H616.4V660.3H611.6zM626.1 665.1H630.9V670.6H626.1zM529.4 670.2H534.2V675.7H529.4zM630.9 670.2H635.8V675.7H630.9zM635.8 675.3H640.6V680.8H635.8zM529.4 690.6H534.2V696.2H529.4zM645.4 695.8H650.3V701.3H645.4zM534.2 700.9H539.0V706.4H534.2zM548.7 711.1H553.5V716.6H548.7zM650.3 711.1H655.1V716.6H650.3zM558.4 716.2H563.2V721.7H558.4zM650.3 716.2H655.1V721.7H650.3zM568.0 721.3H572.9V726.9H568.0zM650.3 721.3H655.1V726.9H650.3zM577.7 726.5H582.6V732.0H577.7zM650.3 726.5H655.1V732.0H650.3zM587.4 731.6H592.2V737.1H587.4zM645.4 736.7H650.3V742.2H645.4zM611.6 746.9H616.4V752.4H611.6zM635.8 746.9H640.6V752.4H635.8z"/>
<path fill="#ff3636" d="M553.5 649.7H563.2V655.2H553.5zM597.1 649.7H601.9V655.2H597.1zM539.0 659.9H543.9V665.5H539.0zM616.4 659.9H621.2V665.5H616.4zM534.2 665.1H539.0V670.6H534.2zM529.4 675.3H534.2V680.8H529.4zM529.4 680.4H534.2V685.9H529.4zM529.4 685.5H534.2V691.0H529.4zM640.6 685.5H645.4V691.0H640.6zM534.2 695.8H539.0V701.3H534.2zM539.0 700.9H543.9V706.4H539.0zM645.4 700.9H650.3V706.4H645.4zM543.9 706.0H548.7V711.5H543.9zM553.5 711.1H558.4V716.6H553.5zM645.4 731.6H650.3V737.1H645.4zM597.1 736.7H601.9V742.2H597.1zM606.7 741.8H611.6V747.3H606.7zM640.6 741.8H645.4V747.3H640.6zM616.4 746.9H635.8V752.4H616.4z"/>
<path fill="#ff2f2f" d="M563.2 649.7H568.0V655.2H563.2zM592.2 649.7H597.1V655.2H592.2zM548.7 654.8H553.5V660.3H548.7zM606.7 654.8H611.6V660.3H606.7zM543.9 659.9H548.7V665.5H543.9zM539.0 665.1H543.9V670.6H539.0zM621.2 665.1H626.1V670.6H621.2zM534.2 670.2H539.0V675.7H534.2zM626.1 670.2H630.9V675.7H626.1zM630.9 675.3H635.8V680.8H630.9zM635.8 680.4H640.6V685.9H635.8zM534.2 690.6H539.0V696.2H534.2zM640.6 690.6H645.4V696.2H640.6zM548.7 706.0H553.5V711.5H548.7zM645.4 706.0H650.3V711.5H645.4zM645.4 711.1H650.3V716.6H645.4zM563.2 716.2H568.0V721.7H563.2zM572.9 721.3H577.7V726.9H572.9zM645.4 721.3H650.3V726.9H645.4zM582.6 726.5H587.4V732.0H582.6zM645.4 726.5H650.3V732.0H645.4zM592.2 731.6H597.1V737.1H592.2zM601.9 736.7H606.7V742.2H601.9zM640.6 736.7H645.4V742.2H640.6zM611.6 741.8H616.4V747.3H611.6zM635.8 741.8H640.6V747.3H635.8z"/>
<path fill="#ff2828" d="M568.0 649.7H592.2V655.2H568.0zM553.5 654.8H558.4V660.3H553.5zM601.9 654.8H606.7V660.3H601.9zM611.6 659.9H616.4V665.5H611.6zM534.2 675.3H539.0V680.8H534.2zM534.2 680.4H539.0V685.9H534.2zM534.2 685.5H539.0V691.0H534.2zM635.8 685.5H640.6V691.0H635.8zM539.0 695.8H543.9V701.3H539.0zM640.6 695.8H645.4V701.3H640.6zM543.9 700.9H548.7V706.4H543.9zM558.4 711.1H563.2V716.6H558.4zM568.0 716.2H572.9V721.7H568.0zM645.4 716.2H650.3V721.7H645.4zM640.6 731.6H645.4V737.1H640.6zM616.4 741.8H635.8V747.3H616.4z"/>
<path fill="#ff2222" d="M558.4 654.8H563.2V660.3H558.4zM597.1 654.8H601.9V660.3H597.1zM548.7 659.9H553.5V665.5H548.7zM543.9 665.1H548.7V670.6H543.9zM616.4 665.1H621.2V670.6H616.4zM539.0 670.2H543.9V675.7H539.0zM621.2 670.2H626.1V675.7H621.2zM626.1 675.3H630.9V680.8H626.1zM630.9 680.4H635.8V685.9H630.9zM539.0 690.6H543.9V696.2H539.0zM640.6 700.9H645.4V706.4H640.6zM553.5 706.0H558.4V711.5H553.5zM577.7 721.3H582.6V726.9H577.7zM587.4 726.5H592.2V732.0H587.4zM640.6 726.5H645.4V732.0H640.6zM597.1 731.6H601.9V737.1H597.1zM606.7 736.7H611.6V742.2H606.7zM635.8 736.7H640.6V742.2H635.8z"/>
<path fill="#ff1b1b" d="M563.2 654.8H568.0V660.3H563.2zM592.2 654.8H597.1V660.3H592.2zM553.5 659.9H558.4V665.5H553.5zM606.7 659.9H611.6V665.5H606.7zM539.0 675.3H543.9V680.8H539.0zM539.0 680.4H543.9V685.9H539.0zM539.0 685.5H543.9V691.0H539.0zM635.8 690.6H640.6V696.2H635.8zM543.9 695.8H548.7V701.3H543.9zM548.7 700.9H553.5V706.4H548.7zM640.6 706.0H645.4V711.5H640.6zM563.2 711.1H568.0V716.6H563.2zM640.6 711.1H645.4V716.6H640.6zM572.9 716.2H577.7V721.7H572.9zM640.6 716.2H645.4V721.7H640.6zM582.6 721.3H587.4V726.9H582.6zM640.6 721.3H645.4V726.9H640.6zM601.9 731.6H606.7V737.1H601.9zM635.8 731.6H640.6V737.1H635.8zM611.6 736.7H621.2V742.2H611.6zM626.1 736.7H635.8V742.2H626.1z"/>
<path fill="#ff1414" d="M568.0 654.8H592.2V660.3H568.0zM558.4 659.9H563.2V665.5H558.4zM601.9 659.9H606.7V665.5H601.9zM548.7 665.1H553.5V670.6H548.7zM611.6 665.1H616.4V670.6H611.6zM543.9 670.2H548.7V675.7H543.9zM616.4 670.2H621.2V675.7H616.4zM543.9 675.3H548.7V680.8H543.9zM626.1 680.4H630.9V685.9H626.1zM630.9 685.5H635.8V691.0H630.9zM543.9 690.6H548.7V696.2H543.9zM635.8 695.8H640.6V701.3H635.8zM558.4 706.0H563.2V711.5H558.4zM592.2 726.5H597.1V732.0H592.2zM635.8 726.5H640.6V732.0H635.8zM630.9 731.6H635.8V737.1H630.9zM621.2 736.7H626.1V742.2H621.2z"/>
<path fill="#ff0d0d" d="M563.2 659.9H568.0V665.5H563.2zM597.1 659.9H601.9V665.5H597.1zM553.5 665.1H558.4V670.6H553.5zM606.7 665.1H611.6V670.6H606.7zM548.7 670.2H553.5V675.7H548.7zM621.2 675.3H626.1V680.8H621.2zM543.9 680.4H548.7V685.9H543.9zM543.9 685.5H548.7V691.0H543.9zM630.9 690.6H635.8V696.2H630.9zM548.7 695.8H553.5V701.3H548.7zM553.5 700.9H558.4V706.4H553.5zM635.8 700.9H640.6V706.4H635.8zM635.8 706.0H640.6V711.5H635.8zM568.0 711.1H572.9V716.6H568.0zM635.8 711.1H640.6V716.6H635.8zM577.7 716.2H582.6V721.7H577.7zM635.8 716.2H640.6V721.7H635.8zM587.4 721.3H592.2V726.9H587.4zM635.8 721.3H640.6V726.9H635.8zM597.1 726.5H601.9V732.0H597.1zM630.9 726.5H635.8V732.0H630.9zM606.7 731.6H616.4V737.1H606.7zM626.1 731.6H630.9V737.1H626.1z"/>
<path fill="#ff0707" d="M568.0 659.9H572.9V665.5H568.0zM592.2 659.9H597.1V665.5H592.2zM611.6 670.2H616.4V675.7H611.6zM548.7 675.3H553.5V680.8H548.7zM626.1 685.5H630.9V691.0H626.1zM548.7 690.6H553.5V696.2H548.7zM553.5 695.8H558.4V701.3H553.5zM630.9 695.8H635.8V701.3H630.9zM558.4 700.9H563.2V706.4H558.4zM563.2 706.0H568.0V711.5H563.2zM572.9 711.1H577.7V716.6H572.9zM630.9 721.3H635.8V726.9H630.9zM601.9 726.5H606.7V732.0H601.9zM616.4 731.6H626.1V737.1H616.4z"/>
<path fill="#ff0000" d="M572.9 659.9H592.2V665.5H572.9zM558.4 665.1H563.2V670.6H558.4zM601.9 665.1H606.7V670.6H601.9zM553.5 670.2H558.4V675.7H553.5zM616.4 675.3H621.2V680.8H616.4zM548.7 680.4H553.5V685.9H548.7zM621.2 680.4H626.1V685.9H621.2zM548.7 685.5H553.5V691.0H548.7zM630.9 700.9H635.8V706.4H630.9zM568.0 706.0H572.9V711.5H568.0zM582.6 716.2H587.4V721.7H582.6zM630.9 716.2H635.8V721.7H630.9zM592.2 721.3H597.1V726.9H592.2zM606.7 726.5H611.6V732.0H606.7zM621.2 726.5H630.9V732.0H621.2z"/>
<path fill="#fc0000" d="M563.2 665.1H601.9V670.6H563.2zM558.4 670.2H611.6V675.7H558.4zM553.5 675.3H616.4V680.8H553.5zM553.5 680.4H621.2V685.9H553.5zM553.5 685.5H626.1V691.0H553.5zM553.5 690.6H630.9V696.2H553.5zM558.4 695.8H630.9V701.3H558.4zM563.2 700.9H630.9V706.4H563.2zM572.9 706.0H635.8V711.5H572.9zM577.7 711.1H635.8V716.6H577.7zM587.4 716.2H630.9V721.7H587.4zM597.1 721.3H630.9V726.9H597.1zM611.6 726.5H621.2V732.0H611.6z"/>
</g>
<g shape-rendering="crispEdges"><rect x="740.3" y="890.42" width="44.0" height="5.18" fill="#0000ff"/><rect x="740.3" y="885.55" width="44.0" height="5.18" fill="#0000ff"/><rect x="740.3" y="880.67" width="44.0" height="5.18" fill="#0000ff"/><rect x="740.3" y="875.79" width="44.0" height="5.18" fill="#0000ff"/><rect x="740.3" y="870.92" width="44.0" height="5.18" fill="#0000ff"/><rect x="740.3" y="866.04" width="44.0" height="5.18" fill="#0000ff"/><rect x="740.3" y="861.16" width="44.0" height="5.18" fill="#0000ff"/><rect x="740.3" y="856.29" width="44.0" height="5.18" fill="#0000ff"/><rect x="740.3" y="851.41" width="44.0" height="5.18" fill="#0000ff"/><rect x="740.3" y="846.53" width="44.0" height="5.18" fill="#0000ff"/><rect x="740.3" y="841.66" width="44.0" height="5.18" fill="#1515ff"/><rect x="740.3" y="836.78" width="44.0" height="5.18" fill="#2a2aff"/><rect x="740.3" y="831.90" width="44.0" height="5.18" fill="#4040ff"/><rect x="740.3" y="827.03" width="44.0" height="5.18" fill="#5555ff"/><rect x="740.3" y="822.15" width="44.0" height="5.18" fill="#6a6aff"/><rect x="740.3" y="817.27" width="44.0" height="5.18" fill="#8080ff"/><rect x="740.3" y="812.40" width="44.0" height="5.18" fill="#9595ff"/><rect x="740.3" y="807.52" width="44.0" height="5.18" fill="#aaaaff"/><rect x="740.3" y="802.65" width="44.0" height="5.18" fill="#bfbfff"/><rect x="740.3" y="797.77" width="44.0" height="5.18" fill="#d4d4ff"/><rect x="740.3" y="792.89" width="44.0" height="5.18" fill="#eaeaff"/><rect x="740.3" y="788.02" width="44.0" height="5.18" fill="#ffffff"/><rect x="740.3" y="783.14" width="44.0" height="5.18" fill="#fff8f8"/><rect x="740.3" y="778.26" width="44.0" height="5.18" fill="#fff2f2"/><rect x="740.3" y="773.39" width="44.0" height="5.18" fill="#ffebeb"/><rect x="740.3" y="768.51" width="44.0" height="5.18" fill="#ffe4e4"/><rect x="740.3" y="763.63" width="44.0" height="5.18" fill="#ffdddd"/><rect x="740.3" y="758.76" width="44.0" height="5.18" fill="#ffd7d7"/><rect x="740.3" y="753.88" width="44.0" height="5.18" fill="#ffd0d0"/><rect x="740.3" y="749.00" width="44.0" height="5.18" fill="#ffc9c9"/><rect x="740.3" y="744.13" width="44.0" height="5.18" fill="#ffc3c3"/><rect x="740.3" y="739.25" width="44.0" height="5.18" fill="#ffbcbc"/><rect x="740.3" y="734.37" width="44.0" height="5.18" fill="#ffb5b5"/><rect x="740.3" y="729.50" width="44.0" height="5.18" fill="#ffaeae"/><rect x="740.3" y="724.62" width="44.0" height="5.18" fill="#ffa8a8"/><rect x="740.3" y="719.74" width="44.0" height="5.18" fill="#ffa1a1"/><rect x="740.3" y="714.87" width="44.0" height="5.18" fill="#ff9a9a"/><rect x="740.3" y="709.99" width="44.0" height="5.18" fill="#ff9494"/><rect x="740.3" y="705.11" width="44.0" height="5.18" fill="#ff8d8d"/><rect x="740.3" y="700.24" width="44.0" height="5.18" fill="#ff8686"/><rect x="740.3" y="695.36" width="44.0" height="5.18" fill="#ff8080"/><rect x="740.3" y="690.48" width="44.0" height="5.18" fill="#ff7979"/><rect x="740.3" y="685.61" width="44.0" height="5.18" fill="#ff7272"/><rect x="740.3" y="680.73" width="44.0" height="5.18" fill="#ff6b6b"/><rect x="740.3" y="675.85" width="44.0" height="5.18" fill="#ff6565"/><rect x="740.3" y="670.98" width="44.0" height="5.18" fill="#ff5e5e"/><rect x="740.3" y="666.10" width="44.0" height="5.18" fill="#ff5757"/><rect x="740.3" y="661.23" width="44.0" height="5.18" fill="#ff5151"/><rect x="740.3" y="656.35" width="44.0" height="5.18" fill="#ff4a4a"/><rect x="740.3" y="651.47" width="44.0" height="5.18" fill="#ff4343"/><rect x="740.3" y="646.60" width="44.0" height="5.18" fill="#ff3c3c"/><rect x="740.3" y="641.72" width="44.0" height="5.18" fill="#ff3636"/><rect x="740.3" y="636.84" width="44.0" height="5.18" fill="#ff2f2f"/><rect x="740.3" y="631.97" width="44.0" height="5.18" fill="#ff2828"/><rect x="740.3" y="627.09" width="44.0" height="5.18" fill="#ff2222"/><rect x="740.3" y="622.21" width="44.0" height="5.18" fill="#ff1b1b"/><rect x="740.3" y="617.34" width="44.0" height="5.18" fill="#ff1414"/><rect x="740.3" y="612.46" width="44.0" height="5.18" fill="#ff0d0d"/><rect x="740.3" y="607.58" width="44.0" height="5.18" fill="#ff0707"/><rect x="740.3" y="602.71" width="44.0" height="5.18" fill="#ff0000"/><rect x="740.3" y="597.83" width="44.0" height="5.18" fill="#fc0000"/><rect x="740.3" y="592.95" width="44.0" height="5.18" fill="#f80000"/><rect x="740.3" y="588.08" width="44.0" height="5.18" fill="#f40000"/><rect x="740.3" y="583.20" width="44.0" height="5.18" fill="#f00000"/></g>
<rect x="99.8" y="583.2" width="296.5" height="312.1" fill="none" stroke="#000" stroke-width="1.3"/>
<path d="M150.8 583.2V586.7M150.8 895.3V891.8M99.8 841.6H103.3M396.3 841.6H392.8M248.1 583.2V586.7M248.1 895.3V891.8M99.8 739.2H103.3M396.3 739.2H392.8M345.3 583.2V586.7M345.3 895.3V891.8M99.8 636.9H103.3M396.3 636.9H392.8" stroke="#000" stroke-width="1.2" fill="none"/>
<rect x="427.8" y="583.2" width="295.0" height="312.1" fill="none" stroke="#000" stroke-width="1.3"/>
<path d="M478.6 583.2V586.7M478.6 895.3V891.8M427.8 841.6H431.3M722.8 841.6H719.3M575.3 583.2V586.7M575.3 895.3V891.8M427.8 739.2H431.3M722.8 739.2H719.3M672.0 583.2V586.7M672.0 895.3V891.8M427.8 636.9H431.3M722.8 636.9H719.3" stroke="#000" stroke-width="1.2" fill="none"/>
<rect x="740.3" y="583.2" width="44.0" height="312.1" fill="none" stroke="#000" stroke-width="1.3"/>
<path d="M784.3 687H780.8M784.3 791H780.8" stroke="#000" stroke-width="1.2"/>
<text x="122.6" y="631.8" font-family='"Liberation Serif", serif' font-style="italic" font-size="41">π</text>
<text x="145.0" y="631.8" font-family='"Liberation Sans", sans-serif' font-size="40">-pulse</text>
<text x="450.4" y="631.2" font-family='"Liberation Serif", serif' font-style="italic" font-size="41">π</text>
<text x="471.8" y="631.2" font-family='"Liberation Sans", sans-serif' font-size="40">/2-pulse</text>
<g font-family='"Liberation Serif", serif' font-size="36.5">
<text x="58" y="645.2">1</text>
<text x="57.7" y="747.3">0</text>
<text x="57.4" y="849">-1</text>
<text x="134.3" y="935.5">-1</text>
<text x="232.6" y="935.5">0</text>
<text x="329.1" y="935.5">1</text>
<text x="462.0" y="935.5">-1</text>
<text x="559.0" y="935.5">0</text>
<text x="655.7" y="935.5">1</text>
</g>
<text x="194.6" y="971.5" font-family='"Liberation Sans", sans-serif' font-size="39.5">Re(</text>
<text transform="translate(258.6 971.8) scale(1.27 1)" font-family='"Liberation Serif", serif' font-style="italic" font-size="36.0">α</text>
<text x="286.0" y="971.5" font-family='"Liberation Sans", sans-serif' font-size="39.5">)</text>
<text x="528.4" y="973.0" font-family='"Liberation Sans", sans-serif' font-size="39.5">Re(</text>
<text transform="translate(592.9 973.3) scale(1.27 1)" font-family='"Liberation Serif", serif' font-style="italic" font-size="36.0">α</text>
<text x="621.0" y="973.0" font-family='"Liberation Sans", sans-serif' font-size="39.5">)</text>
<text transform="translate(43.7 786.6) rotate(-90)" font-family='"Liberation Sans", sans-serif' font-size="39.5">Im(</text>
<text transform="translate(44.6 728.5) rotate(-90) scale(1.27 1)" font-family='"Liberation Serif", serif' font-style="italic" font-size="36.0">α</text>
<text transform="translate(43.7 701.5) rotate(-90)" font-family='"Liberation Sans", sans-serif' font-size="39.5">)</text>
<g font-family='"Liberation Sans", sans-serif' font-size="33">
<text x="794.4" y="595">1</text>
<text x="793.4" y="699.2">0.5</text>
<text x="793.4" y="803.3">0</text>
<text x="793.5" y="906.8">-0.5</text>
</g>
<text x="725.2" y="564.2" font-family='"Liberation Sans", sans-serif' font-style="italic" font-size="32.5">W</text>
<text x="755.2" y="564.2" font-family='"Liberation Sans", sans-serif' font-size="32.5">(</text>
<text transform="translate(767.2 565) scale(1.2 1)" font-family='"Liberation Serif", serif' font-style="italic" font-size="31">α</text>
<text x="789.3" y="564.2" font-family='"Liberation Sans", sans-serif' font-size="32.5">)</text>
</svg></body></html>
